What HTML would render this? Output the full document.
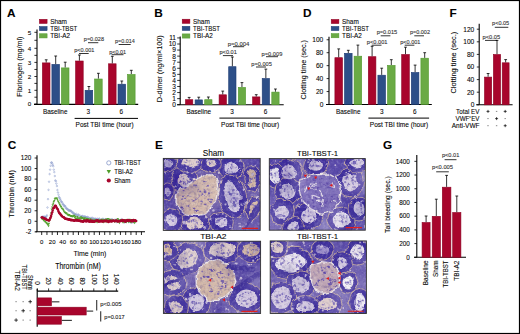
<!DOCTYPE html>
<html><head><meta charset="utf-8"><style>
html,body{margin:0;padding:0;background:#fff;}
body{width:520px;height:334px;overflow:hidden;}
svg{display:block;}
svg text{font-family:"Liberation Sans", sans-serif;stroke:#2a2a2a;stroke-width:0.1px;}
</style></head><body>
<svg width="520" height="334" viewBox="0 0 520 334">
<rect x="0" y="0" width="520" height="334" fill="#fff"/>
<defs>
<filter id="hc" x="-5%" y="-5%" width="110%" height="110%"><feGaussianBlur stdDeviation="3"/></filter>
<filter id="hb" x="-5%" y="-5%" width="110%" height="110%" color-interpolation-filters="sRGB">
<feTurbulence type="fractalNoise" baseFrequency="0.12" numOctaves="2" seed="4" result="dn"/>
<feDisplacementMap in="SourceGraphic" in2="dn" scale="5" xChannelSelector="R" yChannelSelector="G" result="dd"/>
<feGaussianBlur in="dd" stdDeviation="0.6"/></filter>
<filter id="hn" x="0" y="0" width="100%" height="100%" color-interpolation-filters="sRGB">
<feTurbulence type="fractalNoise" baseFrequency="0.35" numOctaves="2" seed="5" result="t"/>
<feColorMatrix in="t" type="matrix" values="0 0 0 0 1  0 0 0 0 1  0 0 0 0 1  2.2 0 0 0 -1.05"/>
</filter>
<filter id="hd" x="0" y="0" width="100%" height="100%" color-interpolation-filters="sRGB">
<feTurbulence type="fractalNoise" baseFrequency="0.35" numOctaves="2" seed="17" result="t"/>
<feColorMatrix in="t" type="matrix" values="0 0 0 0 0.18  0 0 0 0 0.12  0 0 0 0 0.5  2.2 0 0 0 -1.05"/>
</filter>

<clipPath id="c0"><rect x="163.3" y="158.4" width="96.9" height="72.0"/></clipPath>
<clipPath id="c1"><rect x="269.3" y="158.6" width="96.0" height="71.6"/></clipPath>
<clipPath id="c2"><rect x="163.4" y="241.2" width="97.2" height="72.3"/></clipPath>
<clipPath id="c3"><rect x="270.2" y="240.9" width="96.2" height="72.6"/></clipPath>
</defs>
<g clip-path="url(#c0)">
<rect x="163.3" y="158.4" width="96.9" height="72.0" fill="#4636a0"/>
<g filter="url(#hc)" opacity="0.35"><rect x="157.30" y="152.40" width="18.41" height="18.30" fill="#5a4aa0"/><rect x="175.41" y="152.40" width="12.41" height="18.30" fill="#8a78a8"/><rect x="187.53" y="152.40" width="12.41" height="18.30" fill="#c8b0b8"/><rect x="199.64" y="152.40" width="12.41" height="18.30" fill="#7a68a8"/><rect x="211.75" y="152.40" width="12.41" height="18.30" fill="#7a68a8"/><rect x="223.86" y="152.40" width="12.41" height="18.30" fill="#9080b8"/><rect x="235.98" y="152.40" width="12.41" height="18.30" fill="#7a68a8"/><rect x="248.09" y="152.40" width="18.41" height="18.30" fill="#6a5ab0"/><rect x="157.30" y="170.40" width="18.41" height="12.30" fill="#4a3c98"/><rect x="175.41" y="170.40" width="12.41" height="12.30" fill="#7868a8"/><rect x="187.53" y="170.40" width="12.41" height="12.30" fill="#8a78b0"/><rect x="199.64" y="170.40" width="12.41" height="12.30" fill="#b8a0b0"/><rect x="211.75" y="170.40" width="12.41" height="12.30" fill="#9a80a8"/><rect x="223.86" y="170.40" width="12.41" height="12.30" fill="#5a4aa0"/><rect x="235.98" y="170.40" width="12.41" height="12.30" fill="#6050a8"/><rect x="248.09" y="170.40" width="18.41" height="12.30" fill="#7060b0"/><rect x="157.30" y="182.40" width="18.41" height="12.30" fill="#4a3a98"/><rect x="175.41" y="182.40" width="12.41" height="12.30" fill="#6a5aa8"/><rect x="187.53" y="182.40" width="12.41" height="12.30" fill="#8a70a0"/><rect x="199.64" y="182.40" width="12.41" height="12.30" fill="#d0b8a8"/><rect x="211.75" y="182.40" width="12.41" height="12.30" fill="#c0a8b0"/><rect x="223.86" y="182.40" width="12.41" height="12.30" fill="#9888b8"/><rect x="235.98" y="182.40" width="12.41" height="12.30" fill="#8470a8"/><rect x="248.09" y="182.40" width="18.41" height="12.30" fill="#9a84a8"/><rect x="157.30" y="194.40" width="18.41" height="12.30" fill="#6a5aa8"/><rect x="175.41" y="194.40" width="12.41" height="12.30" fill="#b09ab0"/><rect x="187.53" y="194.40" width="12.41" height="12.30" fill="#cdb0a8"/><rect x="199.64" y="194.40" width="12.41" height="12.30" fill="#c8aca8"/><rect x="211.75" y="194.40" width="12.41" height="12.30" fill="#b8a0b0"/><rect x="223.86" y="194.40" width="12.41" height="12.30" fill="#8070a8"/><rect x="235.98" y="194.40" width="12.41" height="12.30" fill="#6a5aa8"/><rect x="248.09" y="194.40" width="18.41" height="12.30" fill="#9a88b0"/><rect x="157.30" y="206.40" width="18.41" height="12.30" fill="#8070b0"/><rect x="175.41" y="206.40" width="12.41" height="12.30" fill="#5a4aa0"/><rect x="187.53" y="206.40" width="12.41" height="12.30" fill="#b0a0b8"/><rect x="199.64" y="206.40" width="12.41" height="12.30" fill="#c0a8b0"/><rect x="211.75" y="206.40" width="12.41" height="12.30" fill="#7060a8"/><rect x="223.86" y="206.40" width="12.41" height="12.30" fill="#8a78a8"/><rect x="235.98" y="206.40" width="12.41" height="12.30" fill="#7060a8"/><rect x="248.09" y="206.40" width="18.41" height="12.30" fill="#8070b0"/><rect x="157.30" y="218.40" width="18.41" height="18.30" fill="#b0a0b8"/><rect x="175.41" y="218.40" width="12.41" height="18.30" fill="#7060a8"/><rect x="187.53" y="218.40" width="12.41" height="18.30" fill="#c0b0c0"/><rect x="199.64" y="218.40" width="12.41" height="18.30" fill="#7a68a8"/><rect x="211.75" y="218.40" width="12.41" height="18.30" fill="#8070a8"/><rect x="223.86" y="218.40" width="12.41" height="18.30" fill="#8474a8"/><rect x="235.98" y="218.40" width="12.41" height="18.30" fill="#9a88b0"/><rect x="248.09" y="218.40" width="18.41" height="18.30" fill="#8070b0"/></g>
<g filter="url(#hb)"><ellipse cx="184.1" cy="180.4" rx="13.0" ry="13.5" fill="#3e2e9c" stroke="#c4a898" stroke-width="0.9"/><ellipse cx="190.3" cy="162.4" rx="14.5" ry="10.0" fill="#3e2e9c" stroke="#c4a898" stroke-width="0.9"/><ellipse cx="231.3" cy="167.4" rx="13.0" ry="12.0" fill="#3e2e9c" stroke="#c4a898" stroke-width="0.9"/><ellipse cx="232.3" cy="196.4" rx="14.0" ry="21.5" fill="#3e2e9c" stroke="#c4a898" stroke-width="0.9" transform="rotate(-12 232.3 196.4)"/><ellipse cx="194.3" cy="223.4" rx="15.0" ry="12.0" fill="#3e2e9c" stroke="#c4a898" stroke-width="0.9"/><ellipse cx="171.3" cy="220.4" rx="11.5" ry="11.5" fill="#3e2e9c" stroke="#c4a898" stroke-width="0.9"/><ellipse cx="221.3" cy="222.4" rx="12.0" ry="11.0" fill="#3e2e9c" stroke="#c4a898" stroke-width="0.9"/><ellipse cx="168.3" cy="163.4" rx="8.5" ry="8.5" fill="#3e2e9c" stroke="#c4a898" stroke-width="0.9"/><ellipse cx="211.3" cy="163.4" rx="10.0" ry="8.5" fill="#3e2e9c" stroke="#c4a898" stroke-width="0.9"/><ellipse cx="252.3" cy="178.4" rx="8.5" ry="13.0" fill="#3e2e9c" stroke="#c4a898" stroke-width="0.9"/><ellipse cx="253.3" cy="208.4" rx="7.5" ry="12.0" fill="#3e2e9c" stroke="#c4a898" stroke-width="0.9" transform="rotate(20 253.3 208.4)"/><ellipse cx="167.3" cy="191.4" rx="7.0" ry="8.5" fill="#3e2e9c" stroke="#c4a898" stroke-width="0.9"/><ellipse cx="184.1" cy="180.4" rx="6.5" ry="7.0" fill="#dccac8"/><circle cx="180.4" cy="181.6" r="1.2" fill="#6252b0" opacity="0.75"/><circle cx="180.5" cy="181.3" r="1.0" fill="#6252b0" opacity="0.75"/><circle cx="185.6" cy="184.1" r="1.0" fill="#6252b0" opacity="0.75"/><circle cx="184.5" cy="178.7" r="0.8" fill="#6252b0" opacity="0.75"/><circle cx="188.0" cy="183.1" r="1.1" fill="#6252b0" opacity="0.75"/><circle cx="189.1" cy="181.8" r="1.3" fill="#6252b0" opacity="0.75"/><circle cx="181.8" cy="176.8" r="0.7" fill="#6252b0" opacity="0.75"/><ellipse cx="190.3" cy="162.4" rx="9.0" ry="4.5" fill="#dccac8"/><circle cx="195.5" cy="162.6" r="0.6" fill="#6252b0" opacity="0.75"/><circle cx="191.6" cy="164.0" r="0.6" fill="#6252b0" opacity="0.75"/><circle cx="185.6" cy="162.9" r="1.2" fill="#6252b0" opacity="0.75"/><circle cx="184.6" cy="162.1" r="0.9" fill="#6252b0" opacity="0.75"/><circle cx="187.8" cy="160.3" r="0.8" fill="#6252b0" opacity="0.75"/><circle cx="197.5" cy="162.3" r="1.2" fill="#6252b0" opacity="0.75"/><ellipse cx="231.3" cy="167.4" rx="7.0" ry="6.0" fill="#d2c8e0"/><circle cx="230.5" cy="164.8" r="0.8" fill="#6252b0" opacity="0.75"/><circle cx="230.9" cy="168.6" r="1.1" fill="#6252b0" opacity="0.75"/><circle cx="227.1" cy="170.0" r="0.9" fill="#6252b0" opacity="0.75"/><circle cx="236.3" cy="166.2" r="0.6" fill="#6252b0" opacity="0.75"/><circle cx="232.6" cy="171.8" r="0.9" fill="#6252b0" opacity="0.75"/><circle cx="234.8" cy="167.0" r="0.7" fill="#6252b0" opacity="0.75"/><circle cx="227.9" cy="164.3" r="0.8" fill="#6252b0" opacity="0.75"/><ellipse cx="232.3" cy="196.4" rx="7.5" ry="15.0" fill="#d2c8e0" transform="rotate(-12 232.3 196.4)"/><circle cx="235.3" cy="200.0" r="1.3" fill="#6252b0" opacity="0.75"/><circle cx="232.4" cy="192.3" r="0.8" fill="#6252b0" opacity="0.75"/><circle cx="233.5" cy="198.1" r="1.2" fill="#6252b0" opacity="0.75"/><circle cx="234.3" cy="204.5" r="0.9" fill="#6252b0" opacity="0.75"/><circle cx="234.2" cy="206.0" r="0.7" fill="#6252b0" opacity="0.75"/><circle cx="231.0" cy="193.2" r="0.9" fill="#6252b0" opacity="0.75"/><circle cx="233.0" cy="202.5" r="1.3" fill="#6252b0" opacity="0.75"/><circle cx="233.4" cy="190.2" r="1.2" fill="#6252b0" opacity="0.75"/><circle cx="233.2" cy="203.7" r="1.2" fill="#6252b0" opacity="0.75"/><circle cx="231.1" cy="193.4" r="1.3" fill="#6252b0" opacity="0.75"/><circle cx="233.0" cy="202.3" r="1.1" fill="#6252b0" opacity="0.75"/><circle cx="230.7" cy="202.1" r="0.7" fill="#6252b0" opacity="0.75"/><circle cx="236.2" cy="201.3" r="0.8" fill="#6252b0" opacity="0.75"/><circle cx="229.4" cy="192.1" r="0.9" fill="#6252b0" opacity="0.75"/><circle cx="236.3" cy="194.3" r="1.0" fill="#6252b0" opacity="0.75"/><circle cx="234.0" cy="192.6" r="0.7" fill="#6252b0" opacity="0.75"/><circle cx="236.9" cy="190.5" r="0.8" fill="#6252b0" opacity="0.75"/><circle cx="234.2" cy="206.0" r="1.3" fill="#6252b0" opacity="0.75"/><ellipse cx="194.3" cy="223.4" rx="9.0" ry="6.0" fill="#dccac8"/><circle cx="196.6" cy="227.8" r="1.2" fill="#6252b0" opacity="0.75"/><circle cx="190.6" cy="221.5" r="0.7" fill="#6252b0" opacity="0.75"/><circle cx="201.2" cy="224.5" r="0.8" fill="#6252b0" opacity="0.75"/><circle cx="193.3" cy="221.1" r="1.2" fill="#6252b0" opacity="0.75"/><circle cx="191.1" cy="221.9" r="0.7" fill="#6252b0" opacity="0.75"/><circle cx="194.0" cy="222.2" r="0.8" fill="#6252b0" opacity="0.75"/><circle cx="188.1" cy="221.8" r="1.0" fill="#6252b0" opacity="0.75"/><circle cx="193.0" cy="227.9" r="0.7" fill="#6252b0" opacity="0.75"/><circle cx="198.0" cy="223.7" r="0.9" fill="#6252b0" opacity="0.75"/><ellipse cx="171.3" cy="220.4" rx="6.0" ry="6.0" fill="#d2c8e0"/><circle cx="173.2" cy="221.1" r="0.9" fill="#6252b0" opacity="0.75"/><circle cx="169.7" cy="219.6" r="0.9" fill="#6252b0" opacity="0.75"/><circle cx="175.0" cy="217.4" r="1.1" fill="#6252b0" opacity="0.75"/><circle cx="170.0" cy="217.0" r="0.7" fill="#6252b0" opacity="0.75"/><circle cx="171.9" cy="220.5" r="1.2" fill="#6252b0" opacity="0.75"/><circle cx="169.9" cy="215.9" r="0.6" fill="#6252b0" opacity="0.75"/><ellipse cx="221.3" cy="222.4" rx="6.0" ry="5.0" fill="#d2c8e0"/><circle cx="219.1" cy="220.3" r="1.1" fill="#6252b0" opacity="0.75"/><circle cx="219.3" cy="226.0" r="0.7" fill="#6252b0" opacity="0.75"/><circle cx="217.4" cy="221.4" r="1.2" fill="#6252b0" opacity="0.75"/><circle cx="221.0" cy="219.1" r="1.2" fill="#6252b0" opacity="0.75"/><circle cx="223.8" cy="221.2" r="1.1" fill="#6252b0" opacity="0.75"/><ellipse cx="168.3" cy="163.4" rx="4.0" ry="4.0" fill="#d2c8e0"/><circle cx="170.7" cy="161.7" r="0.9" fill="#6252b0" opacity="0.75"/><circle cx="169.0" cy="160.5" r="1.0" fill="#6252b0" opacity="0.75"/><ellipse cx="211.3" cy="163.4" rx="5.0" ry="3.5" fill="#dccac8"/><circle cx="209.6" cy="162.2" r="1.0" fill="#6252b0" opacity="0.75"/><circle cx="210.4" cy="162.9" r="1.0" fill="#6252b0" opacity="0.75"/><ellipse cx="252.3" cy="178.4" rx="4.5" ry="9.0" fill="#d2b49e"/><circle cx="255.7" cy="178.1" r="1.1" fill="#6252b0" opacity="0.75"/><circle cx="249.9" cy="182.4" r="1.0" fill="#6252b0" opacity="0.75"/><circle cx="249.2" cy="180.8" r="0.7" fill="#6252b0" opacity="0.75"/><circle cx="252.3" cy="177.2" r="1.0" fill="#6252b0" opacity="0.75"/><circle cx="250.6" cy="178.8" r="1.1" fill="#6252b0" opacity="0.75"/><circle cx="249.5" cy="178.5" r="1.2" fill="#6252b0" opacity="0.75"/><ellipse cx="253.3" cy="208.4" rx="3.5" ry="8.0" fill="#d2b49e" transform="rotate(20 253.3 208.4)"/><circle cx="253.3" cy="209.1" r="0.8" fill="#6252b0" opacity="0.75"/><circle cx="252.8" cy="205.8" r="0.7" fill="#6252b0" opacity="0.75"/><circle cx="255.2" cy="205.5" r="0.9" fill="#6252b0" opacity="0.75"/><circle cx="254.5" cy="206.1" r="1.1" fill="#6252b0" opacity="0.75"/><ellipse cx="167.3" cy="191.4" rx="2.5" ry="4.0" fill="#d2c8e0"/><circle cx="167.7" cy="193.4" r="1.2" fill="#6252b0" opacity="0.75"/><circle cx="251.9" cy="221.8" r="0.91" fill="#d6cadf" opacity="0.8"/><circle cx="219.8" cy="181.2" r="0.71" fill="#d6cadf" opacity="0.8"/><circle cx="211.4" cy="218.7" r="1.28" fill="#d6cadf" opacity="0.8"/><circle cx="232.2" cy="226.8" r="0.82" fill="#d6cadf" opacity="0.8"/><circle cx="179.7" cy="190.8" r="0.82" fill="#d6cadf" opacity="0.8"/><circle cx="184.0" cy="188.2" r="1.10" fill="#d6cadf" opacity="0.8"/><circle cx="211.2" cy="181.1" r="1.27" fill="#d6cadf" opacity="0.8"/><circle cx="258.5" cy="191.0" r="0.66" fill="#d6cadf" opacity="0.8"/><circle cx="166.4" cy="221.2" r="0.63" fill="#d6cadf" opacity="0.8"/><circle cx="232.0" cy="199.5" r="0.85" fill="#d6cadf" opacity="0.8"/><circle cx="240.0" cy="159.8" r="0.71" fill="#d6cadf" opacity="0.8"/><circle cx="207.4" cy="160.2" r="1.26" fill="#d6cadf" opacity="0.8"/><circle cx="186.3" cy="168.5" r="0.64" fill="#d6cadf" opacity="0.8"/><circle cx="224.3" cy="190.5" r="1.10" fill="#d6cadf" opacity="0.8"/><circle cx="226.8" cy="216.5" r="1.37" fill="#d6cadf" opacity="0.8"/><circle cx="229.6" cy="172.8" r="0.98" fill="#d6cadf" opacity="0.8"/><circle cx="180.6" cy="159.2" r="0.98" fill="#d6cadf" opacity="0.8"/><circle cx="232.5" cy="171.3" r="0.82" fill="#d6cadf" opacity="0.8"/><circle cx="196.8" cy="208.6" r="1.02" fill="#d6cadf" opacity="0.8"/><circle cx="222.8" cy="212.8" r="0.91" fill="#d6cadf" opacity="0.8"/><circle cx="240.0" cy="223.6" r="0.67" fill="#d6cadf" opacity="0.8"/><circle cx="253.7" cy="210.4" r="0.70" fill="#d6cadf" opacity="0.8"/><circle cx="207.2" cy="203.4" r="1.33" fill="#d6cadf" opacity="0.8"/><circle cx="199.8" cy="199.4" r="1.30" fill="#d6cadf" opacity="0.8"/><circle cx="240.5" cy="226.4" r="0.97" fill="#d6cadf" opacity="0.8"/><circle cx="226.4" cy="173.2" r="1.18" fill="#d6cadf" opacity="0.8"/><circle cx="242.6" cy="204.6" r="1.17" fill="#d6cadf" opacity="0.8"/><circle cx="184.0" cy="223.2" r="1.38" fill="#d6cadf" opacity="0.8"/><circle cx="258.0" cy="197.1" r="1.23" fill="#d6cadf" opacity="0.8"/><circle cx="194.3" cy="223.9" r="1.28" fill="#d6cadf" opacity="0.8"/><circle cx="197.1" cy="164.4" r="0.95" fill="#d6cadf" opacity="0.8"/><circle cx="216.6" cy="213.7" r="0.99" fill="#d6cadf" opacity="0.8"/><circle cx="166.1" cy="216.7" r="0.65" fill="#d6cadf" opacity="0.8"/><circle cx="240.8" cy="170.8" r="0.87" fill="#d6cadf" opacity="0.8"/><circle cx="239.6" cy="168.5" r="0.72" fill="#d6cadf" opacity="0.8"/><circle cx="213.4" cy="210.5" r="1.27" fill="#d6cadf" opacity="0.8"/><circle cx="230.1" cy="226.5" r="0.99" fill="#d6cadf" opacity="0.8"/><circle cx="255.3" cy="164.6" r="0.78" fill="#d6cadf" opacity="0.8"/><circle cx="214.3" cy="179.3" r="1.18" fill="#d6cadf" opacity="0.8"/><circle cx="225.2" cy="196.0" r="1.27" fill="#d6cadf" opacity="0.8"/><circle cx="217.6" cy="180.8" r="0.90" fill="#d6cadf" opacity="0.8"/><circle cx="245.2" cy="223.2" r="0.77" fill="#d6cadf" opacity="0.8"/><circle cx="245.7" cy="228.1" r="1.02" fill="#d6cadf" opacity="0.8"/><circle cx="218.8" cy="172.9" r="1.03" fill="#d6cadf" opacity="0.8"/><circle cx="212.1" cy="202.0" r="0.62" fill="#d6cadf" opacity="0.8"/><circle cx="257.2" cy="195.6" r="0.92" fill="#d6cadf" opacity="0.8"/><circle cx="240.9" cy="198.9" r="0.99" fill="#d6cadf" opacity="0.8"/><circle cx="230.3" cy="163.1" r="1.03" fill="#d6cadf" opacity="0.8"/><circle cx="203.4" cy="227.3" r="1.34" fill="#d6cadf" opacity="0.8"/><circle cx="189.4" cy="192.5" r="0.70" fill="#d6cadf" opacity="0.8"/><circle cx="205.3" cy="217.1" r="1.32" fill="#d6cadf" opacity="0.8"/><circle cx="209.5" cy="181.2" r="0.75" fill="#d6cadf" opacity="0.8"/><circle cx="223.2" cy="225.0" r="0.70" fill="#d6cadf" opacity="0.8"/><circle cx="238.8" cy="160.0" r="0.76" fill="#d6cadf" opacity="0.8"/><circle cx="185.3" cy="207.9" r="0.86" fill="#d6cadf" opacity="0.8"/><circle cx="197.7" cy="203.0" r="0.68" fill="#d6cadf" opacity="0.8"/><circle cx="234.1" cy="167.2" r="1.01" fill="#d6cadf" opacity="0.8"/><circle cx="187.6" cy="172.6" r="1.02" fill="#d6cadf" opacity="0.8"/><circle cx="205.6" cy="185.5" r="0.93" fill="#d6cadf" opacity="0.8"/><circle cx="214.6" cy="169.9" r="0.76" fill="#d6cadf" opacity="0.8"/><circle cx="224.5" cy="204.4" r="1.02" fill="#d6cadf" opacity="0.8"/><circle cx="245.8" cy="202.4" r="1.29" fill="#d6cadf" opacity="0.8"/><circle cx="185.8" cy="211.7" r="1.25" fill="#d6cadf" opacity="0.8"/><circle cx="250.8" cy="181.1" r="0.85" fill="#d6cadf" opacity="0.8"/><circle cx="252.7" cy="174.1" r="1.40" fill="#d6cadf" opacity="0.8"/><circle cx="249.3" cy="168.0" r="0.79" fill="#d6cadf" opacity="0.8"/><circle cx="233.7" cy="177.1" r="0.68" fill="#d6cadf" opacity="0.8"/><circle cx="243.9" cy="188.8" r="1.23" fill="#d6cadf" opacity="0.8"/><circle cx="175.5" cy="187.4" r="1.15" fill="#d6cadf" opacity="0.8"/><circle cx="165.0" cy="172.9" r="1.15" fill="#d6cadf" opacity="0.8"/><polygon points="176.4,195.6 179.7,189.0 187.4,185.8 193.9,180.3 203.8,174.8 212.5,174.8 216.9,180.3 218.0,189.0 215.8,200.0 210.3,208.7 204.9,214.2 196.1,215.7 186.3,214.2 178.6,208.7 176.0,202.2" fill="#d0b4a6" stroke="#eee6e6" stroke-width="1.3" stroke-linejoin="round"/><ellipse cx="210.1" cy="209.9" rx="0.9" ry="0.9" fill="#5a44a8" opacity="0.85"/><ellipse cx="205.2" cy="195.6" rx="1.3" ry="0.7" fill="#5a44a8" opacity="0.85"/><ellipse cx="183.6" cy="183.5" rx="0.8" ry="0.9" fill="#5a44a8" opacity="0.85"/><ellipse cx="197.6" cy="197.7" rx="0.9" ry="0.7" fill="#5a44a8" opacity="0.85"/><ellipse cx="187.8" cy="206.0" rx="1.5" ry="1.1" fill="#5a44a8" opacity="0.85"/><ellipse cx="184.4" cy="182.1" rx="1.5" ry="0.8" fill="#5a44a8" opacity="0.85"/><ellipse cx="205.4" cy="190.2" rx="1.1" ry="0.9" fill="#5a44a8" opacity="0.85"/><ellipse cx="194.9" cy="198.6" rx="0.8" ry="1.0" fill="#5a44a8" opacity="0.85"/><ellipse cx="208.0" cy="185.8" rx="1.1" ry="1.0" fill="#5a44a8" opacity="0.85"/><ellipse cx="194.1" cy="186.2" rx="0.9" ry="0.9" fill="#5a44a8" opacity="0.85"/><ellipse cx="181.8" cy="207.6" rx="1.4" ry="1.0" fill="#5a44a8" opacity="0.85"/><ellipse cx="208.5" cy="199.5" rx="1.1" ry="0.9" fill="#5a44a8" opacity="0.85"/><ellipse cx="197.2" cy="210.4" rx="1.4" ry="0.7" fill="#5a44a8" opacity="0.85"/><ellipse cx="210.1" cy="203.1" rx="1.3" ry="1.0" fill="#5a44a8" opacity="0.85"/><ellipse cx="194.1" cy="207.7" rx="1.4" ry="0.9" fill="#5a44a8" opacity="0.85"/><ellipse cx="205.5" cy="203.7" rx="1.1" ry="1.0" fill="#5a44a8" opacity="0.85"/><ellipse cx="183.6" cy="190.7" rx="1.1" ry="0.6" fill="#5a44a8" opacity="0.85"/><ellipse cx="192.6" cy="199.8" rx="1.2" ry="0.7" fill="#5a44a8" opacity="0.85"/><ellipse cx="211.1" cy="200.6" rx="1.0" ry="0.9" fill="#5a44a8" opacity="0.85"/><ellipse cx="199.3" cy="196.6" rx="1.1" ry="1.1" fill="#5a44a8" opacity="0.85"/><ellipse cx="201.6" cy="201.7" rx="1.3" ry="1.1" fill="#5a44a8" opacity="0.85"/><ellipse cx="182.1" cy="199.1" rx="1.3" ry="0.7" fill="#5a44a8" opacity="0.85"/><ellipse cx="194.0" cy="181.8" rx="0.9" ry="0.8" fill="#5a44a8" opacity="0.85"/><ellipse cx="184.5" cy="187.9" rx="1.4" ry="0.9" fill="#5a44a8" opacity="0.85"/><ellipse cx="197.4" cy="209.9" rx="1.2" ry="1.1" fill="#5a44a8" opacity="0.85"/><ellipse cx="201.5" cy="205.0" rx="0.9" ry="0.9" fill="#5a44a8" opacity="0.85"/><ellipse cx="205.3" cy="181.6" rx="1.5" ry="0.7" fill="#5a44a8" opacity="0.85"/><ellipse cx="196.2" cy="185.4" rx="1.1" ry="0.9" fill="#5a44a8" opacity="0.85"/><ellipse cx="183.2" cy="209.2" rx="1.1" ry="0.9" fill="#5a44a8" opacity="0.85"/><ellipse cx="200.2" cy="191.4" rx="1.0" ry="0.9" fill="#5a44a8" opacity="0.85"/><ellipse cx="199.0" cy="188.9" rx="1.3" ry="0.7" fill="#5a44a8" opacity="0.85"/><ellipse cx="181.8" cy="187.7" rx="0.8" ry="0.7" fill="#5a44a8" opacity="0.85"/><ellipse cx="205.1" cy="192.2" rx="1.4" ry="1.0" fill="#5a44a8" opacity="0.85"/><ellipse cx="182.9" cy="210.5" rx="1.5" ry="0.6" fill="#5a44a8" opacity="0.85"/><ellipse cx="209.9" cy="193.4" rx="1.1" ry="1.1" fill="#5a44a8" opacity="0.85"/><ellipse cx="189.0" cy="196.3" rx="1.5" ry="1.0" fill="#5a44a8" opacity="0.85"/><ellipse cx="196.1" cy="210.2" rx="1.4" ry="0.9" fill="#5a44a8" opacity="0.85"/><ellipse cx="185.0" cy="199.4" rx="1.1" ry="0.7" fill="#5a44a8" opacity="0.85"/><ellipse cx="183.0" cy="196.4" rx="0.9" ry="0.8" fill="#5a44a8" opacity="0.85"/><ellipse cx="202.4" cy="194.2" rx="1.0" ry="0.9" fill="#5a44a8" opacity="0.85"/><line x1="259.3" y1="202.4" x2="244.3" y2="229.4" stroke="#3a2a96" stroke-width="3.5" stroke-linecap="round"/></g>
<rect x="163.3" y="158.4" width="96.9" height="72.0" filter="url(#hn)" opacity="0.22"/>
<rect x="163.3" y="158.4" width="96.9" height="72.0" filter="url(#hd)" opacity="0.35"/>
<g filter="url(#hc)"><rect x="175.41" y="152.40" width="12.11" height="18.00" fill="#f4eef0" opacity="0.069"/><rect x="187.53" y="152.40" width="12.11" height="18.00" fill="#f4eef0" opacity="0.132"/><rect x="199.64" y="152.40" width="12.11" height="18.00" fill="#f4eef0" opacity="0.040"/><rect x="211.75" y="152.40" width="12.11" height="18.00" fill="#f4eef0" opacity="0.064"/><rect x="235.98" y="152.40" width="12.11" height="18.00" fill="#f4eef0" opacity="0.075"/><rect x="248.09" y="152.40" width="18.11" height="18.00" fill="#f4eef0" opacity="0.049"/><rect x="187.53" y="170.40" width="12.11" height="12.00" fill="#f4eef0" opacity="0.087"/><rect x="199.64" y="170.40" width="12.11" height="12.00" fill="#f4eef0" opacity="0.062"/><rect x="211.75" y="170.40" width="12.11" height="12.00" fill="#f4eef0" opacity="0.061"/><rect x="235.98" y="170.40" width="12.11" height="12.00" fill="#f4eef0" opacity="0.016"/><rect x="199.64" y="182.40" width="12.11" height="12.00" fill="#f4eef0" opacity="0.117"/><rect x="211.75" y="182.40" width="12.11" height="12.00" fill="#f4eef0" opacity="0.140"/><rect x="235.98" y="182.40" width="12.11" height="12.00" fill="#f4eef0" opacity="0.094"/><rect x="248.09" y="182.40" width="18.11" height="12.00" fill="#f4eef0" opacity="0.099"/><rect x="157.30" y="194.40" width="18.11" height="12.00" fill="#f4eef0" opacity="0.037"/><rect x="187.53" y="194.40" width="12.11" height="12.00" fill="#f4eef0" opacity="0.057"/><rect x="199.64" y="194.40" width="12.11" height="12.00" fill="#f4eef0" opacity="0.058"/><rect x="211.75" y="194.40" width="12.11" height="12.00" fill="#f4eef0" opacity="0.179"/><rect x="248.09" y="194.40" width="18.11" height="12.00" fill="#f4eef0" opacity="0.132"/><rect x="157.30" y="206.40" width="18.11" height="12.00" fill="#f4eef0" opacity="0.073"/><rect x="187.53" y="206.40" width="12.11" height="12.00" fill="#f4eef0" opacity="0.037"/><rect x="199.64" y="206.40" width="12.11" height="12.00" fill="#f4eef0" opacity="0.100"/><rect x="211.75" y="206.40" width="12.11" height="12.00" fill="#f4eef0" opacity="0.034"/><rect x="223.86" y="206.40" width="12.11" height="12.00" fill="#f4eef0" opacity="0.078"/><rect x="235.98" y="206.40" width="12.11" height="12.00" fill="#f4eef0" opacity="0.026"/><rect x="248.09" y="206.40" width="18.11" height="12.00" fill="#f4eef0" opacity="0.103"/><rect x="157.30" y="218.40" width="18.11" height="18.00" fill="#f4eef0" opacity="0.159"/><rect x="175.41" y="218.40" width="12.11" height="18.00" fill="#f4eef0" opacity="0.038"/><rect x="187.53" y="218.40" width="12.11" height="18.00" fill="#f4eef0" opacity="0.030"/><rect x="199.64" y="218.40" width="12.11" height="18.00" fill="#f4eef0" opacity="0.046"/><rect x="223.86" y="218.40" width="12.11" height="18.00" fill="#f4eef0" opacity="0.083"/><rect x="235.98" y="218.40" width="12.11" height="18.00" fill="#f4eef0" opacity="0.155"/><rect x="248.09" y="218.40" width="18.11" height="18.00" fill="#f4eef0" opacity="0.104"/><rect x="157.30" y="152.40" width="18.11" height="18.00" fill="#33238a" opacity="0.278"/><rect x="223.86" y="152.40" width="12.11" height="18.00" fill="#33238a" opacity="0.016"/><rect x="157.30" y="170.40" width="18.11" height="12.00" fill="#33238a" opacity="0.190"/><rect x="175.41" y="170.40" width="12.11" height="12.00" fill="#33238a" opacity="0.123"/><rect x="223.86" y="170.40" width="12.11" height="12.00" fill="#33238a" opacity="0.130"/><rect x="248.09" y="170.40" width="18.11" height="12.00" fill="#33238a" opacity="0.158"/><rect x="157.30" y="182.40" width="18.11" height="12.00" fill="#33238a" opacity="0.286"/><rect x="175.41" y="182.40" width="12.11" height="12.00" fill="#33238a" opacity="0.230"/><rect x="187.53" y="182.40" width="12.11" height="12.00" fill="#33238a" opacity="0.192"/><rect x="223.86" y="182.40" width="12.11" height="12.00" fill="#33238a" opacity="0.139"/><rect x="175.41" y="194.40" width="12.11" height="12.00" fill="#33238a" opacity="0.057"/><rect x="223.86" y="194.40" width="12.11" height="12.00" fill="#33238a" opacity="0.196"/><rect x="235.98" y="194.40" width="12.11" height="12.00" fill="#33238a" opacity="0.127"/><rect x="175.41" y="206.40" width="12.11" height="12.00" fill="#33238a" opacity="0.243"/><rect x="211.75" y="218.40" width="12.11" height="18.00" fill="#33238a" opacity="0.048"/></g>
<line x1="241.8" y1="228.4" x2="258.0" y2="228.4" stroke="#e02020" stroke-width="1.1"/>
</g>
<rect x="163.3" y="158.4" width="96.9" height="72.0" fill="none" stroke="#333" stroke-width="0.9"/>
<g clip-path="url(#c1)">
<rect x="269.3" y="158.6" width="96.0" height="71.6" fill="#4a3aa4"/>
<g filter="url(#hc)" opacity="0.35"><rect x="263.30" y="152.60" width="18.30" height="18.23" fill="#7060b0"/><rect x="281.30" y="152.60" width="12.30" height="18.23" fill="#6a5ab0"/><rect x="293.30" y="152.60" width="12.30" height="18.23" fill="#9888c0"/><rect x="305.30" y="152.60" width="12.30" height="18.23" fill="#6a5ab0"/><rect x="317.30" y="152.60" width="12.30" height="18.23" fill="#8070b8"/><rect x="329.30" y="152.60" width="12.30" height="18.23" fill="#6a5ab0"/><rect x="341.30" y="152.60" width="12.30" height="18.23" fill="#7060b0"/><rect x="353.30" y="152.60" width="18.30" height="18.23" fill="#a8a0d0"/><rect x="263.30" y="170.53" width="18.30" height="12.23" fill="#c0b8d8"/><rect x="281.30" y="170.53" width="12.30" height="12.23" fill="#5a4aa8"/><rect x="293.30" y="170.53" width="12.30" height="12.23" fill="#b0a0c8"/><rect x="305.30" y="170.53" width="12.30" height="12.23" fill="#8070b0"/><rect x="317.30" y="170.53" width="12.30" height="12.23" fill="#a090b8"/><rect x="329.30" y="170.53" width="12.30" height="12.23" fill="#7060b0"/><rect x="341.30" y="170.53" width="12.30" height="12.23" fill="#9080c0"/><rect x="353.30" y="170.53" width="18.30" height="12.23" fill="#c0b8d8"/><rect x="263.30" y="182.47" width="18.30" height="12.23" fill="#7060b0"/><rect x="281.30" y="182.47" width="12.30" height="12.23" fill="#6a5ab0"/><rect x="293.30" y="182.47" width="12.30" height="12.23" fill="#a090b8"/><rect x="305.30" y="182.47" width="12.30" height="12.23" fill="#9080b8"/><rect x="317.30" y="182.47" width="12.30" height="12.23" fill="#9080b8"/><rect x="329.30" y="182.47" width="12.30" height="12.23" fill="#9888b8"/><rect x="341.30" y="182.47" width="12.30" height="12.23" fill="#b8b0d0"/><rect x="353.30" y="182.47" width="18.30" height="12.23" fill="#a8a0d0"/><rect x="263.30" y="194.40" width="18.30" height="12.23" fill="#8070b8"/><rect x="281.30" y="194.40" width="12.30" height="12.23" fill="#7a6ab0"/><rect x="293.30" y="194.40" width="12.30" height="12.23" fill="#6a5ab0"/><rect x="305.30" y="194.40" width="12.30" height="12.23" fill="#9a8cc0"/><rect x="317.30" y="194.40" width="12.30" height="12.23" fill="#8070b0"/><rect x="329.30" y="194.40" width="12.30" height="12.23" fill="#8070b0"/><rect x="341.30" y="194.40" width="12.30" height="12.23" fill="#6050a8"/><rect x="353.30" y="194.40" width="18.30" height="12.23" fill="#6a5ab0"/><rect x="263.30" y="206.33" width="18.30" height="12.23" fill="#a898c8"/><rect x="281.30" y="206.33" width="12.30" height="12.23" fill="#c0b0c8"/><rect x="293.30" y="206.33" width="12.30" height="12.23" fill="#5a4aa8"/><rect x="305.30" y="206.33" width="12.30" height="12.23" fill="#b0a4c8"/><rect x="317.30" y="206.33" width="12.30" height="12.23" fill="#8070b8"/><rect x="329.30" y="206.33" width="12.30" height="12.23" fill="#c8c0dc"/><rect x="341.30" y="206.33" width="12.30" height="12.23" fill="#7a6ab8"/><rect x="353.30" y="206.33" width="18.30" height="12.23" fill="#7868b8"/><rect x="263.30" y="218.27" width="18.30" height="18.23" fill="#9a8cc0"/><rect x="281.30" y="218.27" width="12.30" height="18.23" fill="#6a5ab0"/><rect x="293.30" y="218.27" width="12.30" height="18.23" fill="#7060b0"/><rect x="305.30" y="218.27" width="12.30" height="18.23" fill="#8070b8"/><rect x="317.30" y="218.27" width="12.30" height="18.23" fill="#b0a8d0"/><rect x="329.30" y="218.27" width="12.30" height="18.23" fill="#c0b8d8"/><rect x="341.30" y="218.27" width="12.30" height="18.23" fill="#7060b0"/><rect x="353.30" y="218.27" width="18.30" height="18.23" fill="#7a6ab8"/></g>
<g filter="url(#hb)"><ellipse cx="289.0" cy="171.7" rx="13.7" ry="12.6" fill="#3e2e9c" stroke="#c4a898" stroke-width="0.9"/><ellipse cx="315.3" cy="165.2" rx="12.6" ry="11.5" fill="#3e2e9c" stroke="#c4a898" stroke-width="0.9"/><ellipse cx="274.8" cy="176.1" rx="10.0" ry="12.2" fill="#3e2e9c" stroke="#c4a898" stroke-width="0.9"/><ellipse cx="287.9" cy="191.4" rx="13.1" ry="14.2" fill="#3e2e9c" stroke="#c4a898" stroke-width="0.9"/><ellipse cx="282.4" cy="212.2" rx="13.1" ry="13.1" fill="#3e2e9c" stroke="#c4a898" stroke-width="0.9"/><ellipse cx="308.7" cy="215.5" rx="14.2" ry="14.2" fill="#3e2e9c" stroke="#c4a898" stroke-width="0.9"/><ellipse cx="350.3" cy="182.6" rx="14.2" ry="15.3" fill="#3e2e9c" stroke="#c4a898" stroke-width="0.9"/><ellipse cx="341.5" cy="219.9" rx="13.8" ry="12.7" fill="#3e2e9c" stroke="#c4a898" stroke-width="0.9"/><ellipse cx="356.8" cy="163.0" rx="11.6" ry="9.4" fill="#3e2e9c" stroke="#c4a898" stroke-width="0.9"/><ellipse cx="359.0" cy="208.9" rx="11.0" ry="12.1" fill="#3e2e9c" stroke="#c4a898" stroke-width="0.9"/><ellipse cx="293.3" cy="226.4" rx="10.5" ry="9.4" fill="#3e2e9c" stroke="#c4a898" stroke-width="0.9"/><ellipse cx="289.0" cy="171.7" rx="7.7" ry="6.6" fill="#d2c8e0"/><circle cx="284.2" cy="174.0" r="1.0" fill="#6252b0" opacity="0.75"/><circle cx="295.0" cy="171.6" r="1.1" fill="#6252b0" opacity="0.75"/><circle cx="289.2" cy="173.5" r="1.2" fill="#6252b0" opacity="0.75"/><circle cx="290.0" cy="167.6" r="0.9" fill="#6252b0" opacity="0.75"/><circle cx="288.3" cy="176.0" r="1.0" fill="#6252b0" opacity="0.75"/><circle cx="284.9" cy="169.4" r="1.1" fill="#6252b0" opacity="0.75"/><circle cx="290.1" cy="174.1" r="1.3" fill="#6252b0" opacity="0.75"/><circle cx="294.0" cy="169.2" r="0.6" fill="#6252b0" opacity="0.75"/><ellipse cx="315.3" cy="165.2" rx="6.6" ry="5.5" fill="#d2c8e0"/><circle cx="317.9" cy="166.1" r="0.9" fill="#6252b0" opacity="0.75"/><circle cx="314.1" cy="164.2" r="1.0" fill="#6252b0" opacity="0.75"/><circle cx="316.7" cy="165.8" r="1.1" fill="#6252b0" opacity="0.75"/><circle cx="311.3" cy="164.1" r="0.9" fill="#6252b0" opacity="0.75"/><circle cx="312.9" cy="165.5" r="0.8" fill="#6252b0" opacity="0.75"/><circle cx="315.1" cy="161.2" r="0.7" fill="#6252b0" opacity="0.75"/><ellipse cx="274.8" cy="176.1" rx="5.5" ry="7.7" fill="#e8e4ee"/><circle cx="277.7" cy="179.9" r="1.0" fill="#6252b0" opacity="0.75"/><circle cx="275.0" cy="173.3" r="0.9" fill="#6252b0" opacity="0.75"/><circle cx="274.6" cy="181.6" r="0.9" fill="#6252b0" opacity="0.75"/><circle cx="272.3" cy="171.1" r="0.8" fill="#6252b0" opacity="0.75"/><circle cx="271.2" cy="174.5" r="1.2" fill="#6252b0" opacity="0.75"/><circle cx="272.4" cy="177.7" r="0.7" fill="#6252b0" opacity="0.75"/><circle cx="275.7" cy="174.9" r="0.7" fill="#6252b0" opacity="0.75"/><ellipse cx="287.9" cy="191.4" rx="6.6" ry="7.7" fill="#d2c8e0"/><circle cx="284.5" cy="189.7" r="1.1" fill="#6252b0" opacity="0.75"/><circle cx="286.5" cy="196.6" r="0.7" fill="#6252b0" opacity="0.75"/><circle cx="288.9" cy="196.3" r="0.7" fill="#6252b0" opacity="0.75"/><circle cx="286.4" cy="196.3" r="1.1" fill="#6252b0" opacity="0.75"/><circle cx="287.5" cy="193.7" r="0.9" fill="#6252b0" opacity="0.75"/><circle cx="287.4" cy="187.7" r="0.7" fill="#6252b0" opacity="0.75"/><circle cx="286.9" cy="186.9" r="1.2" fill="#6252b0" opacity="0.75"/><circle cx="292.6" cy="189.2" r="0.9" fill="#6252b0" opacity="0.75"/><ellipse cx="282.4" cy="212.2" rx="6.6" ry="6.6" fill="#d2c8e0"/><circle cx="283.4" cy="209.4" r="0.8" fill="#6252b0" opacity="0.75"/><circle cx="278.3" cy="215.2" r="1.2" fill="#6252b0" opacity="0.75"/><circle cx="282.4" cy="215.4" r="0.9" fill="#6252b0" opacity="0.75"/><circle cx="280.2" cy="214.7" r="0.9" fill="#6252b0" opacity="0.75"/><circle cx="283.7" cy="215.9" r="1.2" fill="#6252b0" opacity="0.75"/><circle cx="277.7" cy="211.0" r="1.0" fill="#6252b0" opacity="0.75"/><circle cx="284.4" cy="216.3" r="1.2" fill="#6252b0" opacity="0.75"/><ellipse cx="308.7" cy="215.5" rx="7.7" ry="7.7" fill="#d2c8e0"/><circle cx="308.5" cy="216.4" r="1.0" fill="#6252b0" opacity="0.75"/><circle cx="304.2" cy="214.2" r="1.3" fill="#6252b0" opacity="0.75"/><circle cx="305.5" cy="211.0" r="0.6" fill="#6252b0" opacity="0.75"/><circle cx="303.5" cy="213.9" r="0.7" fill="#6252b0" opacity="0.75"/><circle cx="313.3" cy="218.1" r="1.2" fill="#6252b0" opacity="0.75"/><circle cx="312.9" cy="218.0" r="0.7" fill="#6252b0" opacity="0.75"/><circle cx="308.6" cy="210.5" r="0.8" fill="#6252b0" opacity="0.75"/><circle cx="309.7" cy="220.8" r="1.0" fill="#6252b0" opacity="0.75"/><circle cx="309.1" cy="211.6" r="0.8" fill="#6252b0" opacity="0.75"/><ellipse cx="350.3" cy="182.6" rx="7.7" ry="8.8" fill="#d2c8e0"/><circle cx="355.3" cy="181.5" r="0.9" fill="#6252b0" opacity="0.75"/><circle cx="345.2" cy="181.2" r="1.1" fill="#6252b0" opacity="0.75"/><circle cx="353.7" cy="180.3" r="1.2" fill="#6252b0" opacity="0.75"/><circle cx="347.5" cy="177.0" r="1.2" fill="#6252b0" opacity="0.75"/><circle cx="353.2" cy="176.9" r="1.3" fill="#6252b0" opacity="0.75"/><circle cx="347.5" cy="178.7" r="1.1" fill="#6252b0" opacity="0.75"/><circle cx="351.6" cy="178.3" r="0.9" fill="#6252b0" opacity="0.75"/><circle cx="353.5" cy="187.4" r="1.3" fill="#6252b0" opacity="0.75"/><circle cx="348.5" cy="184.6" r="0.7" fill="#6252b0" opacity="0.75"/><circle cx="347.3" cy="184.3" r="1.3" fill="#6252b0" opacity="0.75"/><circle cx="353.5" cy="184.0" r="0.7" fill="#6252b0" opacity="0.75"/><ellipse cx="341.5" cy="219.9" rx="8.8" ry="7.7" fill="#e4e0ee"/><circle cx="337.8" cy="215.6" r="0.7" fill="#6252b0" opacity="0.75"/><circle cx="345.9" cy="221.5" r="1.0" fill="#6252b0" opacity="0.75"/><circle cx="342.6" cy="219.3" r="0.7" fill="#6252b0" opacity="0.75"/><circle cx="342.8" cy="222.5" r="0.8" fill="#6252b0" opacity="0.75"/><circle cx="340.4" cy="215.2" r="0.8" fill="#6252b0" opacity="0.75"/><circle cx="343.0" cy="222.9" r="0.7" fill="#6252b0" opacity="0.75"/><circle cx="341.7" cy="216.5" r="1.0" fill="#6252b0" opacity="0.75"/><circle cx="343.5" cy="216.0" r="0.8" fill="#6252b0" opacity="0.75"/><circle cx="346.6" cy="216.1" r="0.8" fill="#6252b0" opacity="0.75"/><circle cx="334.9" cy="218.1" r="0.9" fill="#6252b0" opacity="0.75"/><circle cx="341.8" cy="221.3" r="1.3" fill="#6252b0" opacity="0.75"/><ellipse cx="356.8" cy="163.0" rx="6.6" ry="4.4" fill="#d2c8e0"/><circle cx="357.8" cy="160.9" r="1.0" fill="#6252b0" opacity="0.75"/><circle cx="354.0" cy="162.8" r="1.3" fill="#6252b0" opacity="0.75"/><circle cx="355.4" cy="161.6" r="0.6" fill="#6252b0" opacity="0.75"/><circle cx="353.6" cy="163.4" r="1.2" fill="#6252b0" opacity="0.75"/><ellipse cx="359.0" cy="208.9" rx="5.5" ry="6.6" fill="#d2c8e0"/><circle cx="358.2" cy="204.9" r="0.7" fill="#6252b0" opacity="0.75"/><circle cx="360.4" cy="211.4" r="0.8" fill="#6252b0" opacity="0.75"/><circle cx="361.2" cy="206.1" r="1.0" fill="#6252b0" opacity="0.75"/><circle cx="361.3" cy="208.8" r="1.0" fill="#6252b0" opacity="0.75"/><circle cx="361.3" cy="212.7" r="0.6" fill="#6252b0" opacity="0.75"/><circle cx="360.8" cy="204.5" r="1.2" fill="#6252b0" opacity="0.75"/><ellipse cx="293.3" cy="226.4" rx="5.5" ry="4.4" fill="#d2c8e0"/><circle cx="295.3" cy="227.3" r="1.1" fill="#6252b0" opacity="0.75"/><circle cx="295.8" cy="227.8" r="0.9" fill="#6252b0" opacity="0.75"/><circle cx="296.5" cy="225.7" r="1.2" fill="#6252b0" opacity="0.75"/><circle cx="292.0" cy="229.4" r="0.9" fill="#6252b0" opacity="0.75"/><circle cx="357.3" cy="165.1" r="1.26" fill="#d6cadf" opacity="0.8"/><circle cx="289.3" cy="197.5" r="1.02" fill="#d6cadf" opacity="0.8"/><circle cx="284.4" cy="218.2" r="0.85" fill="#d6cadf" opacity="0.8"/><circle cx="299.1" cy="164.0" r="0.84" fill="#d6cadf" opacity="0.8"/><circle cx="314.2" cy="209.8" r="0.89" fill="#d6cadf" opacity="0.8"/><circle cx="335.3" cy="166.2" r="0.92" fill="#d6cadf" opacity="0.8"/><circle cx="313.6" cy="227.8" r="1.26" fill="#d6cadf" opacity="0.8"/><circle cx="332.1" cy="159.5" r="0.90" fill="#d6cadf" opacity="0.8"/><circle cx="337.5" cy="175.6" r="1.05" fill="#d6cadf" opacity="0.8"/><circle cx="313.3" cy="159.3" r="1.39" fill="#d6cadf" opacity="0.8"/><circle cx="346.0" cy="173.4" r="1.09" fill="#d6cadf" opacity="0.8"/><circle cx="297.2" cy="185.5" r="1.03" fill="#d6cadf" opacity="0.8"/><circle cx="297.9" cy="182.8" r="0.91" fill="#d6cadf" opacity="0.8"/><circle cx="333.3" cy="177.0" r="0.76" fill="#d6cadf" opacity="0.8"/><circle cx="339.5" cy="182.2" r="1.36" fill="#d6cadf" opacity="0.8"/><circle cx="323.3" cy="210.4" r="0.87" fill="#d6cadf" opacity="0.8"/><circle cx="348.7" cy="165.2" r="0.71" fill="#d6cadf" opacity="0.8"/><circle cx="278.4" cy="207.1" r="1.17" fill="#d6cadf" opacity="0.8"/><circle cx="286.6" cy="187.4" r="1.27" fill="#d6cadf" opacity="0.8"/><circle cx="326.2" cy="165.1" r="0.78" fill="#d6cadf" opacity="0.8"/><circle cx="284.4" cy="167.5" r="0.93" fill="#d6cadf" opacity="0.8"/><circle cx="276.3" cy="224.5" r="0.94" fill="#d6cadf" opacity="0.8"/><circle cx="318.4" cy="204.9" r="1.21" fill="#d6cadf" opacity="0.8"/><circle cx="348.1" cy="186.2" r="0.87" fill="#d6cadf" opacity="0.8"/><circle cx="308.9" cy="159.7" r="0.92" fill="#d6cadf" opacity="0.8"/><circle cx="336.5" cy="228.9" r="1.23" fill="#d6cadf" opacity="0.8"/><circle cx="332.7" cy="202.2" r="0.61" fill="#d6cadf" opacity="0.8"/><circle cx="301.1" cy="183.1" r="1.12" fill="#d6cadf" opacity="0.8"/><circle cx="279.5" cy="185.6" r="1.01" fill="#d6cadf" opacity="0.8"/><circle cx="345.0" cy="217.7" r="1.09" fill="#d6cadf" opacity="0.8"/><circle cx="284.5" cy="213.5" r="1.32" fill="#d6cadf" opacity="0.8"/><circle cx="321.9" cy="183.8" r="1.00" fill="#d6cadf" opacity="0.8"/><circle cx="282.9" cy="209.7" r="1.39" fill="#d6cadf" opacity="0.8"/><circle cx="318.8" cy="209.8" r="1.27" fill="#d6cadf" opacity="0.8"/><circle cx="288.2" cy="226.3" r="1.10" fill="#d6cadf" opacity="0.8"/><circle cx="288.3" cy="164.6" r="0.80" fill="#d6cadf" opacity="0.8"/><circle cx="324.6" cy="208.5" r="0.86" fill="#d6cadf" opacity="0.8"/><circle cx="358.5" cy="184.5" r="0.97" fill="#d6cadf" opacity="0.8"/><circle cx="281.2" cy="228.3" r="0.71" fill="#d6cadf" opacity="0.8"/><circle cx="356.1" cy="197.5" r="1.05" fill="#d6cadf" opacity="0.8"/><circle cx="323.1" cy="177.5" r="1.33" fill="#d6cadf" opacity="0.8"/><circle cx="364.5" cy="217.1" r="1.08" fill="#d6cadf" opacity="0.8"/><circle cx="281.1" cy="217.6" r="0.83" fill="#d6cadf" opacity="0.8"/><circle cx="355.4" cy="175.8" r="1.06" fill="#d6cadf" opacity="0.8"/><circle cx="349.1" cy="171.9" r="1.04" fill="#d6cadf" opacity="0.8"/><circle cx="276.6" cy="160.9" r="0.74" fill="#d6cadf" opacity="0.8"/><circle cx="364.1" cy="225.9" r="1.13" fill="#d6cadf" opacity="0.8"/><circle cx="298.8" cy="206.7" r="1.19" fill="#d6cadf" opacity="0.8"/><circle cx="305.9" cy="201.0" r="1.24" fill="#d6cadf" opacity="0.8"/><circle cx="270.9" cy="172.9" r="0.97" fill="#d6cadf" opacity="0.8"/><circle cx="283.0" cy="186.3" r="1.06" fill="#d6cadf" opacity="0.8"/><circle cx="286.0" cy="195.8" r="0.81" fill="#d6cadf" opacity="0.8"/><circle cx="323.8" cy="182.4" r="1.11" fill="#d6cadf" opacity="0.8"/><circle cx="272.9" cy="206.6" r="0.72" fill="#d6cadf" opacity="0.8"/><circle cx="361.4" cy="201.6" r="0.98" fill="#d6cadf" opacity="0.8"/><circle cx="308.8" cy="203.3" r="1.15" fill="#d6cadf" opacity="0.8"/><circle cx="342.1" cy="212.4" r="0.99" fill="#d6cadf" opacity="0.8"/><circle cx="364.8" cy="218.6" r="1.28" fill="#d6cadf" opacity="0.8"/><circle cx="308.6" cy="189.7" r="1.05" fill="#d6cadf" opacity="0.8"/><circle cx="356.2" cy="196.3" r="1.02" fill="#d6cadf" opacity="0.8"/><circle cx="310.8" cy="223.3" r="0.86" fill="#d6cadf" opacity="0.8"/><circle cx="274.5" cy="210.6" r="1.32" fill="#d6cadf" opacity="0.8"/><circle cx="339.6" cy="201.4" r="1.20" fill="#d6cadf" opacity="0.8"/><circle cx="298.6" cy="201.1" r="0.66" fill="#d6cadf" opacity="0.8"/><circle cx="281.2" cy="190.6" r="1.00" fill="#d6cadf" opacity="0.8"/><circle cx="307.4" cy="162.3" r="1.16" fill="#d6cadf" opacity="0.8"/><circle cx="319.8" cy="175.7" r="0.85" fill="#d6cadf" opacity="0.8"/><circle cx="307.3" cy="175.5" r="0.65" fill="#d6cadf" opacity="0.8"/><circle cx="356.8" cy="227.8" r="1.13" fill="#d6cadf" opacity="0.8"/><circle cx="352.5" cy="188.8" r="1.24" fill="#d6cadf" opacity="0.8"/><polygon points="299.9,180.5 313.1,175.0 328.4,173.9 337.1,178.3 341.5,189.2 339.3,202.4 332.8,211.1 321.8,214.4 310.9,208.9 302.1,200.2 298.8,189.2" fill="#7a6ab8" stroke="#eee6e6" stroke-width="1.3" stroke-linejoin="round"/><ellipse cx="311.6" cy="200.5" rx="1.2" ry="1.1" fill="#5a44a8" opacity="0.85"/><ellipse cx="307.7" cy="201.9" rx="0.9" ry="0.9" fill="#5a44a8" opacity="0.85"/><ellipse cx="335.0" cy="177.8" rx="1.0" ry="0.7" fill="#5a44a8" opacity="0.85"/><ellipse cx="314.9" cy="179.7" rx="1.4" ry="1.0" fill="#5a44a8" opacity="0.85"/><ellipse cx="317.2" cy="188.7" rx="1.2" ry="0.6" fill="#5a44a8" opacity="0.85"/><ellipse cx="305.5" cy="205.1" rx="1.0" ry="0.8" fill="#5a44a8" opacity="0.85"/><ellipse cx="334.4" cy="207.5" rx="1.1" ry="0.7" fill="#5a44a8" opacity="0.85"/><ellipse cx="314.0" cy="205.8" rx="1.4" ry="0.7" fill="#5a44a8" opacity="0.85"/><ellipse cx="331.3" cy="188.6" rx="1.1" ry="0.7" fill="#5a44a8" opacity="0.85"/><ellipse cx="332.7" cy="208.1" rx="0.9" ry="0.9" fill="#5a44a8" opacity="0.85"/><ellipse cx="310.6" cy="204.6" rx="0.8" ry="0.7" fill="#5a44a8" opacity="0.85"/><ellipse cx="327.7" cy="187.3" rx="1.4" ry="1.0" fill="#5a44a8" opacity="0.85"/><ellipse cx="327.3" cy="181.9" rx="1.3" ry="1.1" fill="#5a44a8" opacity="0.85"/><ellipse cx="318.8" cy="180.2" rx="1.0" ry="0.8" fill="#5a44a8" opacity="0.85"/><ellipse cx="327.3" cy="183.8" rx="0.9" ry="0.7" fill="#5a44a8" opacity="0.85"/><ellipse cx="325.8" cy="201.8" rx="1.1" ry="0.9" fill="#5a44a8" opacity="0.85"/><ellipse cx="332.8" cy="195.7" rx="1.0" ry="0.8" fill="#5a44a8" opacity="0.85"/><ellipse cx="334.2" cy="198.1" rx="1.0" ry="0.9" fill="#5a44a8" opacity="0.85"/><ellipse cx="307.4" cy="207.7" rx="1.1" ry="0.9" fill="#5a44a8" opacity="0.85"/><ellipse cx="321.5" cy="179.2" rx="1.2" ry="0.7" fill="#5a44a8" opacity="0.85"/><ellipse cx="312.5" cy="202.2" rx="0.9" ry="0.7" fill="#5a44a8" opacity="0.85"/><ellipse cx="328.7" cy="185.3" rx="1.0" ry="0.9" fill="#5a44a8" opacity="0.85"/><ellipse cx="310.5" cy="205.1" rx="1.5" ry="0.6" fill="#5a44a8" opacity="0.85"/><ellipse cx="319.3" cy="200.6" rx="1.1" ry="1.1" fill="#5a44a8" opacity="0.85"/><ellipse cx="320.5" cy="183.3" rx="1.2" ry="0.9" fill="#5a44a8" opacity="0.85"/><ellipse cx="316.0" cy="197.8" rx="1.3" ry="0.9" fill="#5a44a8" opacity="0.85"/><ellipse cx="320.7" cy="203.5" rx="1.3" ry="0.9" fill="#5a44a8" opacity="0.85"/><ellipse cx="335.0" cy="183.1" rx="1.3" ry="0.7" fill="#5a44a8" opacity="0.85"/><ellipse cx="324.0" cy="185.0" rx="1.1" ry="1.0" fill="#5a44a8" opacity="0.85"/><ellipse cx="329.7" cy="201.9" rx="1.0" ry="0.8" fill="#5a44a8" opacity="0.85"/><line x1="312.2" y1="195.3" x2="312.2" y2="198.5" stroke="#e8e0ea" stroke-width="1.1" stroke-linecap="round"/><line x1="323.4" y1="199.1" x2="321.7" y2="206.3" stroke="#e8e0ea" stroke-width="1.1" stroke-linecap="round"/><line x1="311.0" y1="183.1" x2="316.4" y2="183.4" stroke="#e8e0ea" stroke-width="1.1" stroke-linecap="round"/><line x1="318.6" y1="191.4" x2="323.3" y2="196.5" stroke="#e8e0ea" stroke-width="1.1" stroke-linecap="round"/><line x1="307.7" y1="204.6" x2="306.5" y2="210.1" stroke="#e8e0ea" stroke-width="1.1" stroke-linecap="round"/><line x1="329.2" y1="185.6" x2="333.3" y2="187.6" stroke="#e8e0ea" stroke-width="1.1" stroke-linecap="round"/><line x1="306.8" y1="187.7" x2="304.7" y2="193.0" stroke="#e8e0ea" stroke-width="1.1" stroke-linecap="round"/><line x1="313.5" y1="195.5" x2="320.3" y2="197.5" stroke="#e8e0ea" stroke-width="1.1" stroke-linecap="round"/><line x1="310.7" y1="186.1" x2="316.4" y2="189.2" stroke="#e8e0ea" stroke-width="1.1" stroke-linecap="round"/><line x1="330.4" y1="201.1" x2="335.4" y2="202.1" stroke="#e8e0ea" stroke-width="1.1" stroke-linecap="round"/><line x1="316.5" y1="185.0" x2="313.3" y2="185.3" stroke="#e8e0ea" stroke-width="1.1" stroke-linecap="round"/><line x1="320.2" y1="200.4" x2="316.5" y2="200.6" stroke="#e8e0ea" stroke-width="1.1" stroke-linecap="round"/><line x1="319.2" y1="200.0" x2="323.4" y2="200.5" stroke="#e8e0ea" stroke-width="1.1" stroke-linecap="round"/><line x1="332.2" y1="182.8" x2="333.7" y2="187.1" stroke="#e8e0ea" stroke-width="1.1" stroke-linecap="round"/></g>
<rect x="269.3" y="158.6" width="96.0" height="71.6" filter="url(#hn)" opacity="0.22"/>
<rect x="269.3" y="158.6" width="96.0" height="71.6" filter="url(#hd)" opacity="0.35"/>
<g filter="url(#hc)"><rect x="263.30" y="152.60" width="18.00" height="17.93" fill="#f4eef0" opacity="0.009"/><rect x="293.30" y="152.60" width="12.00" height="17.93" fill="#f4eef0" opacity="0.163"/><rect x="317.30" y="152.60" width="12.00" height="17.93" fill="#f4eef0" opacity="0.032"/><rect x="329.30" y="152.60" width="12.00" height="17.93" fill="#f4eef0" opacity="0.044"/><rect x="341.30" y="152.60" width="12.00" height="17.93" fill="#f4eef0" opacity="0.032"/><rect x="353.30" y="152.60" width="18.00" height="17.93" fill="#f4eef0" opacity="0.084"/><rect x="293.30" y="170.53" width="12.00" height="11.93" fill="#f4eef0" opacity="0.210"/><rect x="305.30" y="170.53" width="12.00" height="11.93" fill="#f4eef0" opacity="0.016"/><rect x="317.30" y="170.53" width="12.00" height="11.93" fill="#f4eef0" opacity="0.069"/><rect x="353.30" y="170.53" width="18.00" height="11.93" fill="#f4eef0" opacity="0.295"/><rect x="263.30" y="182.47" width="18.00" height="11.93" fill="#f4eef0" opacity="0.059"/><rect x="293.30" y="182.47" width="12.00" height="11.93" fill="#f4eef0" opacity="0.152"/><rect x="305.30" y="182.47" width="12.00" height="11.93" fill="#f4eef0" opacity="0.003"/><rect x="317.30" y="182.47" width="12.00" height="11.93" fill="#f4eef0" opacity="0.073"/><rect x="329.30" y="182.47" width="12.00" height="11.93" fill="#f4eef0" opacity="0.069"/><rect x="341.30" y="182.47" width="12.00" height="11.93" fill="#f4eef0" opacity="0.198"/><rect x="353.30" y="182.47" width="18.00" height="11.93" fill="#f4eef0" opacity="0.213"/><rect x="263.30" y="194.40" width="18.00" height="11.93" fill="#f4eef0" opacity="0.111"/><rect x="281.30" y="194.40" width="12.00" height="11.93" fill="#f4eef0" opacity="0.005"/><rect x="305.30" y="194.40" width="12.00" height="11.93" fill="#f4eef0" opacity="0.093"/><rect x="263.30" y="206.33" width="18.00" height="11.93" fill="#f4eef0" opacity="0.158"/><rect x="281.30" y="206.33" width="12.00" height="11.93" fill="#f4eef0" opacity="0.201"/><rect x="329.30" y="206.33" width="12.00" height="11.93" fill="#f4eef0" opacity="0.298"/><rect x="341.30" y="206.33" width="12.00" height="11.93" fill="#f4eef0" opacity="0.014"/><rect x="263.30" y="218.27" width="18.00" height="17.93" fill="#f4eef0" opacity="0.172"/><rect x="305.30" y="218.27" width="12.00" height="17.93" fill="#f4eef0" opacity="0.042"/><rect x="317.30" y="218.27" width="12.00" height="17.93" fill="#f4eef0" opacity="0.240"/><rect x="329.30" y="218.27" width="12.00" height="17.93" fill="#f4eef0" opacity="0.214"/><rect x="353.30" y="218.27" width="18.00" height="17.93" fill="#f4eef0" opacity="0.069"/><rect x="281.30" y="152.60" width="12.00" height="17.93" fill="#33238a" opacity="0.125"/><rect x="305.30" y="152.60" width="12.00" height="17.93" fill="#33238a" opacity="0.202"/><rect x="263.30" y="170.53" width="18.00" height="11.93" fill="#33238a" opacity="0.023"/><rect x="281.30" y="170.53" width="12.00" height="11.93" fill="#33238a" opacity="0.287"/><rect x="329.30" y="170.53" width="12.00" height="11.93" fill="#33238a" opacity="0.045"/><rect x="341.30" y="170.53" width="12.00" height="11.93" fill="#33238a" opacity="0.023"/><rect x="281.30" y="182.47" width="12.00" height="11.93" fill="#33238a" opacity="0.267"/><rect x="293.30" y="194.40" width="12.00" height="11.93" fill="#33238a" opacity="0.011"/><rect x="317.30" y="194.40" width="12.00" height="11.93" fill="#33238a" opacity="0.080"/><rect x="329.30" y="194.40" width="12.00" height="11.93" fill="#33238a" opacity="0.051"/><rect x="341.30" y="194.40" width="12.00" height="11.93" fill="#33238a" opacity="0.035"/><rect x="353.30" y="194.40" width="18.00" height="11.93" fill="#33238a" opacity="0.063"/><rect x="293.30" y="206.33" width="12.00" height="11.93" fill="#33238a" opacity="0.031"/><rect x="305.30" y="206.33" width="12.00" height="11.93" fill="#33238a" opacity="0.033"/><rect x="317.30" y="206.33" width="12.00" height="11.93" fill="#33238a" opacity="0.037"/><rect x="353.30" y="206.33" width="18.00" height="11.93" fill="#33238a" opacity="0.183"/><rect x="281.30" y="218.27" width="12.00" height="17.93" fill="#33238a" opacity="0.028"/><rect x="293.30" y="218.27" width="12.00" height="17.93" fill="#33238a" opacity="0.022"/><rect x="341.30" y="218.27" width="12.00" height="17.93" fill="#33238a" opacity="0.172"/></g>
<path d="M303.8 174.7 l3.2 0 l-1.6 2.8z" fill="#e41a1a"/>
<path d="M314.1 176.5 l3.2 0 l-1.6 2.8z" fill="#e41a1a"/>
<path d="M307.1 187.4 l3.2 0 l-1.6 2.8z" fill="#e41a1a"/>
<path d="M329.6 185.3 l2.8 -1.6 l0 3.2z" fill="#e41a1a"/>
<line x1="345.7" y1="227.6" x2="361.9" y2="227.6" stroke="#e02020" stroke-width="1.1"/>
</g>
<rect x="269.3" y="158.6" width="96.0" height="71.6" fill="none" stroke="#333" stroke-width="0.9"/>
<g clip-path="url(#c2)">
<rect x="163.4" y="241.2" width="97.2" height="72.3" fill="#4a3aa2"/>
<g filter="url(#hc)" opacity="0.35"><rect x="157.40" y="235.20" width="18.45" height="18.35" fill="#8070b0"/><rect x="175.55" y="235.20" width="12.45" height="18.35" fill="#9080b8"/><rect x="187.70" y="235.20" width="12.45" height="18.35" fill="#b8a8c0"/><rect x="199.85" y="235.20" width="12.45" height="18.35" fill="#9a88b8"/><rect x="212.00" y="235.20" width="12.45" height="18.35" fill="#8a78b0"/><rect x="224.15" y="235.20" width="12.45" height="18.35" fill="#b8a8c0"/><rect x="236.30" y="235.20" width="12.45" height="18.35" fill="#9080b8"/><rect x="248.45" y="235.20" width="18.45" height="18.35" fill="#6a5aa8"/><rect x="157.40" y="253.25" width="18.45" height="12.35" fill="#8a78b0"/><rect x="175.55" y="253.25" width="12.45" height="12.35" fill="#6a58a8"/><rect x="187.70" y="253.25" width="12.45" height="12.35" fill="#d8ccd0"/><rect x="199.85" y="253.25" width="12.45" height="12.35" fill="#c8b8c8"/><rect x="212.00" y="253.25" width="12.45" height="12.35" fill="#6a58a8"/><rect x="224.15" y="253.25" width="12.45" height="12.35" fill="#8070b0"/><rect x="236.30" y="253.25" width="12.45" height="12.35" fill="#8070b8"/><rect x="248.45" y="253.25" width="18.45" height="12.35" fill="#6a5aa8"/><rect x="157.40" y="265.30" width="18.45" height="12.35" fill="#8070b0"/><rect x="175.55" y="265.30" width="12.45" height="12.35" fill="#7a68a8"/><rect x="187.70" y="265.30" width="12.45" height="12.35" fill="#b0a0c0"/><rect x="199.85" y="265.30" width="12.45" height="12.35" fill="#a090b0"/><rect x="212.00" y="265.30" width="12.45" height="12.35" fill="#c0a8b0"/><rect x="224.15" y="265.30" width="12.45" height="12.35" fill="#6a58a8"/><rect x="236.30" y="265.30" width="12.45" height="12.35" fill="#6555a8"/><rect x="248.45" y="265.30" width="18.45" height="12.35" fill="#8070b0"/><rect x="157.40" y="277.35" width="18.45" height="12.35" fill="#8070b0"/><rect x="175.55" y="277.35" width="12.45" height="12.35" fill="#b8a8c0"/><rect x="187.70" y="277.35" width="12.45" height="12.35" fill="#9a88b8"/><rect x="199.85" y="277.35" width="12.45" height="12.35" fill="#c8b0b0"/><rect x="212.00" y="277.35" width="12.45" height="12.35" fill="#d0b8b0"/><rect x="224.15" y="277.35" width="12.45" height="12.35" fill="#c0a8b0"/><rect x="236.30" y="277.35" width="12.45" height="12.35" fill="#6050a0"/><rect x="248.45" y="277.35" width="18.45" height="12.35" fill="#9a90c0"/><rect x="157.40" y="289.40" width="18.45" height="12.35" fill="#a090b8"/><rect x="175.55" y="289.40" width="12.45" height="12.35" fill="#7060b0"/><rect x="187.70" y="289.40" width="12.45" height="12.35" fill="#9888c0"/><rect x="199.85" y="289.40" width="12.45" height="12.35" fill="#b8a0b0"/><rect x="212.00" y="289.40" width="12.45" height="12.35" fill="#c8b4b8"/><rect x="224.15" y="289.40" width="12.45" height="12.35" fill="#9888c0"/><rect x="236.30" y="289.40" width="12.45" height="12.35" fill="#a8a0c8"/><rect x="248.45" y="289.40" width="18.45" height="12.35" fill="#9a90c0"/><rect x="157.40" y="301.45" width="18.45" height="18.35" fill="#7a68b0"/><rect x="175.55" y="301.45" width="12.45" height="18.35" fill="#8a78b0"/><rect x="187.70" y="301.45" width="12.45" height="18.35" fill="#a090c0"/><rect x="199.85" y="301.45" width="12.45" height="18.35" fill="#9a88b0"/><rect x="212.00" y="301.45" width="12.45" height="18.35" fill="#6a5aa8"/><rect x="224.15" y="301.45" width="12.45" height="18.35" fill="#9080b8"/><rect x="236.30" y="301.45" width="12.45" height="18.35" fill="#a8a0c8"/><rect x="248.45" y="301.45" width="18.45" height="18.35" fill="#8878b8"/></g>
<g filter="url(#hb)"><ellipse cx="187.4" cy="258.7" rx="17.5" ry="15.3" fill="#3e2e9c" stroke="#c4a898" stroke-width="0.9" transform="rotate(-30 187.4 258.7)"/><ellipse cx="222.4" cy="250.0" rx="19.0" ry="13.7" fill="#3e2e9c" stroke="#c4a898" stroke-width="0.9"/><ellipse cx="172.2" cy="282.8" rx="13.7" ry="13.7" fill="#3e2e9c" stroke="#c4a898" stroke-width="0.9"/><ellipse cx="196.2" cy="302.5" rx="14.2" ry="15.3" fill="#3e2e9c" stroke="#c4a898" stroke-width="0.9"/><ellipse cx="250.9" cy="250.0" rx="13.8" ry="11.6" fill="#3e2e9c" stroke="#c4a898" stroke-width="0.9"/><ellipse cx="246.4" cy="298.2" rx="17.0" ry="14.8" fill="#3e2e9c" stroke="#c4a898" stroke-width="0.9"/><ellipse cx="167.8" cy="250.0" rx="8.9" ry="11.1" fill="#3e2e9c" stroke="#c4a898" stroke-width="0.9"/><ellipse cx="176.5" cy="306.8" rx="12.1" ry="11.0" fill="#3e2e9c" stroke="#c4a898" stroke-width="0.9"/><ellipse cx="187.4" cy="258.7" rx="11.0" ry="8.8" fill="#dccac8" transform="rotate(-30 187.4 258.7)"/><circle cx="185.2" cy="259.6" r="0.6" fill="#6252b0" opacity="0.75"/><circle cx="195.1" cy="258.6" r="1.1" fill="#6252b0" opacity="0.75"/><circle cx="188.0" cy="262.2" r="1.0" fill="#6252b0" opacity="0.75"/><circle cx="187.7" cy="263.5" r="1.3" fill="#6252b0" opacity="0.75"/><circle cx="184.0" cy="261.8" r="1.3" fill="#6252b0" opacity="0.75"/><circle cx="186.1" cy="257.8" r="0.9" fill="#6252b0" opacity="0.75"/><circle cx="186.1" cy="257.3" r="0.8" fill="#6252b0" opacity="0.75"/><circle cx="184.6" cy="252.5" r="1.0" fill="#6252b0" opacity="0.75"/><circle cx="191.9" cy="255.6" r="0.9" fill="#6252b0" opacity="0.75"/><circle cx="190.4" cy="255.1" r="1.1" fill="#6252b0" opacity="0.75"/><circle cx="188.5" cy="262.8" r="0.7" fill="#6252b0" opacity="0.75"/><circle cx="184.0" cy="257.8" r="0.7" fill="#6252b0" opacity="0.75"/><circle cx="188.7" cy="263.4" r="0.8" fill="#6252b0" opacity="0.75"/><circle cx="179.1" cy="261.0" r="1.1" fill="#6252b0" opacity="0.75"/><circle cx="190.0" cy="256.3" r="0.9" fill="#6252b0" opacity="0.75"/><circle cx="194.0" cy="261.3" r="0.9" fill="#6252b0" opacity="0.75"/><ellipse cx="222.4" cy="250.0" rx="13.0" ry="7.7" fill="#dccac8"/><circle cx="222.2" cy="250.8" r="0.7" fill="#6252b0" opacity="0.75"/><circle cx="221.9" cy="253.8" r="1.2" fill="#6252b0" opacity="0.75"/><circle cx="221.2" cy="246.9" r="0.9" fill="#6252b0" opacity="0.75"/><circle cx="228.1" cy="254.9" r="0.9" fill="#6252b0" opacity="0.75"/><circle cx="223.3" cy="244.8" r="1.2" fill="#6252b0" opacity="0.75"/><circle cx="228.3" cy="250.4" r="0.9" fill="#6252b0" opacity="0.75"/><circle cx="230.9" cy="252.9" r="0.8" fill="#6252b0" opacity="0.75"/><circle cx="223.4" cy="245.6" r="0.6" fill="#6252b0" opacity="0.75"/><circle cx="218.4" cy="251.9" r="0.6" fill="#6252b0" opacity="0.75"/><circle cx="227.1" cy="253.9" r="0.6" fill="#6252b0" opacity="0.75"/><circle cx="219.8" cy="253.7" r="1.0" fill="#6252b0" opacity="0.75"/><circle cx="228.1" cy="253.9" r="0.8" fill="#6252b0" opacity="0.75"/><circle cx="221.1" cy="245.0" r="0.7" fill="#6252b0" opacity="0.75"/><circle cx="223.9" cy="253.1" r="1.1" fill="#6252b0" opacity="0.75"/><circle cx="217.0" cy="252.1" r="1.2" fill="#6252b0" opacity="0.75"/><circle cx="223.2" cy="253.3" r="0.8" fill="#6252b0" opacity="0.75"/><ellipse cx="172.2" cy="282.8" rx="7.7" ry="7.7" fill="#dccac8"/><circle cx="172.5" cy="284.0" r="0.6" fill="#6252b0" opacity="0.75"/><circle cx="169.0" cy="279.4" r="1.2" fill="#6252b0" opacity="0.75"/><circle cx="175.5" cy="282.3" r="1.1" fill="#6252b0" opacity="0.75"/><circle cx="174.7" cy="281.4" r="1.1" fill="#6252b0" opacity="0.75"/><circle cx="169.2" cy="277.6" r="1.2" fill="#6252b0" opacity="0.75"/><circle cx="172.7" cy="287.7" r="0.7" fill="#6252b0" opacity="0.75"/><circle cx="168.7" cy="284.5" r="0.6" fill="#6252b0" opacity="0.75"/><circle cx="169.6" cy="285.2" r="0.9" fill="#6252b0" opacity="0.75"/><circle cx="171.7" cy="285.2" r="0.9" fill="#6252b0" opacity="0.75"/><ellipse cx="196.2" cy="302.5" rx="7.7" ry="8.8" fill="#d2c8e0"/><circle cx="193.7" cy="302.9" r="1.1" fill="#6252b0" opacity="0.75"/><circle cx="196.3" cy="304.6" r="0.8" fill="#6252b0" opacity="0.75"/><circle cx="194.1" cy="303.8" r="1.0" fill="#6252b0" opacity="0.75"/><circle cx="194.8" cy="297.5" r="1.1" fill="#6252b0" opacity="0.75"/><circle cx="200.0" cy="303.1" r="0.9" fill="#6252b0" opacity="0.75"/><circle cx="199.8" cy="304.2" r="0.6" fill="#6252b0" opacity="0.75"/><circle cx="191.5" cy="302.7" r="0.9" fill="#6252b0" opacity="0.75"/><circle cx="194.8" cy="305.7" r="0.6" fill="#6252b0" opacity="0.75"/><circle cx="192.9" cy="307.9" r="1.0" fill="#6252b0" opacity="0.75"/><circle cx="195.8" cy="308.2" r="0.7" fill="#6252b0" opacity="0.75"/><circle cx="191.5" cy="303.6" r="1.3" fill="#6252b0" opacity="0.75"/><ellipse cx="250.9" cy="250.0" rx="8.8" ry="6.6" fill="#d2b49e"/><circle cx="247.4" cy="253.0" r="1.3" fill="#6252b0" opacity="0.75"/><circle cx="251.7" cy="245.9" r="1.0" fill="#6252b0" opacity="0.75"/><circle cx="247.1" cy="251.8" r="0.8" fill="#6252b0" opacity="0.75"/><circle cx="254.1" cy="245.7" r="0.9" fill="#6252b0" opacity="0.75"/><circle cx="252.1" cy="249.4" r="0.7" fill="#6252b0" opacity="0.75"/><circle cx="247.0" cy="249.9" r="0.9" fill="#6252b0" opacity="0.75"/><circle cx="253.6" cy="249.7" r="0.7" fill="#6252b0" opacity="0.75"/><circle cx="251.7" cy="254.3" r="0.8" fill="#6252b0" opacity="0.75"/><circle cx="256.1" cy="250.0" r="0.9" fill="#6252b0" opacity="0.75"/><ellipse cx="246.4" cy="298.2" rx="11.0" ry="8.8" fill="#d2c8e0"/><circle cx="246.8" cy="303.1" r="1.1" fill="#6252b0" opacity="0.75"/><circle cx="239.8" cy="296.5" r="1.0" fill="#6252b0" opacity="0.75"/><circle cx="250.6" cy="292.2" r="0.8" fill="#6252b0" opacity="0.75"/><circle cx="241.7" cy="303.6" r="0.8" fill="#6252b0" opacity="0.75"/><circle cx="244.8" cy="292.5" r="1.1" fill="#6252b0" opacity="0.75"/><circle cx="254.2" cy="296.8" r="0.7" fill="#6252b0" opacity="0.75"/><circle cx="241.9" cy="294.8" r="1.0" fill="#6252b0" opacity="0.75"/><circle cx="243.2" cy="301.0" r="1.1" fill="#6252b0" opacity="0.75"/><circle cx="242.2" cy="297.5" r="0.8" fill="#6252b0" opacity="0.75"/><circle cx="244.7" cy="300.8" r="1.0" fill="#6252b0" opacity="0.75"/><circle cx="248.0" cy="299.5" r="0.6" fill="#6252b0" opacity="0.75"/><circle cx="252.3" cy="301.7" r="0.7" fill="#6252b0" opacity="0.75"/><circle cx="239.0" cy="300.1" r="0.9" fill="#6252b0" opacity="0.75"/><circle cx="250.7" cy="303.8" r="1.2" fill="#6252b0" opacity="0.75"/><circle cx="250.6" cy="299.4" r="1.0" fill="#6252b0" opacity="0.75"/><circle cx="248.0" cy="294.0" r="1.1" fill="#6252b0" opacity="0.75"/><ellipse cx="167.8" cy="250.0" rx="4.4" ry="6.6" fill="#d2b49e"/><circle cx="167.8" cy="254.5" r="0.8" fill="#6252b0" opacity="0.75"/><circle cx="166.3" cy="254.0" r="1.2" fill="#6252b0" opacity="0.75"/><circle cx="169.1" cy="246.5" r="0.9" fill="#6252b0" opacity="0.75"/><circle cx="167.1" cy="246.0" r="1.2" fill="#6252b0" opacity="0.75"/><ellipse cx="176.5" cy="306.8" rx="6.6" ry="5.5" fill="#dccac8"/><circle cx="177.1" cy="305.3" r="0.9" fill="#6252b0" opacity="0.75"/><circle cx="175.3" cy="305.0" r="0.7" fill="#6252b0" opacity="0.75"/><circle cx="180.5" cy="307.1" r="1.3" fill="#6252b0" opacity="0.75"/><circle cx="178.4" cy="306.5" r="1.1" fill="#6252b0" opacity="0.75"/><circle cx="172.8" cy="308.5" r="0.9" fill="#6252b0" opacity="0.75"/><circle cx="181.3" cy="305.0" r="0.6" fill="#6252b0" opacity="0.75"/><circle cx="232.7" cy="249.8" r="0.63" fill="#d6cadf" opacity="0.8"/><circle cx="191.2" cy="294.1" r="1.39" fill="#d6cadf" opacity="0.8"/><circle cx="175.1" cy="265.1" r="0.62" fill="#d6cadf" opacity="0.8"/><circle cx="216.1" cy="276.1" r="0.90" fill="#d6cadf" opacity="0.8"/><circle cx="193.5" cy="299.1" r="1.27" fill="#d6cadf" opacity="0.8"/><circle cx="191.0" cy="269.5" r="1.09" fill="#d6cadf" opacity="0.8"/><circle cx="237.8" cy="312.1" r="0.91" fill="#d6cadf" opacity="0.8"/><circle cx="230.9" cy="280.7" r="1.24" fill="#d6cadf" opacity="0.8"/><circle cx="177.7" cy="253.9" r="0.69" fill="#d6cadf" opacity="0.8"/><circle cx="254.1" cy="259.4" r="0.99" fill="#d6cadf" opacity="0.8"/><circle cx="175.1" cy="264.6" r="0.62" fill="#d6cadf" opacity="0.8"/><circle cx="218.4" cy="251.6" r="1.10" fill="#d6cadf" opacity="0.8"/><circle cx="190.0" cy="257.7" r="0.99" fill="#d6cadf" opacity="0.8"/><circle cx="199.0" cy="260.0" r="0.64" fill="#d6cadf" opacity="0.8"/><circle cx="169.7" cy="305.7" r="0.85" fill="#d6cadf" opacity="0.8"/><circle cx="171.0" cy="254.4" r="0.99" fill="#d6cadf" opacity="0.8"/><circle cx="260.3" cy="255.8" r="1.29" fill="#d6cadf" opacity="0.8"/><circle cx="210.5" cy="271.2" r="1.25" fill="#d6cadf" opacity="0.8"/><circle cx="201.9" cy="245.4" r="1.04" fill="#d6cadf" opacity="0.8"/><circle cx="227.2" cy="286.2" r="0.82" fill="#d6cadf" opacity="0.8"/><circle cx="254.7" cy="303.7" r="1.40" fill="#d6cadf" opacity="0.8"/><circle cx="206.5" cy="301.5" r="1.18" fill="#d6cadf" opacity="0.8"/><circle cx="180.5" cy="243.1" r="0.74" fill="#d6cadf" opacity="0.8"/><circle cx="174.9" cy="246.6" r="0.89" fill="#d6cadf" opacity="0.8"/><circle cx="236.6" cy="263.6" r="1.01" fill="#d6cadf" opacity="0.8"/><circle cx="164.4" cy="256.4" r="1.37" fill="#d6cadf" opacity="0.8"/><circle cx="164.5" cy="279.3" r="1.25" fill="#d6cadf" opacity="0.8"/><circle cx="240.4" cy="294.4" r="0.92" fill="#d6cadf" opacity="0.8"/><circle cx="241.5" cy="301.0" r="1.21" fill="#d6cadf" opacity="0.8"/><circle cx="259.2" cy="248.5" r="1.36" fill="#d6cadf" opacity="0.8"/><circle cx="202.5" cy="292.2" r="0.80" fill="#d6cadf" opacity="0.8"/><circle cx="251.8" cy="242.9" r="1.06" fill="#d6cadf" opacity="0.8"/><circle cx="185.5" cy="269.3" r="0.90" fill="#d6cadf" opacity="0.8"/><circle cx="227.3" cy="299.8" r="0.89" fill="#d6cadf" opacity="0.8"/><circle cx="225.4" cy="266.8" r="0.82" fill="#d6cadf" opacity="0.8"/><circle cx="251.4" cy="264.5" r="0.68" fill="#d6cadf" opacity="0.8"/><circle cx="195.9" cy="294.8" r="0.77" fill="#d6cadf" opacity="0.8"/><circle cx="235.6" cy="280.7" r="1.14" fill="#d6cadf" opacity="0.8"/><circle cx="180.6" cy="248.9" r="0.71" fill="#d6cadf" opacity="0.8"/><circle cx="197.5" cy="272.3" r="0.61" fill="#d6cadf" opacity="0.8"/><circle cx="212.2" cy="270.4" r="0.86" fill="#d6cadf" opacity="0.8"/><circle cx="215.6" cy="310.1" r="0.76" fill="#d6cadf" opacity="0.8"/><circle cx="249.0" cy="264.4" r="1.20" fill="#d6cadf" opacity="0.8"/><circle cx="173.9" cy="312.6" r="0.94" fill="#d6cadf" opacity="0.8"/><circle cx="257.0" cy="257.1" r="0.93" fill="#d6cadf" opacity="0.8"/><circle cx="232.0" cy="254.1" r="0.82" fill="#d6cadf" opacity="0.8"/><circle cx="229.2" cy="309.7" r="0.86" fill="#d6cadf" opacity="0.8"/><circle cx="181.2" cy="267.0" r="1.39" fill="#d6cadf" opacity="0.8"/><circle cx="177.8" cy="287.1" r="0.90" fill="#d6cadf" opacity="0.8"/><circle cx="226.0" cy="256.5" r="1.09" fill="#d6cadf" opacity="0.8"/><circle cx="249.7" cy="303.1" r="1.10" fill="#d6cadf" opacity="0.8"/><circle cx="212.5" cy="282.2" r="0.69" fill="#d6cadf" opacity="0.8"/><circle cx="244.8" cy="291.1" r="0.96" fill="#d6cadf" opacity="0.8"/><circle cx="228.1" cy="271.5" r="0.91" fill="#d6cadf" opacity="0.8"/><circle cx="185.8" cy="284.6" r="1.06" fill="#d6cadf" opacity="0.8"/><circle cx="213.5" cy="243.5" r="1.10" fill="#d6cadf" opacity="0.8"/><circle cx="206.8" cy="284.1" r="1.08" fill="#d6cadf" opacity="0.8"/><circle cx="254.0" cy="252.2" r="0.97" fill="#d6cadf" opacity="0.8"/><circle cx="259.9" cy="294.6" r="0.85" fill="#d6cadf" opacity="0.8"/><circle cx="235.0" cy="312.7" r="0.92" fill="#d6cadf" opacity="0.8"/><circle cx="247.7" cy="250.4" r="1.39" fill="#d6cadf" opacity="0.8"/><circle cx="211.1" cy="258.1" r="1.27" fill="#d6cadf" opacity="0.8"/><circle cx="226.5" cy="309.0" r="1.26" fill="#d6cadf" opacity="0.8"/><circle cx="240.9" cy="278.2" r="1.39" fill="#d6cadf" opacity="0.8"/><circle cx="169.7" cy="304.1" r="1.17" fill="#d6cadf" opacity="0.8"/><circle cx="187.8" cy="299.6" r="0.96" fill="#d6cadf" opacity="0.8"/><circle cx="215.5" cy="303.8" r="0.76" fill="#d6cadf" opacity="0.8"/><circle cx="190.6" cy="287.7" r="0.66" fill="#d6cadf" opacity="0.8"/><circle cx="217.3" cy="298.1" r="0.99" fill="#d6cadf" opacity="0.8"/><circle cx="186.9" cy="299.0" r="1.28" fill="#d6cadf" opacity="0.8"/><polygon points="198.4,269.6 205.0,263.1 215.9,259.8 226.9,263.1 233.4,269.6 235.6,280.6 233.4,289.3 226.9,295.9 218.1,300.3 207.2,300.3 200.6,293.7 196.2,285.0 196.2,276.2" fill="#d0b4a4" stroke="#eee6e6" stroke-width="1.3" stroke-linejoin="round"/><ellipse cx="222.9" cy="282.0" rx="1.4" ry="1.0" fill="#5a44a8" opacity="0.85"/><ellipse cx="204.6" cy="276.4" rx="0.9" ry="0.6" fill="#5a44a8" opacity="0.85"/><ellipse cx="210.4" cy="291.6" rx="1.4" ry="0.7" fill="#5a44a8" opacity="0.85"/><ellipse cx="205.5" cy="277.1" rx="1.4" ry="0.9" fill="#5a44a8" opacity="0.85"/><ellipse cx="226.8" cy="267.5" rx="1.5" ry="0.7" fill="#5a44a8" opacity="0.85"/><ellipse cx="218.7" cy="291.9" rx="1.3" ry="0.7" fill="#5a44a8" opacity="0.85"/><ellipse cx="219.9" cy="278.4" rx="0.8" ry="0.8" fill="#5a44a8" opacity="0.85"/><ellipse cx="209.5" cy="284.4" rx="1.0" ry="0.9" fill="#5a44a8" opacity="0.85"/><ellipse cx="220.7" cy="270.8" rx="0.9" ry="0.9" fill="#5a44a8" opacity="0.85"/><ellipse cx="213.9" cy="269.2" rx="0.9" ry="1.1" fill="#5a44a8" opacity="0.85"/><ellipse cx="218.2" cy="276.2" rx="0.9" ry="1.1" fill="#5a44a8" opacity="0.85"/><ellipse cx="220.6" cy="287.7" rx="1.1" ry="0.8" fill="#5a44a8" opacity="0.85"/><ellipse cx="212.2" cy="269.8" rx="1.2" ry="0.8" fill="#5a44a8" opacity="0.85"/><ellipse cx="224.4" cy="277.7" rx="1.1" ry="0.9" fill="#5a44a8" opacity="0.85"/><ellipse cx="228.0" cy="275.8" rx="1.3" ry="0.7" fill="#5a44a8" opacity="0.85"/><ellipse cx="217.3" cy="274.0" rx="1.4" ry="0.7" fill="#5a44a8" opacity="0.85"/><ellipse cx="225.4" cy="285.9" rx="1.1" ry="1.1" fill="#5a44a8" opacity="0.85"/><ellipse cx="211.6" cy="287.9" rx="1.2" ry="0.8" fill="#5a44a8" opacity="0.85"/><ellipse cx="202.0" cy="278.0" rx="1.0" ry="0.8" fill="#5a44a8" opacity="0.85"/><ellipse cx="228.3" cy="274.2" rx="1.3" ry="0.9" fill="#5a44a8" opacity="0.85"/><ellipse cx="207.4" cy="277.8" rx="0.9" ry="1.0" fill="#5a44a8" opacity="0.85"/><ellipse cx="207.6" cy="278.1" rx="1.0" ry="1.0" fill="#5a44a8" opacity="0.85"/><ellipse cx="225.3" cy="283.3" rx="1.2" ry="0.6" fill="#5a44a8" opacity="0.85"/><ellipse cx="226.6" cy="268.0" rx="1.1" ry="0.8" fill="#5a44a8" opacity="0.85"/><ellipse cx="221.5" cy="285.6" rx="1.0" ry="1.0" fill="#5a44a8" opacity="0.85"/><ellipse cx="228.2" cy="266.0" rx="1.2" ry="0.8" fill="#5a44a8" opacity="0.85"/><ellipse cx="210.8" cy="279.4" rx="1.0" ry="0.9" fill="#5a44a8" opacity="0.85"/><ellipse cx="218.0" cy="294.8" rx="1.5" ry="1.1" fill="#5a44a8" opacity="0.85"/><ellipse cx="211.8" cy="290.5" rx="1.3" ry="1.0" fill="#5a44a8" opacity="0.85"/><ellipse cx="229.6" cy="267.3" rx="1.1" ry="0.8" fill="#5a44a8" opacity="0.85"/><ellipse cx="219.5" cy="271.9" rx="1.5" ry="0.7" fill="#5a44a8" opacity="0.85"/><ellipse cx="211.1" cy="269.7" rx="1.1" ry="1.0" fill="#5a44a8" opacity="0.85"/><ellipse cx="202.6" cy="270.4" rx="1.3" ry="0.9" fill="#5a44a8" opacity="0.85"/><ellipse cx="222.1" cy="273.0" rx="1.4" ry="1.0" fill="#5a44a8" opacity="0.85"/><line x1="229.4" y1="267.2" x2="253.4" y2="269.7" stroke="#3a2a96" stroke-width="5" stroke-linecap="round"/><line x1="235.4" y1="289.2" x2="259.4" y2="274.2" stroke="#3a2a96" stroke-width="4.5" stroke-linecap="round"/><line x1="165.4" y1="285.2" x2="193.4" y2="271.2" stroke="#3a2a96" stroke-width="3" stroke-linecap="round"/></g>
<rect x="163.4" y="241.2" width="97.2" height="72.3" filter="url(#hn)" opacity="0.22"/>
<rect x="163.4" y="241.2" width="97.2" height="72.3" filter="url(#hd)" opacity="0.35"/>
<g filter="url(#hc)"><rect x="157.40" y="235.20" width="18.15" height="18.05" fill="#f4eef0" opacity="0.011"/><rect x="175.55" y="235.20" width="12.15" height="18.05" fill="#f4eef0" opacity="0.133"/><rect x="187.70" y="235.20" width="12.15" height="18.05" fill="#f4eef0" opacity="0.247"/><rect x="199.85" y="235.20" width="12.15" height="18.05" fill="#f4eef0" opacity="0.156"/><rect x="224.15" y="235.20" width="12.15" height="18.05" fill="#f4eef0" opacity="0.004"/><rect x="236.30" y="235.20" width="12.15" height="18.05" fill="#f4eef0" opacity="0.105"/><rect x="157.40" y="253.25" width="18.15" height="12.05" fill="#f4eef0" opacity="0.119"/><rect x="187.70" y="253.25" width="12.15" height="12.05" fill="#f4eef0" opacity="0.256"/><rect x="199.85" y="253.25" width="12.15" height="12.05" fill="#f4eef0" opacity="0.287"/><rect x="224.15" y="253.25" width="12.15" height="12.05" fill="#f4eef0" opacity="0.066"/><rect x="236.30" y="253.25" width="12.15" height="12.05" fill="#f4eef0" opacity="0.104"/><rect x="157.40" y="265.30" width="18.15" height="12.05" fill="#f4eef0" opacity="0.109"/><rect x="175.55" y="265.30" width="12.15" height="12.05" fill="#f4eef0" opacity="0.075"/><rect x="187.70" y="265.30" width="12.15" height="12.05" fill="#f4eef0" opacity="0.222"/><rect x="212.00" y="265.30" width="12.15" height="12.05" fill="#f4eef0" opacity="0.023"/><rect x="236.30" y="265.30" width="12.15" height="12.05" fill="#f4eef0" opacity="0.064"/><rect x="248.45" y="265.30" width="18.15" height="12.05" fill="#f4eef0" opacity="0.135"/><rect x="175.55" y="277.35" width="12.15" height="12.05" fill="#f4eef0" opacity="0.253"/><rect x="187.70" y="277.35" width="12.15" height="12.05" fill="#f4eef0" opacity="0.047"/><rect x="199.85" y="277.35" width="12.15" height="12.05" fill="#f4eef0" opacity="0.056"/><rect x="212.00" y="277.35" width="12.15" height="12.05" fill="#f4eef0" opacity="0.118"/><rect x="224.15" y="277.35" width="12.15" height="12.05" fill="#f4eef0" opacity="0.025"/><rect x="236.30" y="277.35" width="12.15" height="12.05" fill="#f4eef0" opacity="0.048"/><rect x="248.45" y="277.35" width="18.15" height="12.05" fill="#f4eef0" opacity="0.192"/><rect x="157.40" y="289.40" width="18.15" height="12.05" fill="#f4eef0" opacity="0.203"/><rect x="175.55" y="289.40" width="12.15" height="12.05" fill="#f4eef0" opacity="0.047"/><rect x="187.70" y="289.40" width="12.15" height="12.05" fill="#f4eef0" opacity="0.045"/><rect x="212.00" y="289.40" width="12.15" height="12.05" fill="#f4eef0" opacity="0.068"/><rect x="224.15" y="289.40" width="12.15" height="12.05" fill="#f4eef0" opacity="0.086"/><rect x="248.45" y="289.40" width="18.15" height="12.05" fill="#f4eef0" opacity="0.043"/><rect x="175.55" y="301.45" width="12.15" height="18.05" fill="#f4eef0" opacity="0.047"/><rect x="199.85" y="301.45" width="12.15" height="18.05" fill="#f4eef0" opacity="0.144"/><rect x="212.00" y="301.45" width="12.15" height="18.05" fill="#f4eef0" opacity="0.028"/><rect x="224.15" y="301.45" width="12.15" height="18.05" fill="#f4eef0" opacity="0.128"/><rect x="236.30" y="301.45" width="12.15" height="18.05" fill="#f4eef0" opacity="0.173"/><rect x="248.45" y="301.45" width="18.15" height="18.05" fill="#f4eef0" opacity="0.098"/><rect x="212.00" y="235.20" width="12.15" height="18.05" fill="#33238a" opacity="0.173"/><rect x="248.45" y="235.20" width="18.15" height="18.05" fill="#33238a" opacity="0.201"/><rect x="175.55" y="253.25" width="12.15" height="12.05" fill="#33238a" opacity="0.283"/><rect x="212.00" y="253.25" width="12.15" height="12.05" fill="#33238a" opacity="0.233"/><rect x="248.45" y="253.25" width="18.15" height="12.05" fill="#33238a" opacity="0.004"/><rect x="199.85" y="265.30" width="12.15" height="12.05" fill="#33238a" opacity="0.097"/><rect x="224.15" y="265.30" width="12.15" height="12.05" fill="#33238a" opacity="0.208"/><rect x="157.40" y="277.35" width="18.15" height="12.05" fill="#33238a" opacity="0.061"/><rect x="199.85" y="289.40" width="12.15" height="12.05" fill="#33238a" opacity="0.038"/><rect x="236.30" y="289.40" width="12.15" height="12.05" fill="#33238a" opacity="0.041"/><rect x="157.40" y="301.45" width="18.15" height="18.05" fill="#33238a" opacity="0.079"/><rect x="187.70" y="301.45" width="12.15" height="18.05" fill="#33238a" opacity="0.044"/></g>
<path d="M208.4 280.2 l2.8 -1.6 l0 3.2z" fill="#e41a1a"/>
<path d="M230.3 287.2 l2.8 -1.6 l0 3.2z" fill="#e41a1a"/>
<path d="M222.2 299.8 l2.8 -1.6 l0 3.2z" fill="#e41a1a"/>
<line x1="241.5" y1="311.4" x2="257.5" y2="311.4" stroke="#e02020" stroke-width="1.1"/>
</g>
<rect x="163.4" y="241.2" width="97.2" height="72.3" fill="none" stroke="#333" stroke-width="0.9"/>
<g clip-path="url(#c3)">
<rect x="270.2" y="240.9" width="96.2" height="72.6" fill="#5242a6"/>
<g filter="url(#hc)" opacity="0.35"><rect x="264.20" y="234.90" width="18.32" height="18.40" fill="#b8a8c0"/><rect x="282.22" y="234.90" width="12.33" height="18.40" fill="#a090c0"/><rect x="294.25" y="234.90" width="12.32" height="18.40" fill="#7060b0"/><rect x="306.27" y="234.90" width="12.33" height="18.40" fill="#6858b0"/><rect x="318.30" y="234.90" width="12.32" height="18.40" fill="#7a6ab8"/><rect x="330.32" y="234.90" width="12.33" height="18.40" fill="#7060b0"/><rect x="342.35" y="234.90" width="12.32" height="18.40" fill="#6a5ab0"/><rect x="354.38" y="234.90" width="18.32" height="18.40" fill="#9a8cc0"/><rect x="264.20" y="253.00" width="18.32" height="12.40" fill="#9a8cc0"/><rect x="282.22" y="253.00" width="12.33" height="12.40" fill="#d8d0e0"/><rect x="294.25" y="253.00" width="12.32" height="12.40" fill="#c8c0d8"/><rect x="306.27" y="253.00" width="12.33" height="12.40" fill="#6a5ab0"/><rect x="318.30" y="253.00" width="12.32" height="12.40" fill="#8070b8"/><rect x="330.32" y="253.00" width="12.33" height="12.40" fill="#7060b0"/><rect x="342.35" y="253.00" width="12.32" height="12.40" fill="#8070b8"/><rect x="354.38" y="253.00" width="18.32" height="12.40" fill="#a8a0c8"/><rect x="264.20" y="265.10" width="18.32" height="12.40" fill="#8070b8"/><rect x="282.22" y="265.10" width="12.33" height="12.40" fill="#6a5ab0"/><rect x="294.25" y="265.10" width="12.32" height="12.40" fill="#8070b8"/><rect x="306.27" y="265.10" width="12.33" height="12.40" fill="#a090c0"/><rect x="318.30" y="265.10" width="12.32" height="12.40" fill="#b0a0b8"/><rect x="330.32" y="265.10" width="12.33" height="12.40" fill="#a8a0c8"/><rect x="342.35" y="265.10" width="12.32" height="12.40" fill="#8a78b0"/><rect x="354.38" y="265.10" width="18.32" height="12.40" fill="#8070b8"/><rect x="264.20" y="277.20" width="18.32" height="12.40" fill="#8a7ab8"/><rect x="282.22" y="277.20" width="12.33" height="12.40" fill="#9a8cc0"/><rect x="294.25" y="277.20" width="12.32" height="12.40" fill="#9a8cc0"/><rect x="306.27" y="277.20" width="12.33" height="12.40" fill="#b0a0c0"/><rect x="318.30" y="277.20" width="12.32" height="12.40" fill="#a890b0"/><rect x="330.32" y="277.20" width="12.33" height="12.40" fill="#9a88b8"/><rect x="342.35" y="277.20" width="12.32" height="12.40" fill="#d8d0e0"/><rect x="354.38" y="277.20" width="18.32" height="12.40" fill="#9a8cc0"/><rect x="264.20" y="289.30" width="18.32" height="12.40" fill="#b8b0d0"/><rect x="282.22" y="289.30" width="12.33" height="12.40" fill="#a090c0"/><rect x="294.25" y="289.30" width="12.32" height="12.40" fill="#b8a8c0"/><rect x="306.27" y="289.30" width="12.33" height="12.40" fill="#9888c0"/><rect x="318.30" y="289.30" width="12.32" height="12.40" fill="#9a8cc0"/><rect x="330.32" y="289.30" width="12.33" height="12.40" fill="#b0a8c8"/><rect x="342.35" y="289.30" width="12.32" height="12.40" fill="#9a8cc0"/><rect x="354.38" y="289.30" width="18.32" height="12.40" fill="#a098c8"/><rect x="264.20" y="301.40" width="18.32" height="18.40" fill="#b8b0d0"/><rect x="282.22" y="301.40" width="12.33" height="18.40" fill="#b0a8c8"/><rect x="294.25" y="301.40" width="12.32" height="18.40" fill="#a090c0"/><rect x="306.27" y="301.40" width="12.33" height="18.40" fill="#8070b8"/><rect x="318.30" y="301.40" width="12.32" height="18.40" fill="#b8b0d0"/><rect x="330.32" y="301.40" width="12.33" height="18.40" fill="#b8a8c0"/><rect x="342.35" y="301.40" width="12.32" height="18.40" fill="#9a8cc0"/><rect x="354.38" y="301.40" width="18.32" height="18.40" fill="#b0a8d0"/></g>
<g filter="url(#hb)"><ellipse cx="291.0" cy="262.8" rx="21.5" ry="15.3" fill="#3e2e9c" stroke="#c4a898" stroke-width="0.9" transform="rotate(-10 291.0 262.8)"/><ellipse cx="276.8" cy="247.5" rx="11.6" ry="10.5" fill="#3e2e9c" stroke="#c4a898" stroke-width="0.9"/><ellipse cx="347.9" cy="282.5" rx="10.0" ry="10.6" fill="#3e2e9c" stroke="#c4a898" stroke-width="0.9"/><ellipse cx="357.7" cy="251.9" rx="12.1" ry="13.2" fill="#3e2e9c" stroke="#c4a898" stroke-width="0.9"/><ellipse cx="342.4" cy="262.8" rx="11.0" ry="11.0" fill="#3e2e9c" stroke="#c4a898" stroke-width="0.9"/><ellipse cx="300.8" cy="284.7" rx="14.8" ry="13.7" fill="#3e2e9c" stroke="#c4a898" stroke-width="0.9"/><ellipse cx="281.2" cy="297.9" rx="15.5" ry="16.5" fill="#3e2e9c" stroke="#c4a898" stroke-width="0.9"/><ellipse cx="327.2" cy="304.4" rx="14.8" ry="12.6" fill="#3e2e9c" stroke="#c4a898" stroke-width="0.9"/><ellipse cx="305.2" cy="306.5" rx="14.3" ry="11.0" fill="#3e2e9c" stroke="#c4a898" stroke-width="0.9"/><ellipse cx="359.9" cy="302.2" rx="10.5" ry="13.8" fill="#3e2e9c" stroke="#c4a898" stroke-width="0.9"/><ellipse cx="322.7" cy="249.7" rx="11.6" ry="10.5" fill="#3e2e9c" stroke="#c4a898" stroke-width="0.9"/><ellipse cx="291.0" cy="262.8" rx="15.0" ry="8.8" fill="#e8e2ee" transform="rotate(-10 291.0 262.8)"/><circle cx="291.7" cy="260.4" r="0.9" fill="#6252b0" opacity="0.75"/><circle cx="302.1" cy="263.4" r="1.3" fill="#6252b0" opacity="0.75"/><circle cx="292.5" cy="262.1" r="0.8" fill="#6252b0" opacity="0.75"/><circle cx="282.5" cy="261.7" r="0.7" fill="#6252b0" opacity="0.75"/><circle cx="292.6" cy="259.1" r="1.0" fill="#6252b0" opacity="0.75"/><circle cx="297.4" cy="266.5" r="0.7" fill="#6252b0" opacity="0.75"/><circle cx="298.3" cy="265.5" r="0.8" fill="#6252b0" opacity="0.75"/><circle cx="292.0" cy="259.4" r="0.9" fill="#6252b0" opacity="0.75"/><circle cx="296.3" cy="263.9" r="0.9" fill="#6252b0" opacity="0.75"/><circle cx="283.4" cy="261.1" r="1.2" fill="#6252b0" opacity="0.75"/><circle cx="299.8" cy="266.8" r="0.7" fill="#6252b0" opacity="0.75"/><circle cx="299.5" cy="261.9" r="0.9" fill="#6252b0" opacity="0.75"/><circle cx="282.5" cy="258.6" r="1.3" fill="#6252b0" opacity="0.75"/><circle cx="289.9" cy="263.2" r="0.7" fill="#6252b0" opacity="0.75"/><circle cx="295.3" cy="257.3" r="1.1" fill="#6252b0" opacity="0.75"/><circle cx="295.8" cy="267.1" r="0.6" fill="#6252b0" opacity="0.75"/><circle cx="296.1" cy="265.3" r="1.3" fill="#6252b0" opacity="0.75"/><circle cx="284.1" cy="257.7" r="0.6" fill="#6252b0" opacity="0.75"/><circle cx="288.1" cy="263.8" r="0.8" fill="#6252b0" opacity="0.75"/><circle cx="299.8" cy="267.2" r="0.8" fill="#6252b0" opacity="0.75"/><circle cx="281.3" cy="263.2" r="1.2" fill="#6252b0" opacity="0.75"/><circle cx="299.5" cy="261.0" r="1.0" fill="#6252b0" opacity="0.75"/><ellipse cx="276.8" cy="247.5" rx="6.6" ry="5.5" fill="#dccac8"/><circle cx="279.5" cy="245.9" r="0.8" fill="#6252b0" opacity="0.75"/><circle cx="276.6" cy="245.3" r="0.9" fill="#6252b0" opacity="0.75"/><circle cx="273.5" cy="248.8" r="0.9" fill="#6252b0" opacity="0.75"/><circle cx="273.6" cy="248.7" r="0.6" fill="#6252b0" opacity="0.75"/><circle cx="277.5" cy="246.6" r="1.0" fill="#6252b0" opacity="0.75"/><circle cx="273.6" cy="246.7" r="0.8" fill="#6252b0" opacity="0.75"/><ellipse cx="347.9" cy="282.5" rx="5.5" ry="6.1" fill="#f4f2f6"/><circle cx="350.1" cy="284.2" r="0.8" fill="#6252b0" opacity="0.75"/><circle cx="345.8" cy="282.7" r="1.1" fill="#6252b0" opacity="0.75"/><circle cx="347.5" cy="282.5" r="0.9" fill="#6252b0" opacity="0.75"/><circle cx="348.3" cy="282.4" r="1.0" fill="#6252b0" opacity="0.75"/><circle cx="350.5" cy="281.8" r="1.0" fill="#6252b0" opacity="0.75"/><ellipse cx="357.7" cy="251.9" rx="6.6" ry="7.7" fill="#e8e2ee"/><circle cx="355.7" cy="254.4" r="1.0" fill="#6252b0" opacity="0.75"/><circle cx="355.2" cy="250.1" r="0.9" fill="#6252b0" opacity="0.75"/><circle cx="353.1" cy="251.4" r="0.6" fill="#6252b0" opacity="0.75"/><circle cx="359.9" cy="253.6" r="0.8" fill="#6252b0" opacity="0.75"/><circle cx="358.7" cy="248.0" r="1.2" fill="#6252b0" opacity="0.75"/><circle cx="355.4" cy="253.8" r="1.1" fill="#6252b0" opacity="0.75"/><circle cx="362.2" cy="255.0" r="1.2" fill="#6252b0" opacity="0.75"/><circle cx="356.3" cy="255.0" r="1.2" fill="#6252b0" opacity="0.75"/><ellipse cx="342.4" cy="262.8" rx="5.5" ry="5.5" fill="#d2c8e0"/><circle cx="343.2" cy="259.4" r="0.6" fill="#6252b0" opacity="0.75"/><circle cx="342.5" cy="261.8" r="1.0" fill="#6252b0" opacity="0.75"/><circle cx="338.4" cy="261.4" r="1.0" fill="#6252b0" opacity="0.75"/><circle cx="346.6" cy="263.4" r="1.1" fill="#6252b0" opacity="0.75"/><circle cx="342.1" cy="262.6" r="1.1" fill="#6252b0" opacity="0.75"/><ellipse cx="300.8" cy="284.7" rx="8.8" ry="7.7" fill="#d2c8e0"/><circle cx="295.7" cy="287.2" r="1.3" fill="#6252b0" opacity="0.75"/><circle cx="302.5" cy="283.9" r="1.1" fill="#6252b0" opacity="0.75"/><circle cx="295.1" cy="286.6" r="0.9" fill="#6252b0" opacity="0.75"/><circle cx="296.4" cy="286.0" r="0.7" fill="#6252b0" opacity="0.75"/><circle cx="298.2" cy="289.5" r="0.7" fill="#6252b0" opacity="0.75"/><circle cx="305.6" cy="288.4" r="1.1" fill="#6252b0" opacity="0.75"/><circle cx="298.5" cy="284.1" r="0.7" fill="#6252b0" opacity="0.75"/><circle cx="298.3" cy="290.3" r="1.0" fill="#6252b0" opacity="0.75"/><circle cx="303.7" cy="283.4" r="0.9" fill="#6252b0" opacity="0.75"/><circle cx="294.5" cy="283.4" r="0.7" fill="#6252b0" opacity="0.75"/><circle cx="304.2" cy="281.7" r="0.6" fill="#6252b0" opacity="0.75"/><ellipse cx="281.2" cy="297.9" rx="10.0" ry="11.0" fill="#d2c8e0"/><circle cx="276.7" cy="300.1" r="1.1" fill="#6252b0" opacity="0.75"/><circle cx="286.3" cy="295.2" r="1.1" fill="#6252b0" opacity="0.75"/><circle cx="275.8" cy="302.9" r="0.7" fill="#6252b0" opacity="0.75"/><circle cx="281.0" cy="294.3" r="1.0" fill="#6252b0" opacity="0.75"/><circle cx="282.6" cy="302.8" r="0.7" fill="#6252b0" opacity="0.75"/><circle cx="277.6" cy="303.4" r="1.0" fill="#6252b0" opacity="0.75"/><circle cx="276.6" cy="302.2" r="1.2" fill="#6252b0" opacity="0.75"/><circle cx="277.4" cy="303.1" r="0.9" fill="#6252b0" opacity="0.75"/><circle cx="285.7" cy="297.3" r="1.1" fill="#6252b0" opacity="0.75"/><circle cx="281.6" cy="302.4" r="1.1" fill="#6252b0" opacity="0.75"/><circle cx="277.6" cy="295.9" r="0.6" fill="#6252b0" opacity="0.75"/><circle cx="283.4" cy="293.1" r="1.1" fill="#6252b0" opacity="0.75"/><circle cx="275.5" cy="300.7" r="1.0" fill="#6252b0" opacity="0.75"/><circle cx="288.7" cy="296.6" r="0.9" fill="#6252b0" opacity="0.75"/><circle cx="277.4" cy="298.3" r="1.1" fill="#6252b0" opacity="0.75"/><circle cx="284.7" cy="300.8" r="1.2" fill="#6252b0" opacity="0.75"/><circle cx="287.7" cy="299.5" r="1.0" fill="#6252b0" opacity="0.75"/><circle cx="276.8" cy="296.3" r="0.7" fill="#6252b0" opacity="0.75"/><ellipse cx="327.2" cy="304.4" rx="8.8" ry="6.6" fill="#dccac8"/><circle cx="333.1" cy="303.0" r="1.2" fill="#6252b0" opacity="0.75"/><circle cx="332.3" cy="307.1" r="0.8" fill="#6252b0" opacity="0.75"/><circle cx="328.8" cy="308.1" r="1.0" fill="#6252b0" opacity="0.75"/><circle cx="331.7" cy="307.6" r="1.0" fill="#6252b0" opacity="0.75"/><circle cx="332.7" cy="301.4" r="1.1" fill="#6252b0" opacity="0.75"/><circle cx="322.7" cy="308.3" r="1.1" fill="#6252b0" opacity="0.75"/><circle cx="325.5" cy="309.1" r="1.1" fill="#6252b0" opacity="0.75"/><circle cx="326.9" cy="307.0" r="0.6" fill="#6252b0" opacity="0.75"/><circle cx="323.8" cy="303.8" r="0.8" fill="#6252b0" opacity="0.75"/><ellipse cx="305.2" cy="306.5" rx="8.8" ry="5.5" fill="#d2c8e0"/><circle cx="305.2" cy="308.1" r="0.9" fill="#6252b0" opacity="0.75"/><circle cx="304.7" cy="308.8" r="0.8" fill="#6252b0" opacity="0.75"/><circle cx="298.6" cy="306.3" r="0.7" fill="#6252b0" opacity="0.75"/><circle cx="309.3" cy="303.4" r="1.0" fill="#6252b0" opacity="0.75"/><circle cx="299.4" cy="305.5" r="1.0" fill="#6252b0" opacity="0.75"/><circle cx="301.6" cy="302.9" r="1.1" fill="#6252b0" opacity="0.75"/><circle cx="305.1" cy="307.5" r="1.3" fill="#6252b0" opacity="0.75"/><circle cx="301.1" cy="309.5" r="0.8" fill="#6252b0" opacity="0.75"/><ellipse cx="359.9" cy="302.2" rx="5.5" ry="8.8" fill="#ece8f2"/><circle cx="357.3" cy="303.5" r="1.1" fill="#6252b0" opacity="0.75"/><circle cx="362.8" cy="300.5" r="1.0" fill="#6252b0" opacity="0.75"/><circle cx="358.7" cy="305.0" r="1.3" fill="#6252b0" opacity="0.75"/><circle cx="363.2" cy="306.6" r="1.1" fill="#6252b0" opacity="0.75"/><circle cx="363.7" cy="305.1" r="0.7" fill="#6252b0" opacity="0.75"/><circle cx="358.5" cy="301.2" r="1.3" fill="#6252b0" opacity="0.75"/><circle cx="358.4" cy="308.3" r="0.6" fill="#6252b0" opacity="0.75"/><circle cx="359.3" cy="300.6" r="0.6" fill="#6252b0" opacity="0.75"/><ellipse cx="322.7" cy="249.7" rx="6.6" ry="5.5" fill="#9a8cc8"/><circle cx="318.0" cy="247.8" r="1.1" fill="#6252b0" opacity="0.75"/><circle cx="325.6" cy="246.6" r="1.0" fill="#6252b0" opacity="0.75"/><circle cx="326.1" cy="251.2" r="0.7" fill="#6252b0" opacity="0.75"/><circle cx="319.6" cy="249.3" r="0.9" fill="#6252b0" opacity="0.75"/><circle cx="324.1" cy="253.2" r="0.9" fill="#6252b0" opacity="0.75"/><circle cx="321.2" cy="249.8" r="0.9" fill="#6252b0" opacity="0.75"/><circle cx="323.8" cy="311.5" r="1.05" fill="#d6cadf" opacity="0.8"/><circle cx="283.2" cy="262.7" r="0.87" fill="#d6cadf" opacity="0.8"/><circle cx="337.7" cy="309.1" r="1.38" fill="#d6cadf" opacity="0.8"/><circle cx="361.6" cy="308.1" r="1.29" fill="#d6cadf" opacity="0.8"/><circle cx="360.1" cy="242.4" r="0.99" fill="#d6cadf" opacity="0.8"/><circle cx="327.0" cy="290.7" r="1.09" fill="#d6cadf" opacity="0.8"/><circle cx="329.2" cy="308.7" r="0.67" fill="#d6cadf" opacity="0.8"/><circle cx="320.2" cy="310.6" r="0.63" fill="#d6cadf" opacity="0.8"/><circle cx="280.9" cy="304.0" r="1.37" fill="#d6cadf" opacity="0.8"/><circle cx="272.5" cy="243.2" r="1.26" fill="#d6cadf" opacity="0.8"/><circle cx="336.4" cy="278.6" r="1.06" fill="#d6cadf" opacity="0.8"/><circle cx="343.1" cy="299.5" r="0.60" fill="#d6cadf" opacity="0.8"/><circle cx="276.7" cy="298.6" r="1.38" fill="#d6cadf" opacity="0.8"/><circle cx="350.4" cy="270.5" r="0.87" fill="#d6cadf" opacity="0.8"/><circle cx="303.6" cy="242.0" r="1.22" fill="#d6cadf" opacity="0.8"/><circle cx="295.4" cy="283.4" r="1.02" fill="#d6cadf" opacity="0.8"/><circle cx="302.5" cy="289.9" r="0.96" fill="#d6cadf" opacity="0.8"/><circle cx="292.7" cy="304.9" r="0.74" fill="#d6cadf" opacity="0.8"/><circle cx="284.6" cy="259.3" r="0.98" fill="#d6cadf" opacity="0.8"/><circle cx="345.6" cy="265.1" r="0.79" fill="#d6cadf" opacity="0.8"/><circle cx="333.1" cy="259.8" r="1.02" fill="#d6cadf" opacity="0.8"/><circle cx="294.7" cy="304.6" r="0.75" fill="#d6cadf" opacity="0.8"/><circle cx="292.5" cy="262.8" r="0.86" fill="#d6cadf" opacity="0.8"/><circle cx="340.1" cy="289.8" r="1.23" fill="#d6cadf" opacity="0.8"/><circle cx="322.2" cy="246.6" r="1.21" fill="#d6cadf" opacity="0.8"/><circle cx="293.7" cy="256.7" r="0.93" fill="#d6cadf" opacity="0.8"/><circle cx="365.4" cy="267.8" r="0.89" fill="#d6cadf" opacity="0.8"/><circle cx="357.8" cy="312.8" r="0.91" fill="#d6cadf" opacity="0.8"/><circle cx="283.2" cy="298.2" r="1.23" fill="#d6cadf" opacity="0.8"/><circle cx="302.7" cy="298.3" r="0.90" fill="#d6cadf" opacity="0.8"/><circle cx="297.8" cy="284.0" r="1.19" fill="#d6cadf" opacity="0.8"/><circle cx="316.0" cy="300.3" r="0.61" fill="#d6cadf" opacity="0.8"/><circle cx="318.2" cy="268.5" r="0.65" fill="#d6cadf" opacity="0.8"/><circle cx="358.2" cy="251.3" r="0.76" fill="#d6cadf" opacity="0.8"/><circle cx="354.7" cy="310.6" r="1.35" fill="#d6cadf" opacity="0.8"/><circle cx="303.1" cy="308.5" r="0.71" fill="#d6cadf" opacity="0.8"/><circle cx="338.9" cy="309.6" r="0.75" fill="#d6cadf" opacity="0.8"/><circle cx="283.3" cy="290.1" r="1.31" fill="#d6cadf" opacity="0.8"/><circle cx="340.1" cy="309.8" r="0.96" fill="#d6cadf" opacity="0.8"/><circle cx="306.0" cy="249.6" r="0.82" fill="#d6cadf" opacity="0.8"/><circle cx="360.5" cy="246.1" r="0.75" fill="#d6cadf" opacity="0.8"/><circle cx="303.6" cy="244.5" r="0.85" fill="#d6cadf" opacity="0.8"/><circle cx="287.8" cy="249.8" r="1.02" fill="#d6cadf" opacity="0.8"/><circle cx="322.2" cy="282.1" r="1.21" fill="#d6cadf" opacity="0.8"/><circle cx="320.9" cy="309.7" r="0.67" fill="#d6cadf" opacity="0.8"/><circle cx="291.6" cy="246.5" r="0.85" fill="#d6cadf" opacity="0.8"/><circle cx="343.4" cy="308.0" r="1.00" fill="#d6cadf" opacity="0.8"/><circle cx="285.6" cy="264.9" r="1.05" fill="#d6cadf" opacity="0.8"/><circle cx="298.5" cy="298.5" r="1.38" fill="#d6cadf" opacity="0.8"/><circle cx="314.4" cy="284.7" r="1.28" fill="#d6cadf" opacity="0.8"/><circle cx="314.9" cy="254.8" r="1.36" fill="#d6cadf" opacity="0.8"/><circle cx="364.3" cy="242.7" r="1.21" fill="#d6cadf" opacity="0.8"/><circle cx="308.7" cy="244.7" r="0.73" fill="#d6cadf" opacity="0.8"/><circle cx="286.8" cy="294.4" r="0.77" fill="#d6cadf" opacity="0.8"/><circle cx="272.1" cy="256.9" r="1.24" fill="#d6cadf" opacity="0.8"/><circle cx="318.2" cy="288.3" r="0.97" fill="#d6cadf" opacity="0.8"/><circle cx="287.8" cy="242.0" r="0.84" fill="#d6cadf" opacity="0.8"/><circle cx="274.2" cy="259.8" r="1.10" fill="#d6cadf" opacity="0.8"/><circle cx="305.7" cy="275.2" r="1.10" fill="#d6cadf" opacity="0.8"/><circle cx="300.7" cy="266.8" r="1.31" fill="#d6cadf" opacity="0.8"/><circle cx="326.1" cy="271.2" r="1.03" fill="#d6cadf" opacity="0.8"/><circle cx="314.5" cy="265.0" r="1.33" fill="#d6cadf" opacity="0.8"/><circle cx="292.6" cy="308.8" r="1.28" fill="#d6cadf" opacity="0.8"/><circle cx="355.0" cy="252.7" r="1.01" fill="#d6cadf" opacity="0.8"/><circle cx="364.9" cy="261.9" r="0.74" fill="#d6cadf" opacity="0.8"/><circle cx="339.8" cy="258.0" r="1.07" fill="#d6cadf" opacity="0.8"/><circle cx="285.4" cy="309.7" r="0.83" fill="#d6cadf" opacity="0.8"/><circle cx="279.5" cy="290.8" r="0.88" fill="#d6cadf" opacity="0.8"/><circle cx="324.0" cy="277.0" r="1.34" fill="#d6cadf" opacity="0.8"/><circle cx="319.7" cy="268.4" r="0.60" fill="#d6cadf" opacity="0.8"/><polygon points="311.8,264.9 320.5,261.7 331.5,262.8 338.0,269.3 340.2,278.1 338.0,286.9 331.5,292.3 322.7,293.4 315.1,290.1 311.8,282.5 310.7,273.7" fill="#c0a6b4" stroke="#eee6e6" stroke-width="1.3" stroke-linejoin="round"/><ellipse cx="324.6" cy="272.3" rx="1.2" ry="0.9" fill="#5a44a8" opacity="0.85"/><ellipse cx="323.9" cy="268.0" rx="1.1" ry="0.8" fill="#5a44a8" opacity="0.85"/><ellipse cx="327.8" cy="289.0" rx="1.0" ry="0.8" fill="#5a44a8" opacity="0.85"/><ellipse cx="315.5" cy="284.9" rx="1.0" ry="1.0" fill="#5a44a8" opacity="0.85"/><ellipse cx="331.3" cy="272.0" rx="1.4" ry="0.9" fill="#5a44a8" opacity="0.85"/><ellipse cx="323.1" cy="279.1" rx="1.5" ry="0.8" fill="#5a44a8" opacity="0.85"/><ellipse cx="324.3" cy="272.8" rx="1.4" ry="0.9" fill="#5a44a8" opacity="0.85"/><ellipse cx="321.2" cy="270.6" rx="1.0" ry="1.0" fill="#5a44a8" opacity="0.85"/><ellipse cx="331.4" cy="289.2" rx="1.4" ry="0.9" fill="#5a44a8" opacity="0.85"/><ellipse cx="331.3" cy="282.8" rx="1.4" ry="1.0" fill="#5a44a8" opacity="0.85"/><ellipse cx="317.5" cy="285.3" rx="1.0" ry="0.7" fill="#5a44a8" opacity="0.85"/><ellipse cx="334.0" cy="266.4" rx="1.2" ry="0.8" fill="#5a44a8" opacity="0.85"/><ellipse cx="331.2" cy="280.4" rx="1.4" ry="1.1" fill="#5a44a8" opacity="0.85"/><ellipse cx="327.9" cy="267.4" rx="1.3" ry="0.7" fill="#5a44a8" opacity="0.85"/><ellipse cx="335.4" cy="286.6" rx="1.0" ry="0.7" fill="#5a44a8" opacity="0.85"/><ellipse cx="329.0" cy="283.9" rx="1.5" ry="0.9" fill="#5a44a8" opacity="0.85"/><ellipse cx="316.4" cy="283.2" rx="0.8" ry="1.0" fill="#5a44a8" opacity="0.85"/><ellipse cx="330.7" cy="284.6" rx="1.4" ry="0.9" fill="#5a44a8" opacity="0.85"/><ellipse cx="334.5" cy="281.1" rx="1.1" ry="0.8" fill="#5a44a8" opacity="0.85"/><ellipse cx="321.5" cy="266.4" rx="0.9" ry="1.0" fill="#5a44a8" opacity="0.85"/><ellipse cx="318.7" cy="281.4" rx="1.3" ry="0.9" fill="#5a44a8" opacity="0.85"/><ellipse cx="325.1" cy="273.4" rx="1.0" ry="0.7" fill="#5a44a8" opacity="0.85"/></g>
<rect x="270.2" y="240.9" width="96.2" height="72.6" filter="url(#hn)" opacity="0.22"/>
<rect x="270.2" y="240.9" width="96.2" height="72.6" filter="url(#hd)" opacity="0.35"/>
<g filter="url(#hc)"><rect x="282.22" y="234.90" width="12.03" height="18.10" fill="#f4eef0" opacity="0.187"/><rect x="294.25" y="234.90" width="12.02" height="18.10" fill="#f4eef0" opacity="0.039"/><rect x="306.27" y="234.90" width="12.03" height="18.10" fill="#f4eef0" opacity="0.028"/><rect x="318.30" y="234.90" width="12.02" height="18.10" fill="#f4eef0" opacity="0.016"/><rect x="330.32" y="234.90" width="12.03" height="18.10" fill="#f4eef0" opacity="0.050"/><rect x="342.35" y="234.90" width="12.02" height="18.10" fill="#f4eef0" opacity="0.019"/><rect x="264.20" y="253.00" width="18.02" height="12.10" fill="#f4eef0" opacity="0.125"/><rect x="282.22" y="253.00" width="12.03" height="12.10" fill="#f4eef0" opacity="0.169"/><rect x="294.25" y="253.00" width="12.02" height="12.10" fill="#f4eef0" opacity="0.049"/><rect x="306.27" y="253.00" width="12.03" height="12.10" fill="#f4eef0" opacity="0.031"/><rect x="318.30" y="253.00" width="12.02" height="12.10" fill="#f4eef0" opacity="0.033"/><rect x="342.35" y="253.00" width="12.02" height="12.10" fill="#f4eef0" opacity="0.075"/><rect x="354.38" y="253.00" width="18.02" height="12.10" fill="#f4eef0" opacity="0.182"/><rect x="264.20" y="265.10" width="18.02" height="12.10" fill="#f4eef0" opacity="0.084"/><rect x="294.25" y="265.10" width="12.02" height="12.10" fill="#f4eef0" opacity="0.043"/><rect x="318.30" y="265.10" width="12.02" height="12.10" fill="#f4eef0" opacity="0.048"/><rect x="330.32" y="265.10" width="12.03" height="12.10" fill="#f4eef0" opacity="0.049"/><rect x="342.35" y="265.10" width="12.02" height="12.10" fill="#f4eef0" opacity="0.126"/><rect x="354.38" y="265.10" width="18.02" height="12.10" fill="#f4eef0" opacity="0.081"/><rect x="264.20" y="277.20" width="18.02" height="12.10" fill="#f4eef0" opacity="0.114"/><rect x="282.22" y="277.20" width="12.03" height="12.10" fill="#f4eef0" opacity="0.177"/><rect x="306.27" y="277.20" width="12.03" height="12.10" fill="#f4eef0" opacity="0.109"/><rect x="342.35" y="277.20" width="12.02" height="12.10" fill="#f4eef0" opacity="0.082"/><rect x="354.38" y="277.20" width="18.02" height="12.10" fill="#f4eef0" opacity="0.154"/><rect x="264.20" y="289.30" width="18.02" height="12.10" fill="#f4eef0" opacity="0.035"/><rect x="294.25" y="289.30" width="12.02" height="12.10" fill="#f4eef0" opacity="0.224"/><rect x="306.27" y="289.30" width="12.03" height="12.10" fill="#f4eef0" opacity="0.162"/><rect x="318.30" y="289.30" width="12.02" height="12.10" fill="#f4eef0" opacity="0.056"/><rect x="330.32" y="289.30" width="12.03" height="12.10" fill="#f4eef0" opacity="0.239"/><rect x="342.35" y="289.30" width="12.02" height="12.10" fill="#f4eef0" opacity="0.167"/><rect x="354.38" y="289.30" width="18.02" height="12.10" fill="#f4eef0" opacity="0.056"/><rect x="264.20" y="301.40" width="18.02" height="18.10" fill="#f4eef0" opacity="0.247"/><rect x="282.22" y="301.40" width="12.03" height="18.10" fill="#f4eef0" opacity="0.177"/><rect x="294.25" y="301.40" width="12.02" height="18.10" fill="#f4eef0" opacity="0.016"/><rect x="318.30" y="301.40" width="12.02" height="18.10" fill="#f4eef0" opacity="0.096"/><rect x="330.32" y="301.40" width="12.03" height="18.10" fill="#f4eef0" opacity="0.217"/><rect x="342.35" y="301.40" width="12.02" height="18.10" fill="#f4eef0" opacity="0.157"/><rect x="264.20" y="234.90" width="18.02" height="18.10" fill="#33238a" opacity="0.011"/><rect x="354.38" y="234.90" width="18.02" height="18.10" fill="#33238a" opacity="0.041"/><rect x="330.32" y="253.00" width="12.03" height="12.10" fill="#33238a" opacity="0.012"/><rect x="282.22" y="265.10" width="12.03" height="12.10" fill="#33238a" opacity="0.241"/><rect x="306.27" y="265.10" width="12.03" height="12.10" fill="#33238a" opacity="0.014"/><rect x="294.25" y="277.20" width="12.02" height="12.10" fill="#33238a" opacity="0.132"/><rect x="318.30" y="277.20" width="12.02" height="12.10" fill="#33238a" opacity="0.031"/><rect x="330.32" y="277.20" width="12.03" height="12.10" fill="#33238a" opacity="0.032"/><rect x="282.22" y="289.30" width="12.03" height="12.10" fill="#33238a" opacity="0.023"/><rect x="306.27" y="301.40" width="12.03" height="18.10" fill="#33238a" opacity="0.062"/><rect x="354.38" y="301.40" width="18.02" height="18.10" fill="#33238a" opacity="0.002"/></g>
<path d="M311.3 260.7 l3.2 0 l-1.6 2.8z" fill="#e41a1a"/>
<path d="M326.1 278.5 l2.8 -1.6 l0 3.2z" fill="#e41a1a"/>
<path d="M337.8 273.3 l2.8 -1.6 l0 3.2z" fill="#e41a1a"/>
<path d="M337.8 278.1 l2.8 -1.6 l0 3.2z" fill="#e41a1a"/>
<path d="M337.8 282.5 l2.8 -1.6 l0 3.2z" fill="#e41a1a"/>
<line x1="347.7" y1="311.2" x2="363.8" y2="311.2" stroke="#e02020" stroke-width="1.1"/>
</g>
<rect x="270.2" y="240.9" width="96.2" height="72.6" fill="none" stroke="#333" stroke-width="0.9"/>
<text x="7" y="16.6" font-size="11.8" font-weight="bold" fill="#000">A</text>
<rect x="39.4" y="19.3" width="7.7" height="4.2" fill="#a8052c" stroke="#8c0022" stroke-width="0.5"/>
<text x="50.2" y="23.6" font-size="6.6" textLength="16.8" lengthAdjust="spacingAndGlyphs">Sham</text>
<rect x="39.4" y="26.5" width="7.7" height="4.2" fill="#2d4f88" stroke="#1c3a72" stroke-width="0.5"/>
<text x="50.2" y="30.8" font-size="6.6" textLength="27" lengthAdjust="spacingAndGlyphs">TBI-TBST</text>
<rect x="39.4" y="33.75" width="7.7" height="4.2" fill="#6aaa45" stroke="#529a2e" stroke-width="0.5"/>
<text x="50.2" y="38.05" font-size="6.6" textLength="19.9" lengthAdjust="spacingAndGlyphs">TBI-A2</text>
<line x1="37" y1="29.4" x2="37" y2="104.1" stroke="#000" stroke-width="1.1"/>
<line x1="34.4" y1="104.1" x2="37" y2="104.1" stroke="#000" stroke-width="0.8"/>
<text x="31.2" y="106.33" font-size="6.2" text-anchor="end">0</text>
<line x1="34.4" y1="90.3" x2="37" y2="90.3" stroke="#000" stroke-width="0.8"/>
<text x="31.2" y="92.53" font-size="6.2" text-anchor="end">1</text>
<line x1="34.4" y1="76.5" x2="37" y2="76.5" stroke="#000" stroke-width="0.8"/>
<text x="31.2" y="78.73" font-size="6.2" text-anchor="end">2</text>
<line x1="34.4" y1="62.4" x2="37" y2="62.4" stroke="#000" stroke-width="0.8"/>
<text x="31.2" y="64.63" font-size="6.2" text-anchor="end">3</text>
<line x1="34.4" y1="48.3" x2="37" y2="48.3" stroke="#000" stroke-width="0.8"/>
<text x="31.2" y="50.53" font-size="6.2" text-anchor="end">4</text>
<line x1="34.4" y1="32.3" x2="37" y2="32.3" stroke="#000" stroke-width="0.8"/>
<text x="31.2" y="34.53" font-size="6.2" text-anchor="end">5</text>
<line x1="34.4" y1="97.2" x2="37" y2="97.2" stroke="#000" stroke-width="0.8"/>
<line x1="34.4" y1="83.4" x2="37" y2="83.4" stroke="#000" stroke-width="0.8"/>
<line x1="34.4" y1="69.45" x2="37" y2="69.45" stroke="#000" stroke-width="0.8"/>
<line x1="34.4" y1="55.35" x2="37" y2="55.35" stroke="#000" stroke-width="0.8"/>
<line x1="34.4" y1="40.3" x2="37" y2="40.3" stroke="#000" stroke-width="0.8"/>
<line x1="34" y1="104.4" x2="138.2" y2="104.4" stroke="#000" stroke-width="1.1"/>
<text x="21.66" y="66.65" font-size="7.4" text-anchor="middle" textLength="60.3" lengthAdjust="spacingAndGlyphs" transform="rotate(-90 21.66 66.65)">Fibrinogen (mg/ml)</text>
<line x1="46.2" y1="62.6" x2="46.2" y2="59.8" stroke="#000" stroke-width="0.8"/>
<line x1="44.8" y1="59.8" x2="47.6" y2="59.8" stroke="#000" stroke-width="0.8"/>
<rect x="42.4" y="62.9" width="7.6" height="41.5" fill="#a8052c" stroke="#8c0022" stroke-width="0.6"/>
<line x1="55.7" y1="64.1" x2="55.7" y2="56" stroke="#000" stroke-width="0.8"/>
<line x1="54.3" y1="56" x2="57.1" y2="56" stroke="#000" stroke-width="0.8"/>
<rect x="51.9" y="64.4" width="7.6" height="40" fill="#2d4f88" stroke="#1c3a72" stroke-width="0.6"/>
<line x1="65.2" y1="67.6" x2="65.2" y2="62.2" stroke="#000" stroke-width="0.8"/>
<line x1="63.8" y1="62.2" x2="66.6" y2="62.2" stroke="#000" stroke-width="0.8"/>
<rect x="61.4" y="67.9" width="7.6" height="36.5" fill="#6aaa45" stroke="#529a2e" stroke-width="0.6"/>
<line x1="79.4" y1="60.7" x2="79.4" y2="55" stroke="#000" stroke-width="0.8"/>
<line x1="78" y1="55" x2="80.8" y2="55" stroke="#000" stroke-width="0.8"/>
<rect x="75.6" y="61" width="7.6" height="43.4" fill="#a8052c" stroke="#8c0022" stroke-width="0.6"/>
<line x1="88.9" y1="90" x2="88.9" y2="86.5" stroke="#000" stroke-width="0.8"/>
<line x1="87.5" y1="86.5" x2="90.3" y2="86.5" stroke="#000" stroke-width="0.8"/>
<rect x="85.1" y="90.3" width="7.6" height="14.1" fill="#2d4f88" stroke="#1c3a72" stroke-width="0.6"/>
<line x1="98.4" y1="78.7" x2="98.4" y2="73.3" stroke="#000" stroke-width="0.8"/>
<line x1="97" y1="73.3" x2="99.8" y2="73.3" stroke="#000" stroke-width="0.8"/>
<rect x="94.6" y="79" width="7.6" height="25.4" fill="#6aaa45" stroke="#529a2e" stroke-width="0.6"/>
<line x1="112.3" y1="63.5" x2="112.3" y2="56.3" stroke="#000" stroke-width="0.8"/>
<line x1="110.9" y1="56.3" x2="113.7" y2="56.3" stroke="#000" stroke-width="0.8"/>
<rect x="108.5" y="63.8" width="7.6" height="40.6" fill="#a8052c" stroke="#8c0022" stroke-width="0.6"/>
<line x1="121.8" y1="83.9" x2="121.8" y2="81" stroke="#000" stroke-width="0.8"/>
<line x1="120.4" y1="81" x2="123.2" y2="81" stroke="#000" stroke-width="0.8"/>
<rect x="118" y="84.2" width="7.6" height="20.2" fill="#2d4f88" stroke="#1c3a72" stroke-width="0.6"/>
<line x1="131.3" y1="74.2" x2="131.3" y2="70.3" stroke="#000" stroke-width="0.8"/>
<line x1="129.9" y1="70.3" x2="132.7" y2="70.3" stroke="#000" stroke-width="0.8"/>
<rect x="127.5" y="74.5" width="7.6" height="29.9" fill="#6aaa45" stroke="#529a2e" stroke-width="0.6"/>
<text x="83.8" y="41.2" font-size="5" textLength="20.2" lengthAdjust="spacingAndGlyphs" fill="#3a3a3a">p=0.028</text>
<line x1="88" y1="42.7" x2="98.3" y2="42.7" stroke="#000" stroke-width="0.8"/>
<text x="74.2" y="52.2" font-size="5" textLength="20.2" lengthAdjust="spacingAndGlyphs" fill="#3a3a3a">p&lt;0.001</text>
<line x1="79" y1="53.5" x2="88.7" y2="53.5" stroke="#000" stroke-width="0.8"/>
<text x="115.1" y="43.4" font-size="5" textLength="19.8" lengthAdjust="spacingAndGlyphs" fill="#3a3a3a">p=0.014</text>
<line x1="118.7" y1="44.5" x2="130.7" y2="44.5" stroke="#000" stroke-width="0.8"/>
<text x="109.2" y="53.5" font-size="5" textLength="16.8" lengthAdjust="spacingAndGlyphs" fill="#3a3a3a">p&lt;0.01</text>
<line x1="111.6" y1="54.7" x2="123.5" y2="54.7" stroke="#000" stroke-width="0.8"/>
<text x="55.2" y="114" font-size="6.4" text-anchor="middle" textLength="24.5" lengthAdjust="spacingAndGlyphs">Baseline</text>
<text x="88.3" y="114" font-size="6.4" text-anchor="middle">3</text>
<text x="121.3" y="114" font-size="6.4" text-anchor="middle">6</text>
<line x1="74.6" y1="118.4" x2="138" y2="118.4" stroke="#000" stroke-width="1"/>
<text x="75.6" y="127.1" font-size="6.6" textLength="58" lengthAdjust="spacingAndGlyphs">Post TBI time (hour)</text>
<text x="154.3" y="16.8" font-size="11.8" font-weight="bold" fill="#000">B</text>
<rect x="182.2" y="19.2" width="7.7" height="4.2" fill="#a8052c" stroke="#8c0022" stroke-width="0.5"/>
<text x="193" y="23.5" font-size="6.6" textLength="16.8" lengthAdjust="spacingAndGlyphs">Sham</text>
<rect x="182.2" y="26.3" width="7.7" height="4.2" fill="#2d4f88" stroke="#1c3a72" stroke-width="0.5"/>
<text x="193" y="30.6" font-size="6.6" textLength="27" lengthAdjust="spacingAndGlyphs">TBI-TBST</text>
<rect x="182.2" y="33.9" width="7.7" height="4.2" fill="#6aaa45" stroke="#529a2e" stroke-width="0.5"/>
<text x="193" y="38.2" font-size="6.6" textLength="19.9" lengthAdjust="spacingAndGlyphs">TBI-A2</text>
<line x1="180.2" y1="36.43" x2="180.2" y2="104.7" stroke="#000" stroke-width="1.1"/>
<line x1="177.2" y1="104.7" x2="180.2" y2="104.7" stroke="#000" stroke-width="0.8"/>
<text x="176" y="107.08" font-size="6.6" text-anchor="end">0</text>
<line x1="177.2" y1="98.63" x2="180.2" y2="98.63" stroke="#000" stroke-width="0.8"/>
<text x="176" y="101.01" font-size="6.6" text-anchor="end">1</text>
<line x1="177.2" y1="92.56" x2="180.2" y2="92.56" stroke="#000" stroke-width="0.8"/>
<text x="176" y="94.94" font-size="6.6" text-anchor="end">2</text>
<line x1="177.2" y1="86.49" x2="180.2" y2="86.49" stroke="#000" stroke-width="0.8"/>
<text x="176" y="88.87" font-size="6.6" text-anchor="end">3</text>
<line x1="177.2" y1="80.42" x2="180.2" y2="80.42" stroke="#000" stroke-width="0.8"/>
<text x="176" y="82.8" font-size="6.6" text-anchor="end">4</text>
<line x1="177.2" y1="74.35" x2="180.2" y2="74.35" stroke="#000" stroke-width="0.8"/>
<text x="176" y="76.73" font-size="6.6" text-anchor="end">5</text>
<line x1="177.2" y1="68.28" x2="180.2" y2="68.28" stroke="#000" stroke-width="0.8"/>
<text x="176" y="70.66" font-size="6.6" text-anchor="end">6</text>
<line x1="177.2" y1="62.21" x2="180.2" y2="62.21" stroke="#000" stroke-width="0.8"/>
<text x="176" y="64.59" font-size="6.6" text-anchor="end">7</text>
<line x1="177.2" y1="56.14" x2="180.2" y2="56.14" stroke="#000" stroke-width="0.8"/>
<text x="176" y="58.52" font-size="6.6" text-anchor="end">8</text>
<line x1="177.2" y1="50.07" x2="180.2" y2="50.07" stroke="#000" stroke-width="0.8"/>
<text x="176" y="52.45" font-size="6.6" text-anchor="end">9</text>
<line x1="177.2" y1="44" x2="180.2" y2="44" stroke="#000" stroke-width="0.8"/>
<text x="176" y="46.38" font-size="6.6" text-anchor="end">10</text>
<line x1="177.2" y1="37.93" x2="180.2" y2="37.93" stroke="#000" stroke-width="0.8"/>
<text x="176" y="40.31" font-size="6.6" text-anchor="end">11</text>
<line x1="177.1" y1="104.7" x2="283.7" y2="104.7" stroke="#000" stroke-width="1.1"/>
<text x="162.24" y="68.7" font-size="7.9" text-anchor="middle" textLength="67" lengthAdjust="spacingAndGlyphs" transform="rotate(-90 162.24 68.7)">D-dimer (ng/ml×100)</text>
<line x1="189.15" y1="99.4" x2="189.15" y2="97.4" stroke="#000" stroke-width="0.8"/>
<line x1="187.75" y1="97.4" x2="190.55" y2="97.4" stroke="#000" stroke-width="0.8"/>
<rect x="185.5" y="99.7" width="7.3" height="5" fill="#a8052c" stroke="#8c0022" stroke-width="0.6"/>
<line x1="198.75" y1="99.6" x2="198.75" y2="97.2" stroke="#000" stroke-width="0.8"/>
<line x1="197.35" y1="97.2" x2="200.15" y2="97.2" stroke="#000" stroke-width="0.8"/>
<rect x="195.1" y="99.9" width="7.3" height="4.8" fill="#2d4f88" stroke="#1c3a72" stroke-width="0.6"/>
<line x1="208.35" y1="99.4" x2="208.35" y2="97" stroke="#000" stroke-width="0.8"/>
<line x1="206.95" y1="97" x2="209.75" y2="97" stroke="#000" stroke-width="0.8"/>
<rect x="204.7" y="99.7" width="7.3" height="5" fill="#6aaa45" stroke="#529a2e" stroke-width="0.6"/>
<line x1="222.75" y1="94.5" x2="222.75" y2="91.1" stroke="#000" stroke-width="0.8"/>
<line x1="221.35" y1="91.1" x2="224.15" y2="91.1" stroke="#000" stroke-width="0.8"/>
<rect x="219.1" y="94.8" width="7.3" height="9.9" fill="#a8052c" stroke="#8c0022" stroke-width="0.6"/>
<line x1="232.35" y1="66.4" x2="232.35" y2="57" stroke="#000" stroke-width="0.8"/>
<line x1="230.95" y1="57" x2="233.75" y2="57" stroke="#000" stroke-width="0.8"/>
<rect x="228.7" y="66.7" width="7.3" height="38" fill="#2d4f88" stroke="#1c3a72" stroke-width="0.6"/>
<line x1="241.95" y1="87.1" x2="241.95" y2="82.6" stroke="#000" stroke-width="0.8"/>
<line x1="240.55" y1="82.6" x2="243.35" y2="82.6" stroke="#000" stroke-width="0.8"/>
<rect x="238.3" y="87.4" width="7.3" height="17.3" fill="#6aaa45" stroke="#529a2e" stroke-width="0.6"/>
<line x1="256.25" y1="96.6" x2="256.25" y2="94.7" stroke="#000" stroke-width="0.8"/>
<line x1="254.85" y1="94.7" x2="257.65" y2="94.7" stroke="#000" stroke-width="0.8"/>
<rect x="252.6" y="96.9" width="7.3" height="7.8" fill="#a8052c" stroke="#8c0022" stroke-width="0.6"/>
<line x1="265.85" y1="78.2" x2="265.85" y2="69.1" stroke="#000" stroke-width="0.8"/>
<line x1="264.45" y1="69.1" x2="267.25" y2="69.1" stroke="#000" stroke-width="0.8"/>
<rect x="262.2" y="78.5" width="7.3" height="26.2" fill="#2d4f88" stroke="#1c3a72" stroke-width="0.6"/>
<line x1="275.45" y1="91.8" x2="275.45" y2="89" stroke="#000" stroke-width="0.8"/>
<line x1="274.05" y1="89" x2="276.85" y2="89" stroke="#000" stroke-width="0.8"/>
<rect x="271.8" y="92.1" width="7.3" height="12.6" fill="#6aaa45" stroke="#529a2e" stroke-width="0.6"/>
<text x="227.8" y="45.8" font-size="5" textLength="21.6" lengthAdjust="spacingAndGlyphs" fill="#3a3a3a">p=0.004</text>
<line x1="233" y1="46.7" x2="244.2" y2="46.7" stroke="#000" stroke-width="0.8"/>
<text x="219.5" y="54.3" font-size="5" textLength="17.3" lengthAdjust="spacingAndGlyphs" fill="#3a3a3a">p&lt;0.01</text>
<line x1="222.9" y1="55.6" x2="233" y2="55.6" stroke="#000" stroke-width="0.8"/>
<text x="261.6" y="55.8" font-size="5" textLength="20.7" lengthAdjust="spacingAndGlyphs" fill="#3a3a3a">p=0.009</text>
<line x1="266" y1="56.7" x2="278" y2="56.7" stroke="#000" stroke-width="0.8"/>
<text x="251.3" y="66.1" font-size="5" textLength="20.5" lengthAdjust="spacingAndGlyphs" fill="#3a3a3a">p=0.005</text>
<line x1="256" y1="67" x2="266" y2="67" stroke="#000" stroke-width="0.8"/>
<text x="198.8" y="113.9" font-size="6.4" text-anchor="middle" textLength="24.4" lengthAdjust="spacingAndGlyphs">Baseline</text>
<text x="232.1" y="113.9" font-size="6.4" text-anchor="middle">3</text>
<text x="265.5" y="113.9" font-size="6.4" text-anchor="middle">6</text>
<line x1="219.4" y1="118.1" x2="280.4" y2="118.1" stroke="#000" stroke-width="1"/>
<text x="221.1" y="126.6" font-size="6.6" textLength="58" lengthAdjust="spacingAndGlyphs">Post TBI time (hour)</text>
<text x="303.1" y="16.5" font-size="11.8" font-weight="bold" fill="#000">D</text>
<rect x="331.2" y="19.4" width="7.7" height="4.2" fill="#a8052c" stroke="#8c0022" stroke-width="0.5"/>
<text x="342" y="23.7" font-size="6.6" textLength="16.8" lengthAdjust="spacingAndGlyphs">Sham</text>
<rect x="331.2" y="26.4" width="7.7" height="4.2" fill="#2d4f88" stroke="#1c3a72" stroke-width="0.5"/>
<text x="342" y="30.7" font-size="6.6" textLength="27" lengthAdjust="spacingAndGlyphs">TBI-TBST</text>
<rect x="331.2" y="33.6" width="7.7" height="4.2" fill="#6aaa45" stroke="#529a2e" stroke-width="0.5"/>
<text x="342" y="37.9" font-size="6.6" textLength="19.9" lengthAdjust="spacingAndGlyphs">TBI-A2</text>
<line x1="329" y1="36.7" x2="329" y2="104.5" stroke="#000" stroke-width="1.1"/>
<line x1="326.6" y1="104.5" x2="329" y2="104.5" stroke="#000" stroke-width="0.8"/>
<text x="323.3" y="106.88" font-size="6.6" text-anchor="end">0</text>
<line x1="326.6" y1="91.55" x2="329" y2="91.55" stroke="#000" stroke-width="0.8"/>
<text x="323.3" y="93.93" font-size="6.6" text-anchor="end">20</text>
<line x1="326.6" y1="78.6" x2="329" y2="78.6" stroke="#000" stroke-width="0.8"/>
<text x="323.3" y="80.98" font-size="6.6" text-anchor="end">40</text>
<line x1="326.6" y1="65.65" x2="329" y2="65.65" stroke="#000" stroke-width="0.8"/>
<text x="323.3" y="68.03" font-size="6.6" text-anchor="end">60</text>
<line x1="326.6" y1="52.7" x2="329" y2="52.7" stroke="#000" stroke-width="0.8"/>
<text x="323.3" y="55.08" font-size="6.6" text-anchor="end">80</text>
<line x1="326.6" y1="39.75" x2="329" y2="39.75" stroke="#000" stroke-width="0.8"/>
<text x="323.3" y="42.13" font-size="6.6" text-anchor="end">100</text>
<line x1="326" y1="104.5" x2="431.8" y2="104.5" stroke="#000" stroke-width="1.1"/>
<text x="306.34" y="69.7" font-size="7.9" text-anchor="middle" textLength="59.4" lengthAdjust="spacingAndGlyphs" transform="rotate(-90 306.34 69.7)">Clotting time (sec.)</text>
<line x1="338.7" y1="57.4" x2="338.7" y2="48.9" stroke="#000" stroke-width="0.8"/>
<line x1="337.3" y1="48.9" x2="340.1" y2="48.9" stroke="#000" stroke-width="0.8"/>
<rect x="334.9" y="57.7" width="7.6" height="46.8" fill="#a8052c" stroke="#8c0022" stroke-width="0.6"/>
<line x1="348.3" y1="53" x2="348.3" y2="50.3" stroke="#000" stroke-width="0.8"/>
<line x1="346.9" y1="50.3" x2="349.7" y2="50.3" stroke="#000" stroke-width="0.8"/>
<rect x="344.5" y="53.3" width="7.6" height="51.2" fill="#2d4f88" stroke="#1c3a72" stroke-width="0.6"/>
<line x1="357.9" y1="55.9" x2="357.9" y2="45.1" stroke="#000" stroke-width="0.8"/>
<line x1="356.5" y1="45.1" x2="359.3" y2="45.1" stroke="#000" stroke-width="0.8"/>
<rect x="354.1" y="56.2" width="7.6" height="48.3" fill="#6aaa45" stroke="#529a2e" stroke-width="0.6"/>
<line x1="372.1" y1="56.4" x2="372.1" y2="46.3" stroke="#000" stroke-width="0.8"/>
<line x1="370.7" y1="46.3" x2="373.5" y2="46.3" stroke="#000" stroke-width="0.8"/>
<rect x="368.3" y="56.7" width="7.6" height="47.8" fill="#a8052c" stroke="#8c0022" stroke-width="0.6"/>
<line x1="381.7" y1="74.9" x2="381.7" y2="68.2" stroke="#000" stroke-width="0.8"/>
<line x1="380.3" y1="68.2" x2="383.1" y2="68.2" stroke="#000" stroke-width="0.8"/>
<rect x="377.9" y="75.2" width="7.6" height="29.3" fill="#2d4f88" stroke="#1c3a72" stroke-width="0.6"/>
<line x1="391.3" y1="65.1" x2="391.3" y2="59.7" stroke="#000" stroke-width="0.8"/>
<line x1="389.9" y1="59.7" x2="392.7" y2="59.7" stroke="#000" stroke-width="0.8"/>
<rect x="387.5" y="65.4" width="7.6" height="39.1" fill="#6aaa45" stroke="#529a2e" stroke-width="0.6"/>
<line x1="405.5" y1="54.2" x2="405.5" y2="47.2" stroke="#000" stroke-width="0.8"/>
<line x1="404.1" y1="47.2" x2="406.9" y2="47.2" stroke="#000" stroke-width="0.8"/>
<rect x="401.7" y="54.5" width="7.6" height="50" fill="#a8052c" stroke="#8c0022" stroke-width="0.6"/>
<line x1="415.1" y1="72.2" x2="415.1" y2="65.1" stroke="#000" stroke-width="0.8"/>
<line x1="413.7" y1="65.1" x2="416.5" y2="65.1" stroke="#000" stroke-width="0.8"/>
<rect x="411.3" y="72.5" width="7.6" height="32" fill="#2d4f88" stroke="#1c3a72" stroke-width="0.6"/>
<line x1="424.7" y1="57.9" x2="424.7" y2="52.7" stroke="#000" stroke-width="0.8"/>
<line x1="423.3" y1="52.7" x2="426.1" y2="52.7" stroke="#000" stroke-width="0.8"/>
<rect x="420.9" y="58.2" width="7.6" height="46.3" fill="#6aaa45" stroke="#529a2e" stroke-width="0.6"/>
<text x="376.7" y="34.3" font-size="5" textLength="20.5" lengthAdjust="spacingAndGlyphs" fill="#3a3a3a">p=0.015</text>
<line x1="380.7" y1="35.8" x2="390.4" y2="35.8" stroke="#000" stroke-width="0.8"/>
<text x="366.8" y="44" font-size="5" textLength="20.7" lengthAdjust="spacingAndGlyphs" fill="#3a3a3a">p&lt;0.001</text>
<line x1="371.7" y1="45.2" x2="381.5" y2="45.2" stroke="#000" stroke-width="0.8"/>
<text x="409.9" y="34.3" font-size="5" textLength="20.1" lengthAdjust="spacingAndGlyphs" fill="#3a3a3a">p=0.002</text>
<line x1="414.3" y1="35.8" x2="424" y2="35.8" stroke="#000" stroke-width="0.8"/>
<text x="400.2" y="44" font-size="5" textLength="20.2" lengthAdjust="spacingAndGlyphs" fill="#3a3a3a">p&lt;0.001</text>
<line x1="404.7" y1="45.2" x2="414.4" y2="45.2" stroke="#000" stroke-width="0.8"/>
<text x="348.2" y="113.9" font-size="6.4" text-anchor="middle" textLength="24.5" lengthAdjust="spacingAndGlyphs">Baseline</text>
<text x="381.7" y="113.9" font-size="6.4" text-anchor="middle">3</text>
<text x="414.9" y="113.9" font-size="6.4" text-anchor="middle">6</text>
<line x1="368.4" y1="118.1" x2="429.1" y2="118.1" stroke="#000" stroke-width="1"/>
<text x="369.8" y="126.6" font-size="6.6" textLength="58.4" lengthAdjust="spacingAndGlyphs">Post TBI time (hour)</text>
<text x="449.6" y="17.1" font-size="11.8" font-weight="bold" fill="#000">F</text>
<line x1="479.2" y1="23.7" x2="479.2" y2="104.8" stroke="#000" stroke-width="1.1"/>
<line x1="476.8" y1="104.8" x2="479.2" y2="104.8" stroke="#000" stroke-width="0.8"/>
<text x="474.3" y="107.18" font-size="6.6" text-anchor="end">0</text>
<line x1="476.8" y1="92.2" x2="479.2" y2="92.2" stroke="#000" stroke-width="0.8"/>
<text x="474.3" y="94.58" font-size="6.6" text-anchor="end">20</text>
<line x1="476.8" y1="79.6" x2="479.2" y2="79.6" stroke="#000" stroke-width="0.8"/>
<text x="474.3" y="81.98" font-size="6.6" text-anchor="end">40</text>
<line x1="476.8" y1="67" x2="479.2" y2="67" stroke="#000" stroke-width="0.8"/>
<text x="474.3" y="69.38" font-size="6.6" text-anchor="end">60</text>
<line x1="476.8" y1="54.4" x2="479.2" y2="54.4" stroke="#000" stroke-width="0.8"/>
<text x="474.3" y="56.78" font-size="6.6" text-anchor="end">80</text>
<line x1="476.8" y1="41.8" x2="479.2" y2="41.8" stroke="#000" stroke-width="0.8"/>
<text x="474.3" y="44.18" font-size="6.6" text-anchor="end">100</text>
<line x1="476.8" y1="29.2" x2="479.2" y2="29.2" stroke="#000" stroke-width="0.8"/>
<text x="474.3" y="31.58" font-size="6.6" text-anchor="end">120</text>
<line x1="476.2" y1="104.8" x2="512.6" y2="104.8" stroke="#000" stroke-width="1.1"/>
<text x="456.14" y="62.6" font-size="7.9" text-anchor="middle" textLength="61.8" lengthAdjust="spacingAndGlyphs" transform="rotate(-90 456.14 62.6)">Clotting time (sec.)</text>
<line x1="488.1" y1="76.8" x2="488.1" y2="73.5" stroke="#000" stroke-width="0.8"/>
<line x1="486.7" y1="73.5" x2="489.5" y2="73.5" stroke="#000" stroke-width="0.8"/>
<rect x="484.5" y="77.1" width="7.2" height="27.7" fill="#a8052c" stroke="#8c0022" stroke-width="0.6"/>
<line x1="497" y1="54.2" x2="497" y2="40.4" stroke="#000" stroke-width="0.8"/>
<line x1="495.6" y1="40.4" x2="498.4" y2="40.4" stroke="#000" stroke-width="0.8"/>
<rect x="493.4" y="54.5" width="7.2" height="50.3" fill="#a8052c" stroke="#8c0022" stroke-width="0.6"/>
<line x1="505.65" y1="62.5" x2="505.65" y2="59.6" stroke="#000" stroke-width="0.8"/>
<line x1="504.25" y1="59.6" x2="507.05" y2="59.6" stroke="#000" stroke-width="0.8"/>
<rect x="502.2" y="62.8" width="6.9" height="42" fill="#a8052c" stroke="#8c0022" stroke-width="0.6"/>
<text x="492.1" y="25.2" font-size="5" textLength="17.1" lengthAdjust="spacingAndGlyphs" fill="#3a3a3a">p&lt;0.05</text>
<line x1="494.8" y1="27.3" x2="508.3" y2="27.3" stroke="#000" stroke-width="0.8"/>
<text x="482.6" y="38.7" font-size="5" textLength="17.6" lengthAdjust="spacingAndGlyphs" fill="#3a3a3a">p&lt;0.05</text>
<line x1="485" y1="40.4" x2="497.2" y2="40.4" stroke="#000" stroke-width="0.8"/>
<text x="479.5" y="113.7" font-size="6.6" text-anchor="end" textLength="23.5" lengthAdjust="spacingAndGlyphs">Total EV</text>
<line x1="486.5" y1="111.4" x2="489.5" y2="111.4" stroke="#000" stroke-width="0.7"/>
<line x1="488" y1="109.9" x2="488" y2="112.9" stroke="#000" stroke-width="0.7"/>
<line x1="495.9" y1="111.4" x2="497.3" y2="111.4" stroke="#555" stroke-width="0.7"/>
<line x1="503.7" y1="111.4" x2="506.7" y2="111.4" stroke="#000" stroke-width="0.7"/>
<line x1="505.2" y1="109.9" x2="505.2" y2="112.9" stroke="#000" stroke-width="0.7"/>
<text x="479.5" y="120.9" font-size="6.6" text-anchor="end" textLength="24" lengthAdjust="spacingAndGlyphs">VWF⁺EV</text>
<line x1="487.3" y1="118.6" x2="488.7" y2="118.6" stroke="#555" stroke-width="0.7"/>
<line x1="495.1" y1="118.6" x2="498.1" y2="118.6" stroke="#000" stroke-width="0.7"/>
<line x1="496.6" y1="117.1" x2="496.6" y2="120.1" stroke="#000" stroke-width="0.7"/>
<line x1="504.5" y1="118.6" x2="505.9" y2="118.6" stroke="#555" stroke-width="0.7"/>
<text x="479.5" y="128" font-size="6.6" text-anchor="end" textLength="27.8" lengthAdjust="spacingAndGlyphs">Anti-VWF</text>
<line x1="487.3" y1="125.7" x2="488.7" y2="125.7" stroke="#555" stroke-width="0.7"/>
<line x1="495.9" y1="125.7" x2="497.3" y2="125.7" stroke="#555" stroke-width="0.7"/>
<line x1="503.7" y1="125.7" x2="506.7" y2="125.7" stroke="#000" stroke-width="0.7"/>
<line x1="505.2" y1="124.2" x2="505.2" y2="127.2" stroke="#000" stroke-width="0.7"/>
<text x="7.8" y="149.4" font-size="11.8" font-weight="bold" fill="#000">C</text>
<line x1="37" y1="155.2" x2="37" y2="231.8" stroke="#000" stroke-width="1.1"/>
<line x1="34.6" y1="221.3" x2="37" y2="221.3" stroke="#000" stroke-width="0.8"/>
<text x="31.3" y="223.57" font-size="6.3" text-anchor="end">0</text>
<line x1="34.6" y1="210.75" x2="37" y2="210.75" stroke="#000" stroke-width="0.8"/>
<text x="31.3" y="213.02" font-size="6.3" text-anchor="end">20</text>
<line x1="34.6" y1="200.2" x2="37" y2="200.2" stroke="#000" stroke-width="0.8"/>
<text x="31.3" y="202.47" font-size="6.3" text-anchor="end">40</text>
<line x1="34.6" y1="189.65" x2="37" y2="189.65" stroke="#000" stroke-width="0.8"/>
<text x="31.3" y="191.92" font-size="6.3" text-anchor="end">60</text>
<line x1="34.6" y1="179.1" x2="37" y2="179.1" stroke="#000" stroke-width="0.8"/>
<text x="31.3" y="181.37" font-size="6.3" text-anchor="end">80</text>
<line x1="34.6" y1="168.55" x2="37" y2="168.55" stroke="#000" stroke-width="0.8"/>
<text x="31.3" y="170.82" font-size="6.3" text-anchor="end">100</text>
<line x1="34.6" y1="158" x2="37" y2="158" stroke="#000" stroke-width="0.8"/>
<text x="31.3" y="160.27" font-size="6.3" text-anchor="end">120</text>
<line x1="34.6" y1="231.85" x2="37" y2="231.85" stroke="#000" stroke-width="0.8"/>
<text x="31.3" y="234.12" font-size="6.3" text-anchor="end">-2</text>
<line x1="35.5" y1="231.7" x2="145" y2="231.7" stroke="#000" stroke-width="1.1"/>
<line x1="41.7" y1="231.7" x2="41.7" y2="235" stroke="#000" stroke-width="0.85"/>
<line x1="46.95" y1="231.7" x2="46.95" y2="235" stroke="#000" stroke-width="0.85"/>
<line x1="52.2" y1="231.7" x2="52.2" y2="235" stroke="#000" stroke-width="0.85"/>
<line x1="57.45" y1="231.7" x2="57.45" y2="235" stroke="#000" stroke-width="0.85"/>
<line x1="62.7" y1="231.7" x2="62.7" y2="235" stroke="#000" stroke-width="0.85"/>
<line x1="67.95" y1="231.7" x2="67.95" y2="235" stroke="#000" stroke-width="0.85"/>
<line x1="73.2" y1="231.7" x2="73.2" y2="235" stroke="#000" stroke-width="0.85"/>
<line x1="78.45" y1="231.7" x2="78.45" y2="235" stroke="#000" stroke-width="0.85"/>
<line x1="83.7" y1="231.7" x2="83.7" y2="235" stroke="#000" stroke-width="0.85"/>
<line x1="88.95" y1="231.7" x2="88.95" y2="235" stroke="#000" stroke-width="0.85"/>
<line x1="94.2" y1="231.7" x2="94.2" y2="235" stroke="#000" stroke-width="0.85"/>
<line x1="99.45" y1="231.7" x2="99.45" y2="235" stroke="#000" stroke-width="0.85"/>
<line x1="104.7" y1="231.7" x2="104.7" y2="235" stroke="#000" stroke-width="0.85"/>
<line x1="109.95" y1="231.7" x2="109.95" y2="235" stroke="#000" stroke-width="0.85"/>
<line x1="115.2" y1="231.7" x2="115.2" y2="235" stroke="#000" stroke-width="0.85"/>
<line x1="120.45" y1="231.7" x2="120.45" y2="235" stroke="#000" stroke-width="0.85"/>
<line x1="125.7" y1="231.7" x2="125.7" y2="235" stroke="#000" stroke-width="0.85"/>
<line x1="130.95" y1="231.7" x2="130.95" y2="235" stroke="#000" stroke-width="0.85"/>
<line x1="136.2" y1="231.7" x2="136.2" y2="235" stroke="#000" stroke-width="0.85"/>
<line x1="141.45" y1="231.7" x2="141.45" y2="235" stroke="#000" stroke-width="0.85"/>
<text x="41.7" y="244.2" font-size="6" text-anchor="middle">0</text>
<text x="52.2" y="244.2" font-size="6" text-anchor="middle">20</text>
<text x="62.7" y="244.2" font-size="6" text-anchor="middle">40</text>
<text x="73.2" y="244.2" font-size="6" text-anchor="middle">60</text>
<text x="83.7" y="244.2" font-size="6" text-anchor="middle">80</text>
<text x="94.2" y="244.2" font-size="6" text-anchor="middle">100</text>
<text x="104.7" y="244.2" font-size="6" text-anchor="middle">120</text>
<text x="115.2" y="244.2" font-size="6" text-anchor="middle">140</text>
<text x="125.7" y="244.2" font-size="6" text-anchor="middle">160</text>
<text x="136.2" y="244.2" font-size="6" text-anchor="middle">180</text>
<text x="89.9" y="255.6" font-size="8" text-anchor="middle" textLength="32.8" lengthAdjust="spacingAndGlyphs">Time (min)</text>
<text x="14.26" y="193.75" font-size="7.4" text-anchor="middle" textLength="47.3" lengthAdjust="spacingAndGlyphs" transform="rotate(-90 14.26 193.75)">Thrombin (nM)</text>
<circle cx="108.8" cy="162.9" r="2.1" fill="none" stroke="#7d90c4" stroke-width="0.75"/>
<path d="M106.6 170 L111 170 L108.8 173.7 Z" fill="#4f9d2a"/>
<circle cx="108.8" cy="180.5" r="2.1" fill="#a8052c"/>
<text x="114.2" y="165.3" font-size="6.6" textLength="26.7" lengthAdjust="spacingAndGlyphs">TBI-TBST</text>
<text x="114.2" y="174" font-size="6.6" textLength="18.8" lengthAdjust="spacingAndGlyphs">TBI-A2</text>
<text x="114.2" y="182.9" font-size="6.6" textLength="16.3" lengthAdjust="spacingAndGlyphs">Sham</text>
<g fill="none" stroke="#8c9ccb" stroke-width="0.55"><circle cx="41.7" cy="217.19" r="0.75"/><circle cx="42.23" cy="216.73" r="0.75"/><circle cx="42.75" cy="216.91" r="0.75"/><circle cx="43.28" cy="216.82" r="0.75"/><circle cx="43.8" cy="216.94" r="0.75"/><circle cx="44.33" cy="216.91" r="0.75"/><circle cx="44.85" cy="216.61" r="0.75"/><circle cx="45.38" cy="217.16" r="0.75"/><circle cx="45.9" cy="217.17" r="0.75"/><circle cx="46.43" cy="216.45" r="0.75"/><circle cx="46.95" cy="215.33" r="0.75"/><circle cx="47.48" cy="207.51" r="0.75"/><circle cx="48" cy="199.14" r="0.75"/><circle cx="48.53" cy="189.89" r="0.75"/><circle cx="49.05" cy="181.73" r="0.75"/><circle cx="49.58" cy="174.07" r="0.75"/><circle cx="50.1" cy="169.66" r="0.75"/><circle cx="50.62" cy="165.8" r="0.75"/><circle cx="51.15" cy="162.69" r="0.75"/><circle cx="51.68" cy="162.42" r="0.75"/><circle cx="52.2" cy="163.5" r="0.75"/><circle cx="52.73" cy="165.05" r="0.75"/><circle cx="53.25" cy="166.22" r="0.75"/><circle cx="53.78" cy="169.61" r="0.75"/><circle cx="54.3" cy="172.11" r="0.75"/><circle cx="54.83" cy="176.03" r="0.75"/><circle cx="55.35" cy="180.43" r="0.75"/><circle cx="55.88" cy="181.26" r="0.75"/><circle cx="56.4" cy="183.57" r="0.75"/><circle cx="56.93" cy="186.04" r="0.75"/><circle cx="57.45" cy="190.06" r="0.75"/><circle cx="57.98" cy="192.52" r="0.75"/><circle cx="58.5" cy="194.77" r="0.75"/><circle cx="59.03" cy="197.08" r="0.75"/><circle cx="59.55" cy="197.75" r="0.75"/><circle cx="60.08" cy="198.89" r="0.75"/><circle cx="60.6" cy="200.16" r="0.75"/><circle cx="61.12" cy="201.36" r="0.75"/><circle cx="61.65" cy="202.15" r="0.75"/><circle cx="62.18" cy="202.4" r="0.75"/><circle cx="62.7" cy="204.23" r="0.75"/><circle cx="63.23" cy="204.37" r="0.75"/><circle cx="63.75" cy="204.87" r="0.75"/><circle cx="64.28" cy="206.26" r="0.75"/><circle cx="64.8" cy="206.19" r="0.75"/><circle cx="65.33" cy="206.24" r="0.75"/><circle cx="65.85" cy="208.22" r="0.75"/><circle cx="66.38" cy="208.09" r="0.75"/><circle cx="66.9" cy="208.58" r="0.75"/><circle cx="67.43" cy="209.46" r="0.75"/><circle cx="67.95" cy="209.49" r="0.75"/><circle cx="68.48" cy="210.03" r="0.75"/><circle cx="69" cy="210.93" r="0.75"/><circle cx="69.53" cy="210.28" r="0.75"/><circle cx="70.05" cy="210.65" r="0.75"/><circle cx="70.58" cy="210.85" r="0.75"/><circle cx="71.1" cy="210.95" r="0.75"/><circle cx="71.62" cy="211.71" r="0.75"/><circle cx="72.15" cy="212.13" r="0.75"/><circle cx="72.68" cy="213.04" r="0.75"/><circle cx="73.2" cy="212.54" r="0.75"/><circle cx="73.72" cy="213.5" r="0.75"/><circle cx="74.25" cy="213.71" r="0.75"/><circle cx="74.78" cy="214.53" r="0.75"/><circle cx="75.3" cy="214.65" r="0.75"/><circle cx="75.83" cy="214.69" r="0.75"/><circle cx="76.35" cy="213.84" r="0.75"/><circle cx="76.88" cy="216.26" r="0.75"/><circle cx="77.4" cy="216.06" r="0.75"/><circle cx="77.93" cy="215.14" r="0.75"/><circle cx="78.45" cy="214.54" r="0.75"/><circle cx="78.97" cy="215.25" r="0.75"/><circle cx="79.5" cy="216.98" r="0.75"/><circle cx="80.03" cy="217.54" r="0.75"/><circle cx="80.55" cy="215.88" r="0.75"/><circle cx="81.08" cy="216.73" r="0.75"/><circle cx="81.6" cy="217.14" r="0.75"/><circle cx="82.12" cy="215.97" r="0.75"/><circle cx="82.65" cy="216.06" r="0.75"/><circle cx="83.18" cy="216.82" r="0.75"/><circle cx="83.7" cy="216.92" r="0.75"/><circle cx="84.22" cy="216.91" r="0.75"/><circle cx="84.75" cy="216.28" r="0.75"/><circle cx="85.28" cy="217" r="0.75"/><circle cx="85.8" cy="217.17" r="0.75"/><circle cx="86.33" cy="217.26" r="0.75"/><circle cx="86.85" cy="218.71" r="0.75"/><circle cx="87.38" cy="217.01" r="0.75"/><circle cx="87.9" cy="217.32" r="0.75"/><circle cx="88.43" cy="217.69" r="0.75"/><circle cx="88.95" cy="219.38" r="0.75"/><circle cx="89.47" cy="218.64" r="0.75"/><circle cx="90" cy="217.81" r="0.75"/><circle cx="90.53" cy="219.6" r="0.75"/><circle cx="91.05" cy="218.67" r="0.75"/><circle cx="91.58" cy="218.02" r="0.75"/><circle cx="92.1" cy="219.6" r="0.75"/><circle cx="92.62" cy="217.85" r="0.75"/><circle cx="93.15" cy="218.63" r="0.75"/><circle cx="93.68" cy="219.18" r="0.75"/><circle cx="94.2" cy="218.98" r="0.75"/><circle cx="94.73" cy="218.81" r="0.75"/><circle cx="95.25" cy="219.18" r="0.75"/><circle cx="95.78" cy="218.57" r="0.75"/><circle cx="96.3" cy="219.75" r="0.75"/><circle cx="96.83" cy="219.63" r="0.75"/><circle cx="97.35" cy="218.74" r="0.75"/><circle cx="97.88" cy="219.42" r="0.75"/><circle cx="98.4" cy="220.03" r="0.75"/><circle cx="98.93" cy="218.91" r="0.75"/><circle cx="99.45" cy="218.61" r="0.75"/><circle cx="99.98" cy="219.86" r="0.75"/><circle cx="100.5" cy="220.49" r="0.75"/><circle cx="101.03" cy="219.73" r="0.75"/><circle cx="101.55" cy="219.78" r="0.75"/><circle cx="102.08" cy="219.91" r="0.75"/><circle cx="102.6" cy="218.86" r="0.75"/><circle cx="103.12" cy="220.44" r="0.75"/><circle cx="103.65" cy="219.03" r="0.75"/><circle cx="104.18" cy="220.66" r="0.75"/><circle cx="104.7" cy="220.39" r="0.75"/><circle cx="105.23" cy="219.53" r="0.75"/><circle cx="105.75" cy="219.25" r="0.75"/><circle cx="106.28" cy="219.46" r="0.75"/><circle cx="106.8" cy="219.82" r="0.75"/><circle cx="107.33" cy="219.98" r="0.75"/><circle cx="107.85" cy="220.01" r="0.75"/><circle cx="108.38" cy="219.78" r="0.75"/><circle cx="108.9" cy="220.29" r="0.75"/><circle cx="109.43" cy="220.03" r="0.75"/><circle cx="109.95" cy="219.88" r="0.75"/><circle cx="110.48" cy="220.27" r="0.75"/><circle cx="111" cy="219.8" r="0.75"/><circle cx="111.53" cy="219.95" r="0.75"/><circle cx="112.05" cy="219.06" r="0.75"/><circle cx="112.58" cy="220.14" r="0.75"/><circle cx="113.1" cy="220.64" r="0.75"/><circle cx="113.62" cy="220.63" r="0.75"/><circle cx="114.15" cy="220.42" r="0.75"/><circle cx="114.68" cy="219.85" r="0.75"/><circle cx="115.2" cy="220.67" r="0.75"/><circle cx="115.73" cy="220.23" r="0.75"/><circle cx="116.25" cy="219.34" r="0.75"/><circle cx="116.78" cy="222.14" r="0.75"/><circle cx="117.3" cy="221.25" r="0.75"/><circle cx="117.83" cy="220.41" r="0.75"/><circle cx="118.35" cy="220.33" r="0.75"/><circle cx="118.88" cy="220.45" r="0.75"/><circle cx="119.4" cy="220.9" r="0.75"/><circle cx="119.93" cy="220.23" r="0.75"/><circle cx="120.45" cy="220.49" r="0.75"/><circle cx="120.98" cy="221.02" r="0.75"/><circle cx="121.5" cy="219.17" r="0.75"/><circle cx="122.03" cy="220.51" r="0.75"/><circle cx="122.55" cy="221.1" r="0.75"/><circle cx="123.08" cy="220.84" r="0.75"/><circle cx="123.6" cy="220.94" r="0.75"/><circle cx="124.12" cy="220.85" r="0.75"/><circle cx="124.65" cy="222.56" r="0.75"/><circle cx="125.18" cy="221.17" r="0.75"/><circle cx="125.7" cy="220.24" r="0.75"/><circle cx="126.23" cy="221.64" r="0.75"/><circle cx="126.75" cy="220.96" r="0.75"/><circle cx="127.28" cy="220.34" r="0.75"/><circle cx="127.8" cy="220.42" r="0.75"/><circle cx="128.32" cy="220.04" r="0.75"/><circle cx="128.85" cy="222.08" r="0.75"/><circle cx="129.38" cy="221.25" r="0.75"/><circle cx="129.9" cy="221.26" r="0.75"/><circle cx="130.43" cy="220.67" r="0.75"/><circle cx="130.95" cy="220.4" r="0.75"/><circle cx="131.48" cy="222.81" r="0.75"/><circle cx="132" cy="220.44" r="0.75"/><circle cx="132.53" cy="222.07" r="0.75"/><circle cx="133.05" cy="220.74" r="0.75"/><circle cx="133.57" cy="222.14" r="0.75"/><circle cx="134.1" cy="221.1" r="0.75"/><circle cx="134.62" cy="220.48" r="0.75"/><circle cx="135.15" cy="221.35" r="0.75"/><circle cx="135.68" cy="221.16" r="0.75"/><circle cx="136.2" cy="220.8" r="0.75"/></g>
<path fill="#56a232" d="M40.5 217.87h2.4l-1.2 2zM41.02 218.37h2.4l-1.2 2zM41.55 218.29h2.4l-1.2 2zM42.08 218.88h2.4l-1.2 2zM42.6 219.73h2.4l-1.2 2zM43.12 219.2h2.4l-1.2 2zM43.65 220.86h2.4l-1.2 2zM44.17 220.84h2.4l-1.2 2zM44.7 221.84h2.4l-1.2 2zM45.23 222.33h2.4l-1.2 2zM45.75 222.78h2.4l-1.2 2zM46.27 223.56h2.4l-1.2 2zM46.8 224.05h2.4l-1.2 2zM47.33 225.36h2.4l-1.2 2zM47.85 222.84h2.4l-1.2 2zM48.38 219.65h2.4l-1.2 2zM48.9 217.64h2.4l-1.2 2zM49.42 214.85h2.4l-1.2 2zM49.95 212.17h2.4l-1.2 2zM50.48 208.49h2.4l-1.2 2zM51 206.55h2.4l-1.2 2zM51.52 204.21h2.4l-1.2 2zM52.05 202.86h2.4l-1.2 2zM52.58 201.09h2.4l-1.2 2zM53.1 199.97h2.4l-1.2 2zM53.62 198.37h2.4l-1.2 2zM54.15 197.58h2.4l-1.2 2zM54.67 197.84h2.4l-1.2 2zM55.2 197.27h2.4l-1.2 2zM55.73 197.66h2.4l-1.2 2zM56.25 198.72h2.4l-1.2 2zM56.78 200.45h2.4l-1.2 2zM57.3 200.54h2.4l-1.2 2zM57.83 202.2h2.4l-1.2 2zM58.35 203.55h2.4l-1.2 2zM58.88 204.42h2.4l-1.2 2zM59.4 205.6h2.4l-1.2 2zM59.92 206.01h2.4l-1.2 2zM60.45 207.56h2.4l-1.2 2zM60.98 207.63h2.4l-1.2 2zM61.5 208.27h2.4l-1.2 2zM62.03 209.03h2.4l-1.2 2zM62.55 210.3h2.4l-1.2 2zM63.08 211.23h2.4l-1.2 2zM63.6 211.43h2.4l-1.2 2zM64.12 212.11h2.4l-1.2 2zM64.65 212.42h2.4l-1.2 2zM65.17 212.31h2.4l-1.2 2zM65.7 213.15h2.4l-1.2 2zM66.23 214.11h2.4l-1.2 2zM66.75 213.81h2.4l-1.2 2zM67.28 214.58h2.4l-1.2 2zM67.8 214.04h2.4l-1.2 2zM68.33 214.51h2.4l-1.2 2zM68.85 215.11h2.4l-1.2 2zM69.38 215.23h2.4l-1.2 2zM69.9 215.09h2.4l-1.2 2zM70.42 215.45h2.4l-1.2 2zM70.95 215.19h2.4l-1.2 2zM71.48 215.75h2.4l-1.2 2zM72 215.53h2.4l-1.2 2zM72.52 214.81h2.4l-1.2 2zM73.05 214.84h2.4l-1.2 2zM73.58 216.78h2.4l-1.2 2zM74.1 215.68h2.4l-1.2 2zM74.62 217.98h2.4l-1.2 2zM75.15 217.48h2.4l-1.2 2zM75.67 218.31h2.4l-1.2 2zM76.2 216.04h2.4l-1.2 2zM76.73 217.98h2.4l-1.2 2zM77.25 217.14h2.4l-1.2 2zM77.77 217.37h2.4l-1.2 2zM78.3 217.33h2.4l-1.2 2zM78.83 217.87h2.4l-1.2 2zM79.35 217.3h2.4l-1.2 2zM79.88 216.16h2.4l-1.2 2zM80.4 217.63h2.4l-1.2 2zM80.92 217.34h2.4l-1.2 2zM81.45 217.06h2.4l-1.2 2zM81.98 218.09h2.4l-1.2 2zM82.5 219.02h2.4l-1.2 2zM83.02 218.55h2.4l-1.2 2zM83.55 217.35h2.4l-1.2 2zM84.08 219.6h2.4l-1.2 2zM84.6 218.86h2.4l-1.2 2zM85.12 217.67h2.4l-1.2 2zM85.65 217.93h2.4l-1.2 2zM86.17 218.64h2.4l-1.2 2zM86.7 218.1h2.4l-1.2 2zM87.23 218.7h2.4l-1.2 2zM87.75 219.85h2.4l-1.2 2zM88.27 220.21h2.4l-1.2 2zM88.8 219.53h2.4l-1.2 2zM89.33 218.35h2.4l-1.2 2zM89.85 219.58h2.4l-1.2 2zM90.38 219.9h2.4l-1.2 2zM90.9 219.84h2.4l-1.2 2zM91.42 220.5h2.4l-1.2 2zM91.95 219.43h2.4l-1.2 2zM92.48 220.33h2.4l-1.2 2zM93 219.16h2.4l-1.2 2zM93.53 221.37h2.4l-1.2 2zM94.05 219.29h2.4l-1.2 2zM94.58 220.11h2.4l-1.2 2zM95.1 221.19h2.4l-1.2 2zM95.62 219.14h2.4l-1.2 2zM96.15 219.98h2.4l-1.2 2zM96.67 221.58h2.4l-1.2 2zM97.2 220.52h2.4l-1.2 2zM97.73 219.6h2.4l-1.2 2zM98.25 220.21h2.4l-1.2 2zM98.78 219.23h2.4l-1.2 2zM99.3 219.27h2.4l-1.2 2zM99.83 219.34h2.4l-1.2 2zM100.35 219.62h2.4l-1.2 2zM100.88 218.83h2.4l-1.2 2zM101.4 219.38h2.4l-1.2 2zM101.92 219.55h2.4l-1.2 2zM102.45 221.57h2.4l-1.2 2zM102.98 219.22h2.4l-1.2 2zM103.5 218.9h2.4l-1.2 2zM104.03 220.18h2.4l-1.2 2zM104.55 220.33h2.4l-1.2 2zM105.08 218.43h2.4l-1.2 2zM105.6 221.37h2.4l-1.2 2zM106.12 219.61h2.4l-1.2 2zM106.65 218.07h2.4l-1.2 2zM107.17 220.74h2.4l-1.2 2zM107.7 219.47h2.4l-1.2 2zM108.23 218.53h2.4l-1.2 2zM108.75 220.13h2.4l-1.2 2zM109.28 219.6h2.4l-1.2 2zM109.8 219.33h2.4l-1.2 2zM110.33 220.78h2.4l-1.2 2zM110.85 220.14h2.4l-1.2 2zM111.38 219.85h2.4l-1.2 2zM111.9 219.43h2.4l-1.2 2zM112.42 220.12h2.4l-1.2 2zM112.95 220.26h2.4l-1.2 2zM113.48 220.92h2.4l-1.2 2zM114 220.41h2.4l-1.2 2zM114.53 219.43h2.4l-1.2 2zM115.05 220.06h2.4l-1.2 2zM115.58 220.83h2.4l-1.2 2zM116.1 220.83h2.4l-1.2 2zM116.62 218.06h2.4l-1.2 2zM117.15 219.28h2.4l-1.2 2zM117.67 219.69h2.4l-1.2 2zM118.2 222.25h2.4l-1.2 2zM118.73 219.72h2.4l-1.2 2zM119.25 219.84h2.4l-1.2 2zM119.78 218.9h2.4l-1.2 2zM120.3 219.9h2.4l-1.2 2zM120.83 220.3h2.4l-1.2 2zM121.35 219.84h2.4l-1.2 2zM121.88 221.8h2.4l-1.2 2zM122.4 219.46h2.4l-1.2 2zM122.92 220.03h2.4l-1.2 2zM123.45 220.85h2.4l-1.2 2zM123.98 219.25h2.4l-1.2 2zM124.5 218.88h2.4l-1.2 2zM125.03 221.43h2.4l-1.2 2zM125.55 220.86h2.4l-1.2 2zM126.08 220.11h2.4l-1.2 2zM126.6 220.2h2.4l-1.2 2zM127.12 220.67h2.4l-1.2 2zM127.65 221.14h2.4l-1.2 2zM128.18 218.7h2.4l-1.2 2zM128.7 219.57h2.4l-1.2 2zM129.23 221.34h2.4l-1.2 2zM129.75 221.47h2.4l-1.2 2zM130.28 219.07h2.4l-1.2 2zM130.8 219.64h2.4l-1.2 2zM131.33 218.99h2.4l-1.2 2zM131.85 219.8h2.4l-1.2 2zM132.38 221.14h2.4l-1.2 2zM132.9 220.26h2.4l-1.2 2zM133.43 222.18h2.4l-1.2 2zM133.95 221.07h2.4l-1.2 2zM134.48 220.54h2.4l-1.2 2zM135 220.09h2.4l-1.2 2z"/>
<g fill="#a8052c"><circle cx="41.7" cy="217.34" r="1.2"/><circle cx="42.23" cy="217.47" r="1.2"/><circle cx="42.75" cy="217.6" r="1.2"/><circle cx="43.28" cy="217.88" r="1.2"/><circle cx="43.8" cy="218.08" r="1.2"/><circle cx="44.33" cy="218.43" r="1.2"/><circle cx="44.85" cy="218.8" r="1.2"/><circle cx="45.38" cy="218.82" r="1.2"/><circle cx="45.9" cy="219.24" r="1.2"/><circle cx="46.43" cy="219.66" r="1.2"/><circle cx="46.95" cy="219.83" r="1.2"/><circle cx="47.48" cy="219.91" r="1.2"/><circle cx="48" cy="220.15" r="1.2"/><circle cx="48.53" cy="220.3" r="1.2"/><circle cx="49.05" cy="220.55" r="1.2"/><circle cx="49.58" cy="219.71" r="1.2"/><circle cx="50.1" cy="218.53" r="1.2"/><circle cx="50.62" cy="217.53" r="1.2"/><circle cx="51.15" cy="215.94" r="1.2"/><circle cx="51.68" cy="213.96" r="1.2"/><circle cx="52.2" cy="212.24" r="1.2"/><circle cx="52.73" cy="210.53" r="1.2"/><circle cx="53.25" cy="208.55" r="1.2"/><circle cx="53.78" cy="207.92" r="1.2"/><circle cx="54.3" cy="207.19" r="1.2"/><circle cx="54.83" cy="205.85" r="1.2"/><circle cx="55.35" cy="205.62" r="1.2"/><circle cx="55.88" cy="205.99" r="1.2"/><circle cx="56.4" cy="207.09" r="1.2"/><circle cx="56.93" cy="208.14" r="1.2"/><circle cx="57.45" cy="208.99" r="1.2"/><circle cx="57.98" cy="209.63" r="1.2"/><circle cx="58.5" cy="211.23" r="1.2"/><circle cx="59.03" cy="212.62" r="1.2"/><circle cx="59.55" cy="213.21" r="1.2"/><circle cx="60.08" cy="213.65" r="1.2"/><circle cx="60.6" cy="214.37" r="1.2"/><circle cx="61.12" cy="215.15" r="1.2"/><circle cx="61.65" cy="215.58" r="1.2"/><circle cx="62.18" cy="216.35" r="1.2"/><circle cx="62.7" cy="216.87" r="1.2"/><circle cx="63.23" cy="217.1" r="1.2"/><circle cx="63.75" cy="217.23" r="1.2"/><circle cx="64.28" cy="217.74" r="1.2"/><circle cx="64.8" cy="218.09" r="1.2"/><circle cx="65.33" cy="218.89" r="1.2"/><circle cx="65.85" cy="218.84" r="1.2"/><circle cx="66.38" cy="218.79" r="1.2"/><circle cx="66.9" cy="219.15" r="1.2"/><circle cx="67.43" cy="219" r="1.2"/><circle cx="67.95" cy="219.24" r="1.2"/><circle cx="68.48" cy="219.32" r="1.2"/><circle cx="69" cy="219.7" r="1.2"/><circle cx="69.53" cy="219.26" r="1.2"/><circle cx="70.05" cy="219.68" r="1.2"/><circle cx="70.58" cy="220.12" r="1.2"/><circle cx="71.1" cy="220.18" r="1.2"/><circle cx="71.62" cy="219.69" r="1.2"/><circle cx="72.15" cy="220.34" r="1.2"/><circle cx="72.68" cy="220.12" r="1.2"/><circle cx="73.2" cy="220.13" r="1.2"/><circle cx="73.72" cy="220.37" r="1.2"/><circle cx="74.25" cy="220.9" r="1.2"/><circle cx="74.78" cy="220.36" r="1.2"/><circle cx="75.3" cy="220.33" r="1.2"/><circle cx="75.83" cy="220.04" r="1.2"/><circle cx="76.35" cy="220.22" r="1.2"/><circle cx="76.88" cy="220.57" r="1.2"/><circle cx="77.4" cy="220.26" r="1.2"/><circle cx="77.93" cy="220.42" r="1.2"/><circle cx="78.45" cy="220.6" r="1.2"/><circle cx="78.97" cy="220.7" r="1.2"/><circle cx="79.5" cy="220.86" r="1.2"/><circle cx="80.03" cy="220.5" r="1.2"/><circle cx="80.55" cy="221.27" r="1.2"/><circle cx="81.08" cy="221.13" r="1.2"/><circle cx="81.6" cy="220.89" r="1.2"/><circle cx="82.12" cy="221.55" r="1.2"/><circle cx="82.65" cy="221.15" r="1.2"/><circle cx="83.18" cy="221.85" r="1.2"/><circle cx="83.7" cy="221.32" r="1.2"/><circle cx="84.22" cy="220.79" r="1.2"/><circle cx="84.75" cy="220.79" r="1.2"/><circle cx="85.28" cy="221.05" r="1.2"/><circle cx="85.8" cy="221.12" r="1.2"/><circle cx="86.33" cy="221.62" r="1.2"/><circle cx="86.85" cy="220.25" r="1.2"/><circle cx="87.38" cy="220.8" r="1.2"/><circle cx="87.9" cy="220.55" r="1.2"/><circle cx="88.43" cy="221.38" r="1.2"/><circle cx="88.95" cy="221.09" r="1.2"/><circle cx="89.47" cy="221.78" r="1.2"/><circle cx="90" cy="220.68" r="1.2"/><circle cx="90.53" cy="220.61" r="1.2"/><circle cx="91.05" cy="221.8" r="1.2"/><circle cx="91.58" cy="221.02" r="1.2"/><circle cx="92.1" cy="220.73" r="1.2"/><circle cx="92.62" cy="221.73" r="1.2"/><circle cx="93.15" cy="221.76" r="1.2"/><circle cx="93.68" cy="221.44" r="1.2"/><circle cx="94.2" cy="221.25" r="1.2"/><circle cx="94.73" cy="221.57" r="1.2"/><circle cx="95.25" cy="220.96" r="1.2"/><circle cx="95.78" cy="220.87" r="1.2"/><circle cx="96.3" cy="220.71" r="1.2"/><circle cx="96.83" cy="220.67" r="1.2"/><circle cx="97.35" cy="220.33" r="1.2"/><circle cx="97.88" cy="220.47" r="1.2"/><circle cx="98.4" cy="221.52" r="1.2"/><circle cx="98.93" cy="221.17" r="1.2"/><circle cx="99.45" cy="221.4" r="1.2"/><circle cx="99.98" cy="221.41" r="1.2"/><circle cx="100.5" cy="220.99" r="1.2"/><circle cx="101.03" cy="220.95" r="1.2"/><circle cx="101.55" cy="220.74" r="1.2"/><circle cx="102.08" cy="221.61" r="1.2"/><circle cx="102.6" cy="221.46" r="1.2"/><circle cx="103.12" cy="220.95" r="1.2"/><circle cx="103.65" cy="221.02" r="1.2"/><circle cx="104.18" cy="221.06" r="1.2"/><circle cx="104.7" cy="220.96" r="1.2"/><circle cx="105.23" cy="221.25" r="1.2"/><circle cx="105.75" cy="220.63" r="1.2"/><circle cx="106.28" cy="220.77" r="1.2"/><circle cx="106.8" cy="220.96" r="1.2"/><circle cx="107.33" cy="221.2" r="1.2"/><circle cx="107.85" cy="220.99" r="1.2"/><circle cx="108.38" cy="222.06" r="1.2"/><circle cx="108.9" cy="221.32" r="1.2"/><circle cx="109.43" cy="220.89" r="1.2"/><circle cx="109.95" cy="221.54" r="1.2"/><circle cx="110.48" cy="220.82" r="1.2"/><circle cx="111" cy="220.84" r="1.2"/><circle cx="111.53" cy="221.48" r="1.2"/><circle cx="112.05" cy="221" r="1.2"/><circle cx="112.58" cy="221.02" r="1.2"/><circle cx="113.1" cy="220.69" r="1.2"/><circle cx="113.62" cy="220.63" r="1.2"/><circle cx="114.15" cy="220.9" r="1.2"/><circle cx="114.68" cy="221.24" r="1.2"/><circle cx="115.2" cy="220.94" r="1.2"/><circle cx="115.73" cy="220.9" r="1.2"/><circle cx="116.25" cy="220.56" r="1.2"/><circle cx="116.78" cy="220.75" r="1.2"/><circle cx="117.3" cy="221.17" r="1.2"/><circle cx="117.83" cy="221.44" r="1.2"/><circle cx="118.35" cy="221.02" r="1.2"/><circle cx="118.88" cy="221.17" r="1.2"/><circle cx="119.4" cy="221.33" r="1.2"/><circle cx="119.93" cy="220.9" r="1.2"/><circle cx="120.45" cy="221.06" r="1.2"/><circle cx="120.98" cy="220.8" r="1.2"/><circle cx="121.5" cy="220.63" r="1.2"/><circle cx="122.03" cy="221.02" r="1.2"/><circle cx="122.55" cy="219.86" r="1.2"/><circle cx="123.08" cy="220.97" r="1.2"/><circle cx="123.6" cy="220.37" r="1.2"/><circle cx="124.12" cy="220.78" r="1.2"/><circle cx="124.65" cy="220.36" r="1.2"/><circle cx="125.18" cy="221.83" r="1.2"/><circle cx="125.7" cy="221.14" r="1.2"/><circle cx="126.23" cy="220.72" r="1.2"/><circle cx="126.75" cy="220.57" r="1.2"/><circle cx="127.28" cy="219.83" r="1.2"/><circle cx="127.8" cy="220.68" r="1.2"/><circle cx="128.32" cy="220.27" r="1.2"/><circle cx="128.85" cy="220.49" r="1.2"/><circle cx="129.38" cy="220.41" r="1.2"/><circle cx="129.9" cy="220.59" r="1.2"/><circle cx="130.43" cy="220.87" r="1.2"/><circle cx="130.95" cy="220.58" r="1.2"/><circle cx="131.48" cy="221.25" r="1.2"/><circle cx="132" cy="220.3" r="1.2"/><circle cx="132.53" cy="221.22" r="1.2"/><circle cx="133.05" cy="220.68" r="1.2"/><circle cx="133.57" cy="219.89" r="1.2"/><circle cx="134.1" cy="220.88" r="1.2"/><circle cx="134.62" cy="220.77" r="1.2"/><circle cx="135.15" cy="220.29" r="1.2"/><circle cx="135.68" cy="220.76" r="1.2"/><circle cx="136.2" cy="221.11" r="1.2"/></g>
<text x="78" y="269.3" font-size="8.6" text-anchor="middle" textLength="45.6" lengthAdjust="spacingAndGlyphs">Thrombin (nM)</text>
<line x1="37.2" y1="288.7" x2="37.2" y2="326.7" stroke="#000" stroke-width="1.1"/>
<line x1="37.2" y1="291.1" x2="118.2" y2="291.1" stroke="#000" stroke-width="1.1"/>
<line x1="37.3" y1="288.4" x2="37.3" y2="291.1" stroke="#000" stroke-width="0.8"/>
<text x="35" y="284.8" font-size="6.6" text-anchor="end" transform="rotate(90 35 284.8)">0</text>
<line x1="48.6" y1="288.4" x2="48.6" y2="291.1" stroke="#000" stroke-width="0.8"/>
<text x="46.3" y="284.8" font-size="6.6" text-anchor="end" transform="rotate(90 46.3 284.8)">20</text>
<line x1="59.9" y1="288.4" x2="59.9" y2="291.1" stroke="#000" stroke-width="0.8"/>
<text x="57.6" y="284.8" font-size="6.6" text-anchor="end" transform="rotate(90 57.6 284.8)">40</text>
<line x1="71.2" y1="288.4" x2="71.2" y2="291.1" stroke="#000" stroke-width="0.8"/>
<text x="68.9" y="284.8" font-size="6.6" text-anchor="end" transform="rotate(90 68.9 284.8)">60</text>
<line x1="82.5" y1="288.4" x2="82.5" y2="291.1" stroke="#000" stroke-width="0.8"/>
<text x="80.2" y="284.8" font-size="6.6" text-anchor="end" transform="rotate(90 80.2 284.8)">80</text>
<line x1="93.8" y1="288.4" x2="93.8" y2="291.1" stroke="#000" stroke-width="0.8"/>
<text x="91.5" y="284.8" font-size="6.6" text-anchor="end" transform="rotate(90 91.5 284.8)">100</text>
<line x1="105.1" y1="288.4" x2="105.1" y2="291.1" stroke="#000" stroke-width="0.8"/>
<text x="102.8" y="284.8" font-size="6.6" text-anchor="end" transform="rotate(90 102.8 284.8)">120</text>
<line x1="116.4" y1="288.4" x2="116.4" y2="291.1" stroke="#000" stroke-width="0.8"/>
<text x="114.1" y="284.8" font-size="6.6" text-anchor="end" transform="rotate(90 114.1 284.8)">140</text>
<line x1="51.8" y1="301.85" x2="59.4" y2="301.85" stroke="#000" stroke-width="0.9"/>
<rect x="37.2" y="297.9" width="14.3" height="7.9" fill="#a8052c" stroke="#8c0022" stroke-width="0.6"/>
<line x1="86.5" y1="311.1" x2="93.2" y2="311.1" stroke="#000" stroke-width="0.9"/>
<rect x="37.2" y="307.2" width="49" height="7.8" fill="#a8052c" stroke="#8c0022" stroke-width="0.6"/>
<line x1="61.7" y1="320.35" x2="71.9" y2="320.35" stroke="#000" stroke-width="0.9"/>
<rect x="37.2" y="316.5" width="24.2" height="7.7" fill="#a8052c" stroke="#8c0022" stroke-width="0.6"/>
<text x="28.3" y="289.7" font-size="6.4" text-anchor="end" textLength="14.8" lengthAdjust="spacingAndGlyphs" transform="rotate(90 28.3 289.7)">Sham</text>
<text x="21.7" y="289.7" font-size="6.4" text-anchor="end" textLength="25" lengthAdjust="spacingAndGlyphs" transform="rotate(90 21.7 289.7)">TBI-TBST</text>
<text x="14.5" y="290.8" font-size="6.4" text-anchor="end" textLength="20.2" lengthAdjust="spacingAndGlyphs" transform="rotate(90 14.5 290.8)">TBI-A2</text>
<line x1="15.3" y1="301.7" x2="16.9" y2="301.7" stroke="#666" stroke-width="0.7"/>
<line x1="22.4" y1="301.7" x2="24" y2="301.7" stroke="#666" stroke-width="0.7"/>
<line x1="28.4" y1="301.7" x2="32" y2="301.7" stroke="#000" stroke-width="0.75"/>
<line x1="30.2" y1="299.9" x2="30.2" y2="303.5" stroke="#000" stroke-width="0.75"/>
<line x1="15.3" y1="310.75" x2="16.9" y2="310.75" stroke="#666" stroke-width="0.7"/>
<line x1="21.4" y1="310.75" x2="25" y2="310.75" stroke="#000" stroke-width="0.75"/>
<line x1="23.2" y1="308.95" x2="23.2" y2="312.55" stroke="#000" stroke-width="0.75"/>
<line x1="29.4" y1="310.75" x2="31" y2="310.75" stroke="#666" stroke-width="0.7"/>
<line x1="14.3" y1="320.1" x2="17.9" y2="320.1" stroke="#000" stroke-width="0.75"/>
<line x1="16.1" y1="318.3" x2="16.1" y2="321.9" stroke="#000" stroke-width="0.75"/>
<line x1="22.4" y1="320.1" x2="24" y2="320.1" stroke="#666" stroke-width="0.7"/>
<line x1="29.4" y1="320.1" x2="31" y2="320.1" stroke="#666" stroke-width="0.7"/>
<line x1="96.7" y1="299.9" x2="96.7" y2="310.5" stroke="#333" stroke-width="1.1"/>
<text x="100.2" y="306.4" font-size="5.2" textLength="21.3" lengthAdjust="spacingAndGlyphs" fill="#222">p&lt;0.005</text>
<line x1="100.7" y1="311.2" x2="100.7" y2="321.6" stroke="#333" stroke-width="1.1"/>
<text x="104.3" y="318.9" font-size="5.2" textLength="20.3" lengthAdjust="spacingAndGlyphs" fill="#222">p=0.017</text>
<text x="155.1" y="148.6" font-size="11.8" font-weight="bold" fill="#000">E</text>
<text x="213.45" y="155.8" font-size="8.4" text-anchor="middle" textLength="21.5" lengthAdjust="spacingAndGlyphs">Sham</text>
<text x="317.5" y="156.1" font-size="8" text-anchor="middle" textLength="41.2" lengthAdjust="spacingAndGlyphs">TBI-TBST-1</text>
<text x="213.35" y="238.8" font-size="8" text-anchor="middle" textLength="26.3" lengthAdjust="spacingAndGlyphs">TBI-A2</text>
<text x="317.5" y="239.1" font-size="8" text-anchor="middle" textLength="41.2" lengthAdjust="spacingAndGlyphs">TBI-TBST-1</text>
<text x="382.9" y="149" font-size="11.8" font-weight="bold" fill="#000">G</text>
<line x1="416.8" y1="155.1" x2="416.8" y2="257.3" stroke="#000" stroke-width="1.1"/>
<line x1="414.4" y1="257.3" x2="416.8" y2="257.3" stroke="#000" stroke-width="0.8"/>
<text x="409.9" y="259.6" font-size="6.4" text-anchor="end">0</text>
<line x1="414.4" y1="243.59" x2="416.8" y2="243.59" stroke="#000" stroke-width="0.8"/>
<text x="409.9" y="245.89" font-size="6.4" text-anchor="end">200</text>
<line x1="414.4" y1="229.88" x2="416.8" y2="229.88" stroke="#000" stroke-width="0.8"/>
<text x="409.9" y="232.18" font-size="6.4" text-anchor="end">400</text>
<line x1="414.4" y1="216.17" x2="416.8" y2="216.17" stroke="#000" stroke-width="0.8"/>
<text x="409.9" y="218.47" font-size="6.4" text-anchor="end">600</text>
<line x1="414.4" y1="202.46" x2="416.8" y2="202.46" stroke="#000" stroke-width="0.8"/>
<text x="409.9" y="204.76" font-size="6.4" text-anchor="end">800</text>
<line x1="414.4" y1="188.75" x2="416.8" y2="188.75" stroke="#000" stroke-width="0.8"/>
<text x="409.9" y="191.05" font-size="6.4" text-anchor="end">1000</text>
<line x1="414.4" y1="175.04" x2="416.8" y2="175.04" stroke="#000" stroke-width="0.8"/>
<text x="409.9" y="177.34" font-size="6.4" text-anchor="end">1200</text>
<line x1="414.4" y1="161.33" x2="416.8" y2="161.33" stroke="#000" stroke-width="0.8"/>
<text x="409.9" y="163.63" font-size="6.4" text-anchor="end">1400</text>
<line x1="414" y1="257.3" x2="466" y2="257.3" stroke="#000" stroke-width="1.1"/>
<text x="389.84" y="204.6" font-size="7.9" text-anchor="middle" textLength="56.6" lengthAdjust="spacingAndGlyphs" transform="rotate(-90 389.84 204.6)">Tail bleeding (sec.)</text>
<line x1="426.1" y1="222.2" x2="426.1" y2="216" stroke="#000" stroke-width="0.8"/>
<line x1="424.7" y1="216" x2="427.5" y2="216" stroke="#000" stroke-width="0.8"/>
<rect x="422.1" y="222.5" width="8" height="34.8" fill="#a8052c" stroke="#8c0022" stroke-width="0.6"/>
<line x1="436.3" y1="216" x2="436.3" y2="199.2" stroke="#000" stroke-width="0.8"/>
<line x1="434.9" y1="199.2" x2="437.7" y2="199.2" stroke="#000" stroke-width="0.8"/>
<rect x="432.2" y="216.3" width="8.2" height="41" fill="#a8052c" stroke="#8c0022" stroke-width="0.6"/>
<line x1="446.6" y1="186.9" x2="446.6" y2="175.4" stroke="#000" stroke-width="0.8"/>
<line x1="445.2" y1="175.4" x2="448" y2="175.4" stroke="#000" stroke-width="0.8"/>
<rect x="442.3" y="187.2" width="8.6" height="70.1" fill="#a8052c" stroke="#8c0022" stroke-width="0.6"/>
<line x1="456.8" y1="212.2" x2="456.8" y2="196" stroke="#000" stroke-width="0.8"/>
<line x1="455.4" y1="196" x2="458.2" y2="196" stroke="#000" stroke-width="0.8"/>
<rect x="452.7" y="212.5" width="8.2" height="44.8" fill="#a8052c" stroke="#8c0022" stroke-width="0.6"/>
<text x="441.9" y="157.3" font-size="5" textLength="17.4" lengthAdjust="spacingAndGlyphs" fill="#3a3a3a">p&lt;0.01</text>
<line x1="444.6" y1="159.7" x2="456.5" y2="159.7" stroke="#000" stroke-width="0.8"/>
<text x="432" y="169.4" font-size="5" textLength="21" lengthAdjust="spacingAndGlyphs" fill="#3a3a3a">p&lt;0.005</text>
<line x1="436.2" y1="171.8" x2="448.8" y2="171.8" stroke="#000" stroke-width="0.8"/>
<text x="428.4" y="260.5" font-size="6.4" text-anchor="end" textLength="24.7" lengthAdjust="spacingAndGlyphs" transform="rotate(-90 428.4 260.5)">Baseline</text>
<text x="438.4" y="260.5" font-size="6.4" text-anchor="end" textLength="16.5" lengthAdjust="spacingAndGlyphs" transform="rotate(-90 438.4 260.5)">Sham</text>
<text x="448.1" y="260.5" font-size="6.4" text-anchor="end" textLength="26.9" lengthAdjust="spacingAndGlyphs" transform="rotate(-90 448.1 260.5)">TBI-TBST</text>
<text x="458.9" y="260.5" font-size="6.4" text-anchor="end" textLength="20.2" lengthAdjust="spacingAndGlyphs" transform="rotate(-90 458.9 260.5)">TBI-A2</text>
<rect x="0.5" y="0.5" width="519" height="333" fill="none" stroke="#000" stroke-width="1.2"/>
</svg>
</body></html>
